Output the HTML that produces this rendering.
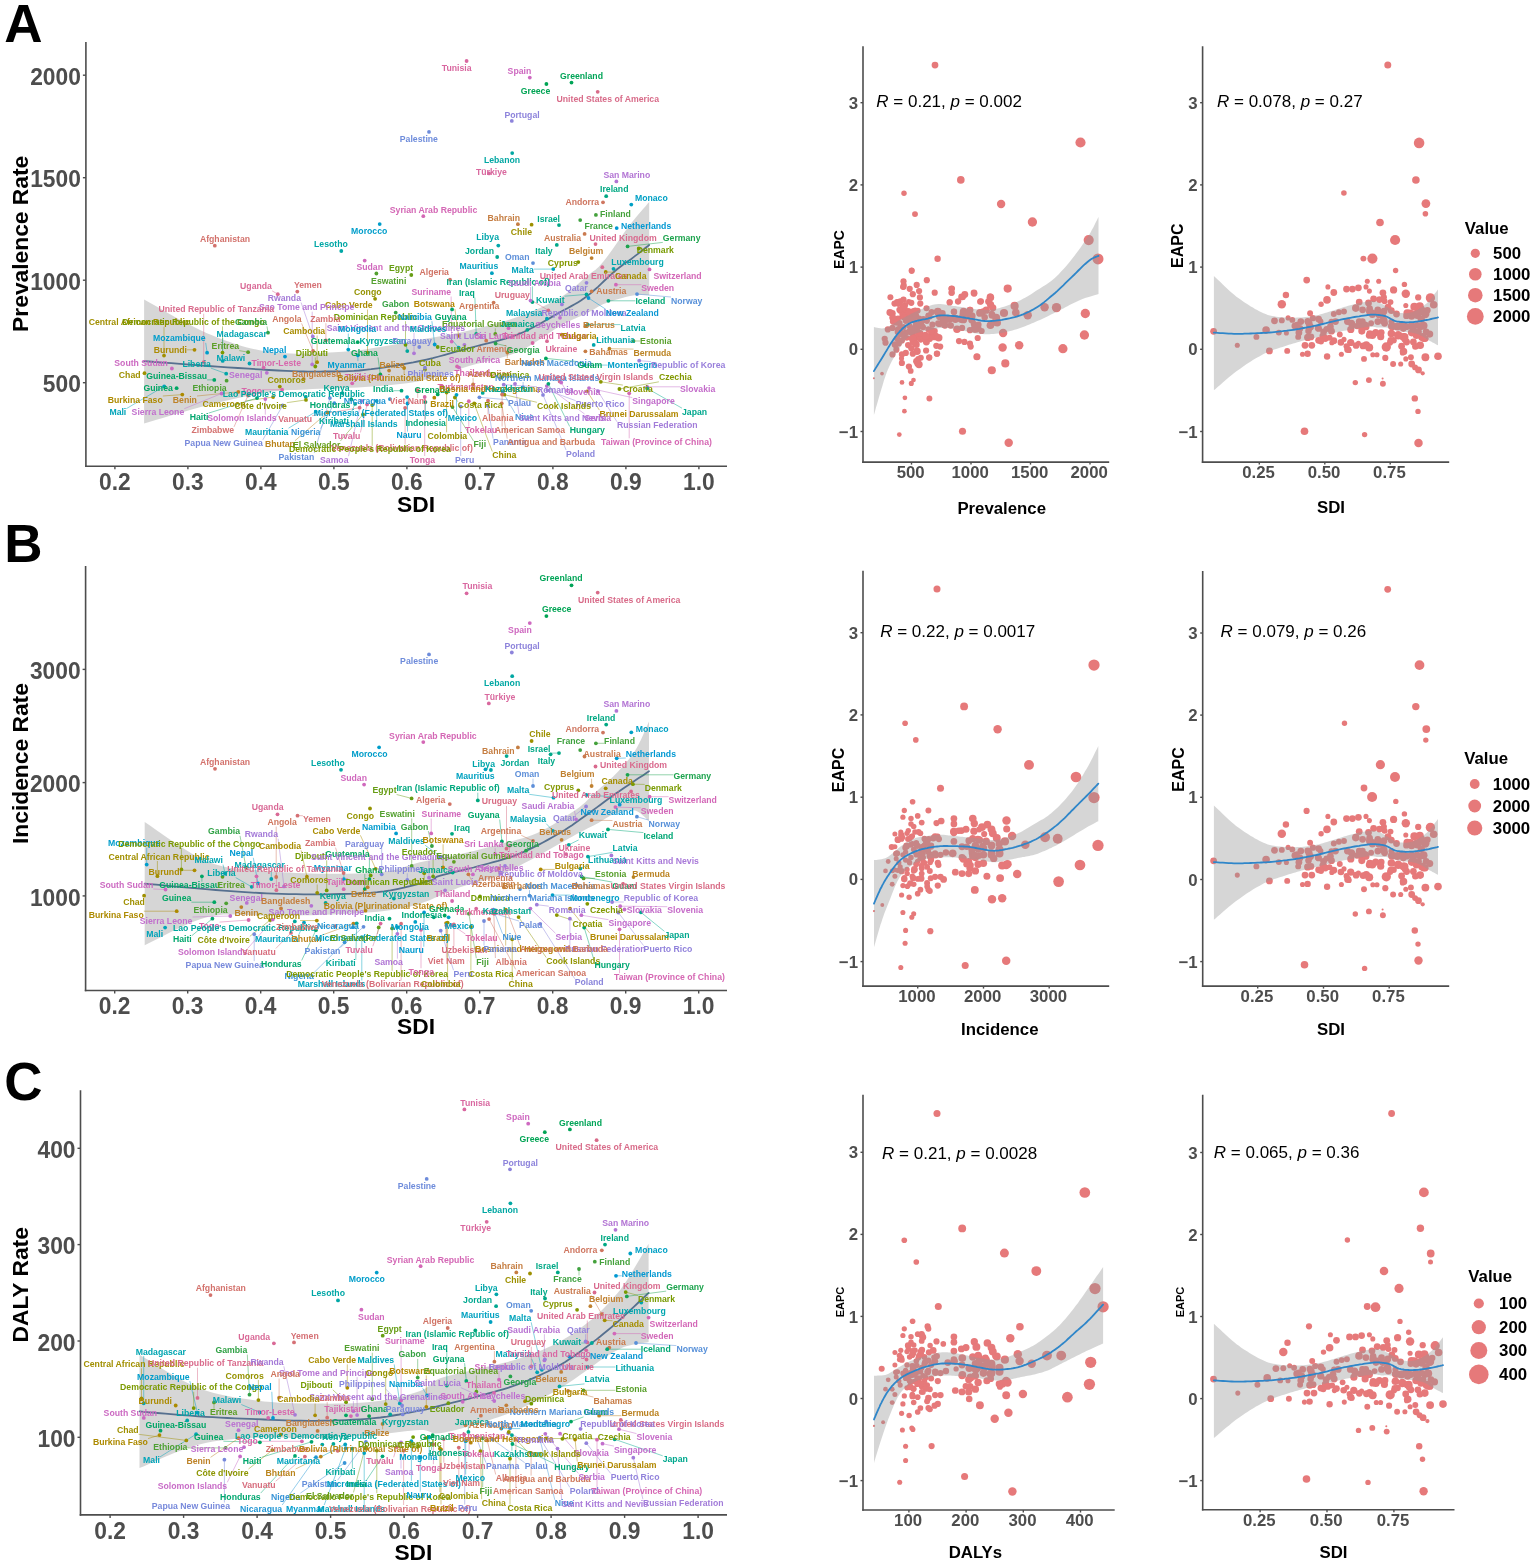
<!DOCTYPE html>
<html><head><meta charset="utf-8"><title>Figure</title>
<style>html,body{margin:0;padding:0;background:#fff;}svg{display:block;}
text{font-family:"Liberation Sans", Arial, sans-serif;font-weight:bold;}</style></head>
<body><svg width="1535" height="1566" viewBox="0 0 1535 1566">
<rect width="1535" height="1566" fill="#fff"/>
<text x="4.3" y="41.7" font-size="53" fill="#000">A</text>
<text x="4.3" y="562.4" font-size="53" fill="#000">B</text>
<text x="4.3" y="1099.8" font-size="53" fill="#000">C</text>
<circle cx="935.0" cy="65.1" r="3.39" fill="#e6797a"/>
<circle cx="1080.5" cy="142.5" r="5.08" fill="#e6797a"/>
<circle cx="960.8" cy="179.9" r="3.81" fill="#e6797a"/>
<circle cx="904.0" cy="193.3" r="2.71" fill="#e6797a"/>
<circle cx="1001.1" cy="204.0" r="4.23" fill="#e6797a"/>
<circle cx="915.0" cy="214.1" r="2.96" fill="#e6797a"/>
<circle cx="1032.4" cy="222.0" r="4.66" fill="#e6797a"/>
<circle cx="1088.7" cy="240.1" r="5.08" fill="#e6797a"/>
<circle cx="1098.0" cy="258.9" r="5.50" fill="#e6797a"/>
<circle cx="937.6" cy="258.8" r="3.22" fill="#e6797a"/>
<circle cx="911.7" cy="270.3" r="2.71" fill="#e6797a"/>
<circle cx="951.8" cy="288.6" r="3.22" fill="#e6797a"/>
<circle cx="951.8" cy="292.8" r="2.96" fill="#e6797a"/>
<circle cx="974.0" cy="293.0" r="3.39" fill="#e6797a"/>
<circle cx="1007.7" cy="288.6" r="4.07" fill="#e6797a"/>
<circle cx="961.6" cy="296.9" r="3.39" fill="#e6797a"/>
<circle cx="957.9" cy="301.6" r="2.96" fill="#e6797a"/>
<circle cx="949.8" cy="302.1" r="2.96" fill="#e6797a"/>
<circle cx="990.4" cy="297.4" r="3.81" fill="#e6797a"/>
<circle cx="980.3" cy="301.6" r="3.22" fill="#e6797a"/>
<circle cx="988.7" cy="301.6" r="3.56" fill="#e6797a"/>
<circle cx="990.4" cy="305.0" r="3.39" fill="#e6797a"/>
<circle cx="1014.6" cy="305.9" r="4.07" fill="#e6797a"/>
<circle cx="1044.6" cy="307.2" r="4.23" fill="#e6797a"/>
<circle cx="1056.5" cy="307.6" r="4.66" fill="#e6797a"/>
<circle cx="954.0" cy="311.8" r="3.22" fill="#e6797a"/>
<circle cx="970.1" cy="310.1" r="3.39" fill="#e6797a"/>
<circle cx="982.0" cy="312.6" r="3.39" fill="#e6797a"/>
<circle cx="992.1" cy="315.2" r="3.56" fill="#e6797a"/>
<circle cx="1004.0" cy="313.0" r="4.07" fill="#e6797a"/>
<circle cx="1015.8" cy="312.6" r="3.81" fill="#e6797a"/>
<circle cx="1027.7" cy="315.2" r="4.23" fill="#e6797a"/>
<circle cx="1085.3" cy="313.5" r="4.66" fill="#e6797a"/>
<circle cx="990.4" cy="325.3" r="3.81" fill="#e6797a"/>
<circle cx="997.2" cy="322.8" r="3.81" fill="#e6797a"/>
<circle cx="1003.1" cy="333.0" r="4.23" fill="#e6797a"/>
<circle cx="1084.4" cy="335.0" r="4.66" fill="#e6797a"/>
<circle cx="1002.6" cy="347.4" r="4.23" fill="#e6797a"/>
<circle cx="1019.2" cy="345.2" r="4.23" fill="#e6797a"/>
<circle cx="1062.9" cy="348.7" r="4.66" fill="#e6797a"/>
<circle cx="976.9" cy="356.7" r="3.56" fill="#e6797a"/>
<circle cx="1005.3" cy="363.4" r="4.07" fill="#e6797a"/>
<circle cx="991.8" cy="370.2" r="4.07" fill="#e6797a"/>
<circle cx="882.0" cy="373.6" r="1.86" fill="#e6797a"/>
<circle cx="873.9" cy="378.2" r="1.02" fill="#e6797a"/>
<circle cx="902.0" cy="382.4" r="2.37" fill="#e6797a"/>
<circle cx="911.3" cy="383.4" r="2.54" fill="#e6797a"/>
<circle cx="913.5" cy="380.0" r="2.37" fill="#e6797a"/>
<circle cx="904.9" cy="397.8" r="2.37" fill="#e6797a"/>
<circle cx="929.4" cy="398.5" r="2.96" fill="#e6797a"/>
<circle cx="904.4" cy="411.2" r="2.37" fill="#e6797a"/>
<circle cx="899.3" cy="434.6" r="2.37" fill="#e6797a"/>
<circle cx="962.5" cy="431.2" r="3.56" fill="#e6797a"/>
<circle cx="1008.7" cy="442.7" r="4.23" fill="#e6797a"/>
<circle cx="885.1" cy="339.2" r="1.69" fill="#e6797a"/>
<circle cx="885.4" cy="343.1" r="1.69" fill="#e6797a"/>
<circle cx="887.9" cy="329.2" r="2.12" fill="#e6797a"/>
<circle cx="892.2" cy="354.1" r="2.12" fill="#e6797a"/>
<circle cx="901.5" cy="358.4" r="2.54" fill="#e6797a"/>
<circle cx="901.5" cy="363.4" r="2.37" fill="#e6797a"/>
<circle cx="909.1" cy="366.8" r="2.54" fill="#e6797a"/>
<circle cx="917.6" cy="363.4" r="2.96" fill="#e6797a"/>
<circle cx="918.4" cy="359.2" r="2.54" fill="#e6797a"/>
<circle cx="929.1" cy="357.5" r="2.96" fill="#e6797a"/>
<circle cx="936.7" cy="353.8" r="2.96" fill="#e6797a"/>
<circle cx="911.7" cy="270.8" r="3.10" fill="#e6797a"/>
<circle cx="903.5" cy="281.3" r="3.10" fill="#e6797a"/>
<circle cx="926.8" cy="280.2" r="3.10" fill="#e6797a"/>
<circle cx="903.5" cy="286.8" r="3.10" fill="#e6797a"/>
<circle cx="916.7" cy="284.9" r="3.10" fill="#e6797a"/>
<circle cx="909.7" cy="288.8" r="3.10" fill="#e6797a"/>
<circle cx="919.1" cy="291.1" r="3.10" fill="#e6797a"/>
<circle cx="934.7" cy="292.7" r="3.10" fill="#e6797a"/>
<circle cx="912.8" cy="294.2" r="3.10" fill="#e6797a"/>
<circle cx="919.9" cy="297.4" r="3.10" fill="#e6797a"/>
<circle cx="951.5" cy="288.8" r="3.10" fill="#e6797a"/>
<circle cx="951.5" cy="292.7" r="3.10" fill="#e6797a"/>
<circle cx="962.9" cy="297.0" r="3.10" fill="#e6797a"/>
<circle cx="974.2" cy="293.5" r="3.10" fill="#e6797a"/>
<circle cx="990.2" cy="296.6" r="3.10" fill="#e6797a"/>
<circle cx="980.9" cy="301.3" r="3.10" fill="#e6797a"/>
<circle cx="949.6" cy="302.4" r="3.10" fill="#e6797a"/>
<circle cx="958.2" cy="301.3" r="3.10" fill="#e6797a"/>
<circle cx="991.0" cy="304.4" r="3.10" fill="#e6797a"/>
<circle cx="894.5" cy="303.6" r="3.10" fill="#e6797a"/>
<circle cx="900.3" cy="301.3" r="3.10" fill="#e6797a"/>
<circle cx="903.5" cy="299.7" r="3.10" fill="#e6797a"/>
<circle cx="905.0" cy="305.2" r="3.10" fill="#e6797a"/>
<circle cx="911.3" cy="302.8" r="3.10" fill="#e6797a"/>
<circle cx="920.3" cy="303.6" r="3.10" fill="#e6797a"/>
<circle cx="900.3" cy="310.7" r="3.10" fill="#e6797a"/>
<circle cx="915.2" cy="310.7" r="3.10" fill="#e6797a"/>
<circle cx="931.6" cy="312.2" r="3.10" fill="#e6797a"/>
<circle cx="953.9" cy="311.8" r="3.10" fill="#e6797a"/>
<circle cx="969.9" cy="309.9" r="3.10" fill="#e6797a"/>
<circle cx="983.2" cy="311.4" r="3.10" fill="#e6797a"/>
<circle cx="991.8" cy="313.8" r="3.10" fill="#e6797a"/>
<circle cx="905.8" cy="313.8" r="3.10" fill="#e6797a"/>
<circle cx="898.0" cy="318.5" r="3.10" fill="#e6797a"/>
<circle cx="903.5" cy="316.9" r="3.10" fill="#e6797a"/>
<circle cx="909.7" cy="316.9" r="3.10" fill="#e6797a"/>
<circle cx="916.0" cy="315.3" r="3.10" fill="#e6797a"/>
<circle cx="893.3" cy="321.6" r="3.10" fill="#e6797a"/>
<circle cx="899.5" cy="323.2" r="3.10" fill="#e6797a"/>
<circle cx="905.8" cy="320.8" r="3.10" fill="#e6797a"/>
<circle cx="912.8" cy="320.0" r="3.10" fill="#e6797a"/>
<circle cx="919.1" cy="318.5" r="3.10" fill="#e6797a"/>
<circle cx="926.9" cy="320.8" r="3.10" fill="#e6797a"/>
<circle cx="932.4" cy="324.7" r="3.10" fill="#e6797a"/>
<circle cx="939.4" cy="323.9" r="3.10" fill="#e6797a"/>
<circle cx="944.1" cy="321.6" r="3.10" fill="#e6797a"/>
<circle cx="887.8" cy="329.4" r="3.10" fill="#e6797a"/>
<circle cx="892.5" cy="327.9" r="3.10" fill="#e6797a"/>
<circle cx="898.0" cy="329.4" r="3.10" fill="#e6797a"/>
<circle cx="903.5" cy="327.1" r="3.10" fill="#e6797a"/>
<circle cx="909.7" cy="326.3" r="3.10" fill="#e6797a"/>
<circle cx="916.0" cy="324.7" r="3.10" fill="#e6797a"/>
<circle cx="922.2" cy="326.3" r="3.10" fill="#e6797a"/>
<circle cx="928.5" cy="329.4" r="3.10" fill="#e6797a"/>
<circle cx="934.7" cy="331.0" r="3.10" fill="#e6797a"/>
<circle cx="900.3" cy="334.1" r="3.10" fill="#e6797a"/>
<circle cx="905.8" cy="332.5" r="3.10" fill="#e6797a"/>
<circle cx="912.8" cy="332.5" r="3.10" fill="#e6797a"/>
<circle cx="919.1" cy="334.1" r="3.10" fill="#e6797a"/>
<circle cx="925.3" cy="334.9" r="3.10" fill="#e6797a"/>
<circle cx="931.6" cy="334.1" r="3.10" fill="#e6797a"/>
<circle cx="934.7" cy="337.2" r="3.10" fill="#e6797a"/>
<circle cx="962.1" cy="327.9" r="3.10" fill="#e6797a"/>
<circle cx="969.9" cy="330.2" r="3.10" fill="#e6797a"/>
<circle cx="973.8" cy="323.9" r="3.10" fill="#e6797a"/>
<circle cx="978.5" cy="324.7" r="3.10" fill="#e6797a"/>
<circle cx="981.6" cy="331.0" r="3.10" fill="#e6797a"/>
<circle cx="991.0" cy="324.7" r="3.10" fill="#e6797a"/>
<circle cx="995.7" cy="320.0" r="3.10" fill="#e6797a"/>
<circle cx="884.7" cy="338.8" r="3.10" fill="#e6797a"/>
<circle cx="885.5" cy="342.7" r="3.10" fill="#e6797a"/>
<circle cx="897.2" cy="338.8" r="3.10" fill="#e6797a"/>
<circle cx="901.9" cy="340.4" r="3.10" fill="#e6797a"/>
<circle cx="895.6" cy="345.1" r="3.10" fill="#e6797a"/>
<circle cx="898.8" cy="343.5" r="3.10" fill="#e6797a"/>
<circle cx="904.2" cy="336.5" r="3.10" fill="#e6797a"/>
<circle cx="916.0" cy="338.0" r="3.10" fill="#e6797a"/>
<circle cx="920.7" cy="339.6" r="3.10" fill="#e6797a"/>
<circle cx="926.1" cy="338.8" r="3.10" fill="#e6797a"/>
<circle cx="930.0" cy="338.8" r="3.10" fill="#e6797a"/>
<circle cx="916.0" cy="343.5" r="3.10" fill="#e6797a"/>
<circle cx="908.1" cy="345.1" r="3.10" fill="#e6797a"/>
<circle cx="911.3" cy="348.2" r="3.10" fill="#e6797a"/>
<circle cx="896.4" cy="349.7" r="3.10" fill="#e6797a"/>
<circle cx="892.5" cy="354.4" r="3.10" fill="#e6797a"/>
<circle cx="901.9" cy="354.4" r="3.10" fill="#e6797a"/>
<circle cx="905.8" cy="352.9" r="3.10" fill="#e6797a"/>
<circle cx="912.8" cy="353.7" r="3.10" fill="#e6797a"/>
<circle cx="936.3" cy="345.8" r="3.10" fill="#e6797a"/>
<circle cx="940.2" cy="346.6" r="3.10" fill="#e6797a"/>
<circle cx="926.1" cy="350.5" r="3.10" fill="#e6797a"/>
<circle cx="929.3" cy="357.6" r="3.10" fill="#e6797a"/>
<circle cx="937.1" cy="353.7" r="3.10" fill="#e6797a"/>
<circle cx="959.0" cy="341.1" r="3.10" fill="#e6797a"/>
<circle cx="964.4" cy="341.9" r="3.10" fill="#e6797a"/>
<circle cx="969.9" cy="343.5" r="3.10" fill="#e6797a"/>
<circle cx="970.7" cy="346.6" r="3.10" fill="#e6797a"/>
<circle cx="977.7" cy="338.0" r="3.10" fill="#e6797a"/>
<circle cx="977.0" cy="356.8" r="3.10" fill="#e6797a"/>
<circle cx="901.9" cy="363.0" r="3.10" fill="#e6797a"/>
<circle cx="908.9" cy="366.6" r="3.10" fill="#e6797a"/>
<circle cx="918.3" cy="359.1" r="3.10" fill="#e6797a"/>
<circle cx="917.5" cy="363.8" r="3.10" fill="#e6797a"/>
<circle cx="898.4" cy="331.7" r="3.72" fill="#e6797a"/>
<circle cx="899.0" cy="329.7" r="3.39" fill="#e6797a"/>
<circle cx="915.7" cy="343.9" r="3.43" fill="#e6797a"/>
<circle cx="912.0" cy="318.1" r="3.11" fill="#e6797a"/>
<circle cx="926.4" cy="342.0" r="3.49" fill="#e6797a"/>
<circle cx="938.7" cy="337.8" r="3.76" fill="#e6797a"/>
<circle cx="902.8" cy="306.1" r="2.96" fill="#e6797a"/>
<circle cx="923.2" cy="327.3" r="2.86" fill="#e6797a"/>
<circle cx="913.6" cy="337.1" r="2.83" fill="#e6797a"/>
<circle cx="900.1" cy="329.4" r="3.64" fill="#e6797a"/>
<circle cx="896.4" cy="322.4" r="3.30" fill="#e6797a"/>
<circle cx="904.9" cy="309.4" r="3.08" fill="#e6797a"/>
<circle cx="944.4" cy="324.5" r="3.64" fill="#e6797a"/>
<circle cx="908.5" cy="311.1" r="3.03" fill="#e6797a"/>
<circle cx="909.9" cy="331.6" r="3.56" fill="#e6797a"/>
<circle cx="894.9" cy="344.5" r="3.19" fill="#e6797a"/>
<circle cx="929.8" cy="316.8" r="2.81" fill="#e6797a"/>
<circle cx="916.4" cy="361.3" r="3.27" fill="#e6797a"/>
<circle cx="921.0" cy="323.2" r="2.88" fill="#e6797a"/>
<circle cx="898.7" cy="304.0" r="3.07" fill="#e6797a"/>
<circle cx="918.6" cy="333.3" r="3.76" fill="#e6797a"/>
<circle cx="911.1" cy="316.9" r="3.05" fill="#e6797a"/>
<circle cx="913.7" cy="328.9" r="3.59" fill="#e6797a"/>
<circle cx="916.5" cy="344.8" r="3.25" fill="#e6797a"/>
<circle cx="916.8" cy="350.9" r="2.93" fill="#e6797a"/>
<circle cx="907.7" cy="318.7" r="3.22" fill="#e6797a"/>
<circle cx="912.7" cy="338.4" r="3.77" fill="#e6797a"/>
<circle cx="913.7" cy="311.7" r="3.68" fill="#e6797a"/>
<circle cx="913.3" cy="341.8" r="3.65" fill="#e6797a"/>
<circle cx="907.9" cy="319.3" r="3.78" fill="#e6797a"/>
<circle cx="912.6" cy="338.1" r="3.57" fill="#e6797a"/>
<circle cx="906.8" cy="337.8" r="2.88" fill="#e6797a"/>
<circle cx="922.2" cy="337.4" r="3.05" fill="#e6797a"/>
<circle cx="902.9" cy="315.6" r="3.25" fill="#e6797a"/>
<circle cx="922.1" cy="320.4" r="3.37" fill="#e6797a"/>
<circle cx="915.1" cy="317.3" r="2.96" fill="#e6797a"/>
<circle cx="926.5" cy="308.3" r="3.05" fill="#e6797a"/>
<circle cx="917.0" cy="351.2" r="3.74" fill="#e6797a"/>
<circle cx="919.0" cy="364.5" r="3.68" fill="#e6797a"/>
<circle cx="902.4" cy="314.6" r="2.91" fill="#e6797a"/>
<circle cx="936.1" cy="335.8" r="3.04" fill="#e6797a"/>
<circle cx="908.6" cy="312.8" r="3.62" fill="#e6797a"/>
<circle cx="903.9" cy="317.3" r="2.98" fill="#e6797a"/>
<circle cx="910.1" cy="319.1" r="3.03" fill="#e6797a"/>
<circle cx="892.3" cy="313.3" r="3.41" fill="#e6797a"/>
<circle cx="920.8" cy="357.8" r="3.01" fill="#e6797a"/>
<circle cx="931.0" cy="336.3" r="3.25" fill="#e6797a"/>
<circle cx="929.3" cy="337.8" r="3.17" fill="#e6797a"/>
<circle cx="920.3" cy="333.1" r="3.16" fill="#e6797a"/>
<circle cx="942.8" cy="317.5" r="3.46" fill="#e6797a"/>
<circle cx="920.3" cy="322.9" r="2.94" fill="#e6797a"/>
<circle cx="925.9" cy="335.9" r="3.71" fill="#e6797a"/>
<circle cx="917.8" cy="310.7" r="2.83" fill="#e6797a"/>
<circle cx="918.0" cy="326.7" r="3.53" fill="#e6797a"/>
<circle cx="910.7" cy="370.9" r="2.88" fill="#e6797a"/>
<circle cx="911.1" cy="330.8" r="3.70" fill="#e6797a"/>
<circle cx="923.3" cy="319.7" r="3.59" fill="#e6797a"/>
<circle cx="931.2" cy="330.7" r="3.48" fill="#e6797a"/>
<circle cx="938.3" cy="323.5" r="3.22" fill="#e6797a"/>
<circle cx="928.6" cy="315.9" r="3.37" fill="#e6797a"/>
<circle cx="963.6" cy="311.5" r="3.79" fill="#e6797a"/>
<circle cx="968.0" cy="315.9" r="3.85" fill="#e6797a"/>
<circle cx="996.2" cy="317.7" r="3.95" fill="#e6797a"/>
<circle cx="957.0" cy="329.2" r="3.79" fill="#e6797a"/>
<circle cx="950.7" cy="325.6" r="3.24" fill="#e6797a"/>
<circle cx="971.8" cy="316.1" r="3.81" fill="#e6797a"/>
<circle cx="963.3" cy="319.4" r="3.92" fill="#e6797a"/>
<circle cx="955.4" cy="318.8" r="4.17" fill="#e6797a"/>
<circle cx="971.7" cy="320.1" r="3.48" fill="#e6797a"/>
<circle cx="968.3" cy="312.4" r="3.33" fill="#e6797a"/>
<circle cx="986.2" cy="310.2" r="3.64" fill="#e6797a"/>
<circle cx="980.0" cy="312.9" r="3.88" fill="#e6797a"/>
<circle cx="975.8" cy="328.8" r="4.04" fill="#e6797a"/>
<circle cx="992.8" cy="307.8" r="3.57" fill="#e6797a"/>
<circle cx="962.8" cy="314.1" r="3.30" fill="#e6797a"/>
<circle cx="949.2" cy="319.0" r="4.09" fill="#e6797a"/>
<circle cx="964.8" cy="294.4" r="3.45" fill="#e6797a"/>
<circle cx="978.1" cy="328.3" r="3.45" fill="#e6797a"/>
<circle cx="974.5" cy="328.8" r="3.84" fill="#e6797a"/>
<circle cx="961.5" cy="318.9" r="4.08" fill="#e6797a"/>
<circle cx="984.7" cy="317.3" r="3.23" fill="#e6797a"/>
<circle cx="995.4" cy="322.6" r="3.19" fill="#e6797a"/>
<circle cx="942.4" cy="313.4" r="3.30" fill="#e6797a"/>
<circle cx="945.0" cy="320.7" r="3.12" fill="#e6797a"/>
<circle cx="943.2" cy="322.4" r="3.85" fill="#e6797a"/>
<circle cx="945.0" cy="325.7" r="3.02" fill="#e6797a"/>
<circle cx="939.6" cy="316.6" r="3.64" fill="#e6797a"/>
<circle cx="937.8" cy="311.8" r="3.98" fill="#e6797a"/>
<circle cx="897.1" cy="302.2" r="3.08" fill="#e6797a"/>
<circle cx="899.4" cy="309.7" r="3.07" fill="#e6797a"/>
<circle cx="898.0" cy="302.2" r="2.89" fill="#e6797a"/>
<circle cx="893.0" cy="321.4" r="3.12" fill="#e6797a"/>
<circle cx="890.4" cy="297.2" r="3.00" fill="#e6797a"/>
<circle cx="902.8" cy="287.1" r="2.72" fill="#e6797a"/>
<circle cx="908.8" cy="301.7" r="2.76" fill="#e6797a"/>
<circle cx="889.9" cy="312.5" r="3.48" fill="#e6797a"/>
<circle cx="892.7" cy="317.6" r="3.45" fill="#e6797a"/>
<circle cx="903.7" cy="285.0" r="3.07" fill="#e6797a"/>
<polygon points="873.9,327.0 874.7,327.2 875.8,327.4 877.1,327.7 878.6,328.0 880.2,328.3 881.9,328.4 883.6,328.3 885.4,327.9 887.3,327.2 889.3,326.2 891.4,325.1 893.5,323.8 895.8,322.4 898.0,321.1 900.2,319.8 902.3,318.6 904.5,317.4 906.6,316.3 908.7,315.2 910.8,314.1 912.9,313.0 915.0,312.0 917.2,311.0 919.3,310.1 921.4,309.2 923.5,308.3 925.6,307.4 927.8,306.5 929.9,305.7 932.0,305.1 934.1,304.5 936.2,304.2 938.3,304.0 940.5,304.0 942.6,304.2 944.7,304.5 946.8,304.8 948.9,305.2 951.0,305.6 953.2,305.9 955.3,306.1 957.4,306.5 959.5,306.8 961.6,307.1 963.7,307.5 965.9,307.8 968.0,308.1 970.1,308.4 972.2,308.7 974.3,309.0 976.4,309.3 978.6,309.6 980.7,309.9 982.8,310.0 984.9,310.1 987.0,310.1 989.1,309.9 991.3,309.7 993.4,309.3 995.5,308.9 997.6,308.4 999.7,307.9 1001.9,307.3 1004.0,306.7 1006.1,306.0 1008.2,305.3 1010.3,304.6 1012.4,303.7 1014.6,302.9 1016.7,301.9 1018.8,301.0 1020.9,299.9 1023.0,298.8 1025.1,297.7 1027.3,296.4 1029.4,295.2 1031.5,293.9 1033.6,292.5 1035.7,291.1 1037.8,289.8 1040.0,288.4 1042.1,287.1 1044.2,285.7 1046.3,284.4 1048.4,282.9 1050.5,281.4 1052.7,279.7 1054.8,277.9 1056.9,275.9 1059.0,273.9 1061.1,271.6 1063.3,269.3 1065.4,266.9 1067.5,264.5 1069.6,261.9 1071.7,259.3 1073.9,256.5 1076.1,253.6 1078.4,250.5 1080.6,247.4 1082.8,244.3 1084.9,241.3 1086.9,238.3 1088.7,235.6 1090.3,232.9 1091.8,230.1 1093.3,227.4 1094.6,224.8 1095.8,222.3 1096.9,220.2 1097.8,218.3 1098.5,216.9 1098.5,294.0 1097.1,294.4 1095.2,295.0 1092.9,295.7 1090.4,296.4 1087.8,297.3 1085.1,298.1 1082.5,299.0 1080.2,299.9 1078.0,300.9 1075.9,301.9 1073.7,302.9 1071.6,304.0 1069.5,305.1 1067.5,306.2 1065.4,307.3 1063.3,308.4 1061.1,309.5 1059.0,310.5 1056.9,311.6 1054.8,312.7 1052.7,313.8 1050.5,314.8 1048.4,315.9 1046.3,316.9 1044.2,317.9 1042.1,318.9 1040.0,319.9 1037.8,320.8 1035.7,321.8 1033.6,322.7 1031.5,323.6 1029.4,324.5 1027.3,325.3 1025.1,326.2 1023.0,327.0 1020.9,327.7 1018.8,328.5 1016.7,329.2 1014.6,329.8 1012.4,330.4 1010.3,331.0 1008.2,331.5 1006.1,332.0 1004.0,332.5 1001.9,332.9 999.7,333.3 997.6,333.6 995.5,333.8 993.4,334.0 991.3,334.1 989.1,334.2 987.0,334.2 984.9,334.2 982.8,334.1 980.7,334.0 978.6,333.8 976.4,333.5 974.3,333.2 972.2,332.7 970.1,332.3 968.0,331.8 965.9,331.3 963.7,330.8 961.6,330.4 959.5,330.0 957.4,329.6 955.3,329.2 953.2,328.8 951.0,328.4 948.9,328.1 946.8,327.9 944.7,327.9 942.6,327.9 940.5,328.1 938.3,328.3 936.2,328.7 934.1,329.1 932.0,329.5 929.9,329.9 927.8,330.4 925.6,330.9 923.3,331.4 921.0,332.0 918.8,332.6 916.5,333.2 914.5,333.9 912.5,334.7 910.8,335.5 909.3,336.4 908.1,337.3 907.0,338.2 906.0,339.2 905.1,340.3 904.3,341.4 903.3,342.6 902.3,344.0 901.3,345.4 900.2,346.9 899.2,348.5 898.1,350.1 897.1,351.8 896.0,353.7 894.9,355.5 893.9,357.5 892.8,359.5 891.8,361.3 890.8,363.2 889.8,365.2 888.8,367.5 887.7,369.9 886.6,372.8 885.4,376.2 884.0,380.3 882.5,385.4 880.8,391.0 879.1,396.8 877.5,402.5 876.0,407.6 874.8,412.0 873.9,415.1" fill="#999999" fill-opacity="0.4"/>
<polyline points="873.9,371.1 874.8,369.6 876.0,367.6 877.5,365.2 879.1,362.6 880.8,359.9 882.5,357.2 884.0,354.7 885.4,352.4 886.6,350.5 887.7,348.6 888.8,346.8 889.8,345.1 890.8,343.5 891.8,341.9 892.8,340.4 893.9,338.9 894.9,337.4 896.0,336.0 897.1,334.6 898.1,333.3 899.2,332.1 900.2,330.9 901.3,329.8 902.3,328.7 903.4,327.8 904.5,326.9 905.5,326.0 906.6,325.3 907.6,324.6 908.7,323.9 909.8,323.3 910.8,322.8 911.9,322.3 912.9,321.9 914.0,321.6 915.0,321.3 916.1,321.0 917.2,320.8 918.2,320.5 919.3,320.3 920.3,320.0 921.3,319.8 922.3,319.6 923.3,319.4 924.3,319.3 925.4,319.1 926.5,318.8 927.8,318.6 929.1,318.2 930.4,317.8 931.9,317.4 933.4,316.9 934.9,316.5 936.4,316.1 938.0,315.7 939.6,315.5 941.2,315.4 942.8,315.3 944.4,315.4 946.1,315.4 947.8,315.5 949.5,315.7 951.3,315.8 953.2,316.0 955.1,316.2 957.2,316.5 959.3,316.8 961.4,317.2 963.6,317.5 965.8,317.9 968.0,318.2 970.1,318.6 972.2,318.9 974.3,319.3 976.4,319.7 978.6,320.1 980.7,320.5 982.8,320.8 984.9,321.0 987.0,321.1 989.1,321.1 991.3,321.0 993.4,320.9 995.5,320.7 997.6,320.4 999.7,320.1 1001.9,319.8 1004.0,319.4 1006.1,319.0 1008.2,318.6 1010.3,318.2 1012.4,317.7 1014.6,317.2 1016.7,316.6 1018.8,315.9 1020.9,315.2 1023.0,314.4 1025.1,313.5 1027.3,312.5 1029.4,311.5 1031.5,310.4 1033.6,309.3 1035.7,308.0 1037.8,306.7 1040.0,305.3 1042.1,303.7 1044.2,302.1 1046.3,300.4 1048.4,298.6 1050.5,296.8 1052.7,295.0 1054.8,293.2 1056.9,291.3 1059.0,289.3 1061.1,287.3 1063.3,285.3 1065.4,283.2 1067.5,281.1 1069.6,279.1 1071.7,277.1 1073.9,275.0 1076.1,272.8 1078.4,270.5 1080.6,268.3 1082.8,266.2 1084.9,264.2 1086.9,262.5 1088.7,261.0 1090.3,259.8 1091.8,258.8 1093.3,258.0 1094.6,257.4 1095.8,256.9 1096.9,256.5 1097.8,256.2 1098.5,255.9" fill="none" stroke="#2f86c9" stroke-width="1.8" stroke-linecap="round"/>
<circle cx="1387.8" cy="65.1" r="3.50" fill="#e6797a"/>
<circle cx="1419.1" cy="142.9" r="5.30" fill="#e6797a"/>
<circle cx="1415.9" cy="180.0" r="3.80" fill="#e6797a"/>
<circle cx="1343.9" cy="193.0" r="2.80" fill="#e6797a"/>
<circle cx="1425.9" cy="203.6" r="4.40" fill="#e6797a"/>
<circle cx="1425.4" cy="213.8" r="2.80" fill="#e6797a"/>
<circle cx="1380.0" cy="222.5" r="3.81" fill="#e6797a"/>
<circle cx="1395.1" cy="240.0" r="5.08" fill="#e6797a"/>
<circle cx="1363.4" cy="258.6" r="2.96" fill="#e6797a"/>
<circle cx="1372.4" cy="258.6" r="5.08" fill="#e6797a"/>
<circle cx="1395.6" cy="270.5" r="2.71" fill="#e6797a"/>
<circle cx="1306.7" cy="280.1" r="3.39" fill="#e6797a"/>
<circle cx="1367.3" cy="281.3" r="2.54" fill="#e6797a"/>
<circle cx="1378.7" cy="281.3" r="2.54" fill="#e6797a"/>
<circle cx="1327.9" cy="286.9" r="2.54" fill="#e6797a"/>
<circle cx="1404.4" cy="284.4" r="2.71" fill="#e6797a"/>
<circle cx="1333.8" cy="292.5" r="3.39" fill="#e6797a"/>
<circle cx="1346.5" cy="289.1" r="3.39" fill="#e6797a"/>
<circle cx="1352.4" cy="289.1" r="3.39" fill="#e6797a"/>
<circle cx="1358.4" cy="287.8" r="3.39" fill="#e6797a"/>
<circle cx="1366.0" cy="286.9" r="2.54" fill="#e6797a"/>
<circle cx="1369.4" cy="291.1" r="2.54" fill="#e6797a"/>
<circle cx="1382.9" cy="292.8" r="3.39" fill="#e6797a"/>
<circle cx="1405.8" cy="293.7" r="4.23" fill="#e6797a"/>
<circle cx="1285.9" cy="295.0" r="3.22" fill="#e6797a"/>
<circle cx="1327.0" cy="299.9" r="3.81" fill="#e6797a"/>
<circle cx="1321.1" cy="304.3" r="2.71" fill="#e6797a"/>
<circle cx="1281.8" cy="304.3" r="4.23" fill="#e6797a"/>
<circle cx="1359.2" cy="302.1" r="3.39" fill="#e6797a"/>
<circle cx="1368.5" cy="303.0" r="3.39" fill="#e6797a"/>
<circle cx="1373.6" cy="298.8" r="3.39" fill="#e6797a"/>
<circle cx="1379.5" cy="299.6" r="3.39" fill="#e6797a"/>
<circle cx="1384.6" cy="301.3" r="2.96" fill="#e6797a"/>
<circle cx="1390.5" cy="302.1" r="2.96" fill="#e6797a"/>
<circle cx="1388.0" cy="307.2" r="3.39" fill="#e6797a"/>
<circle cx="1405.8" cy="305.5" r="2.54" fill="#e6797a"/>
<circle cx="1430.4" cy="297.9" r="4.66" fill="#e6797a"/>
<circle cx="1433.7" cy="304.7" r="3.81" fill="#e6797a"/>
<circle cx="1310.1" cy="313.2" r="2.96" fill="#e6797a"/>
<circle cx="1274.5" cy="320.8" r="3.39" fill="#e6797a"/>
<circle cx="1281.8" cy="320.4" r="2.96" fill="#e6797a"/>
<circle cx="1288.1" cy="317.9" r="2.54" fill="#e6797a"/>
<circle cx="1292.3" cy="319.9" r="2.96" fill="#e6797a"/>
<circle cx="1300.8" cy="321.6" r="3.39" fill="#e6797a"/>
<circle cx="1294.9" cy="325.9" r="3.39" fill="#e6797a"/>
<circle cx="1299.9" cy="328.4" r="3.39" fill="#e6797a"/>
<circle cx="1318.6" cy="319.1" r="3.39" fill="#e6797a"/>
<circle cx="1333.8" cy="314.0" r="2.96" fill="#e6797a"/>
<circle cx="1338.9" cy="312.3" r="2.96" fill="#e6797a"/>
<circle cx="1344.0" cy="311.5" r="2.96" fill="#e6797a"/>
<circle cx="1355.8" cy="308.1" r="3.81" fill="#e6797a"/>
<circle cx="1362.6" cy="309.8" r="3.39" fill="#e6797a"/>
<circle cx="1369.4" cy="311.5" r="3.39" fill="#e6797a"/>
<circle cx="1377.8" cy="309.8" r="3.39" fill="#e6797a"/>
<circle cx="1382.9" cy="314.9" r="2.96" fill="#e6797a"/>
<circle cx="1396.5" cy="314.0" r="3.39" fill="#e6797a"/>
<circle cx="1410.0" cy="313.2" r="3.81" fill="#e6797a"/>
<circle cx="1416.8" cy="314.0" r="4.23" fill="#e6797a"/>
<circle cx="1425.3" cy="314.0" r="4.23" fill="#e6797a"/>
<circle cx="1213.6" cy="331.3" r="3.39" fill="#e6797a"/>
<circle cx="1266.1" cy="330.1" r="3.81" fill="#e6797a"/>
<circle cx="1278.8" cy="332.6" r="2.96" fill="#e6797a"/>
<circle cx="1286.4" cy="333.0" r="2.54" fill="#e6797a"/>
<circle cx="1298.2" cy="336.9" r="2.96" fill="#e6797a"/>
<circle cx="1310.9" cy="336.9" r="3.39" fill="#e6797a"/>
<circle cx="1318.6" cy="328.4" r="3.39" fill="#e6797a"/>
<circle cx="1323.6" cy="331.8" r="3.39" fill="#e6797a"/>
<circle cx="1330.4" cy="326.7" r="3.39" fill="#e6797a"/>
<circle cx="1335.5" cy="321.6" r="3.39" fill="#e6797a"/>
<circle cx="1347.4" cy="321.6" r="3.39" fill="#e6797a"/>
<circle cx="1352.4" cy="325.0" r="3.39" fill="#e6797a"/>
<circle cx="1359.2" cy="321.6" r="3.39" fill="#e6797a"/>
<circle cx="1365.1" cy="325.0" r="3.39" fill="#e6797a"/>
<circle cx="1371.1" cy="323.3" r="2.96" fill="#e6797a"/>
<circle cx="1377.8" cy="321.6" r="3.39" fill="#e6797a"/>
<circle cx="1384.6" cy="323.3" r="3.39" fill="#e6797a"/>
<circle cx="1391.4" cy="321.6" r="2.96" fill="#e6797a"/>
<circle cx="1401.6" cy="325.0" r="3.39" fill="#e6797a"/>
<circle cx="1406.6" cy="326.7" r="3.39" fill="#e6797a"/>
<circle cx="1413.4" cy="328.4" r="3.39" fill="#e6797a"/>
<circle cx="1420.2" cy="326.7" r="3.39" fill="#e6797a"/>
<circle cx="1381.2" cy="332.6" r="3.39" fill="#e6797a"/>
<circle cx="1391.4" cy="333.5" r="3.81" fill="#e6797a"/>
<circle cx="1398.2" cy="335.2" r="4.23" fill="#e6797a"/>
<circle cx="1403.3" cy="336.9" r="3.81" fill="#e6797a"/>
<circle cx="1411.7" cy="332.6" r="3.81" fill="#e6797a"/>
<circle cx="1418.5" cy="331.8" r="3.39" fill="#e6797a"/>
<circle cx="1426.1" cy="331.8" r="3.39" fill="#e6797a"/>
<circle cx="1425.3" cy="338.6" r="3.39" fill="#e6797a"/>
<circle cx="1237.3" cy="345.3" r="2.54" fill="#e6797a"/>
<circle cx="1256.4" cy="336.9" r="2.96" fill="#e6797a"/>
<circle cx="1269.4" cy="350.9" r="3.39" fill="#e6797a"/>
<circle cx="1287.2" cy="350.9" r="2.96" fill="#e6797a"/>
<circle cx="1305.0" cy="345.3" r="3.39" fill="#e6797a"/>
<circle cx="1311.8" cy="345.3" r="3.39" fill="#e6797a"/>
<circle cx="1318.6" cy="340.3" r="3.39" fill="#e6797a"/>
<circle cx="1325.3" cy="338.6" r="3.39" fill="#e6797a"/>
<circle cx="1331.8" cy="342.8" r="2.54" fill="#e6797a"/>
<circle cx="1344.0" cy="339.4" r="2.54" fill="#e6797a"/>
<circle cx="1346.5" cy="346.2" r="2.96" fill="#e6797a"/>
<circle cx="1349.1" cy="350.4" r="2.54" fill="#e6797a"/>
<circle cx="1358.4" cy="343.3" r="2.54" fill="#e6797a"/>
<circle cx="1366.3" cy="345.0" r="3.81" fill="#e6797a"/>
<circle cx="1370.2" cy="334.8" r="2.54" fill="#e6797a"/>
<circle cx="1386.3" cy="347.0" r="4.66" fill="#e6797a"/>
<circle cx="1401.6" cy="346.2" r="3.39" fill="#e6797a"/>
<circle cx="1406.6" cy="342.0" r="3.39" fill="#e6797a"/>
<circle cx="1413.4" cy="342.0" r="3.39" fill="#e6797a"/>
<circle cx="1420.2" cy="345.3" r="3.81" fill="#e6797a"/>
<circle cx="1423.6" cy="338.6" r="3.39" fill="#e6797a"/>
<circle cx="1302.5" cy="354.3" r="2.54" fill="#e6797a"/>
<circle cx="1307.6" cy="353.8" r="3.22" fill="#e6797a"/>
<circle cx="1341.4" cy="354.3" r="2.54" fill="#e6797a"/>
<circle cx="1364.0" cy="358.9" r="2.96" fill="#e6797a"/>
<circle cx="1372.8" cy="354.7" r="2.54" fill="#e6797a"/>
<circle cx="1377.0" cy="354.7" r="2.54" fill="#e6797a"/>
<circle cx="1393.1" cy="364.0" r="2.96" fill="#e6797a"/>
<circle cx="1400.7" cy="364.0" r="2.54" fill="#e6797a"/>
<circle cx="1402.4" cy="353.0" r="2.54" fill="#e6797a"/>
<circle cx="1405.8" cy="358.9" r="2.54" fill="#e6797a"/>
<circle cx="1410.9" cy="357.2" r="2.96" fill="#e6797a"/>
<circle cx="1411.7" cy="364.0" r="3.39" fill="#e6797a"/>
<circle cx="1415.1" cy="367.4" r="2.96" fill="#e6797a"/>
<circle cx="1418.5" cy="369.9" r="3.39" fill="#e6797a"/>
<circle cx="1422.7" cy="373.3" r="2.12" fill="#e6797a"/>
<circle cx="1438.0" cy="356.3" r="3.81" fill="#e6797a"/>
<circle cx="1355.3" cy="382.6" r="2.71" fill="#e6797a"/>
<circle cx="1368.9" cy="380.1" r="2.96" fill="#e6797a"/>
<circle cx="1382.6" cy="378.4" r="1.02" fill="#e6797a"/>
<circle cx="1382.9" cy="383.8" r="2.96" fill="#e6797a"/>
<circle cx="1414.8" cy="398.4" r="3.22" fill="#e6797a"/>
<circle cx="1418.0" cy="411.4" r="2.71" fill="#e6797a"/>
<circle cx="1304.5" cy="431.2" r="3.81" fill="#e6797a"/>
<circle cx="1364.6" cy="434.6" r="2.71" fill="#e6797a"/>
<circle cx="1418.5" cy="443.1" r="4.23" fill="#e6797a"/>
<circle cx="1333.8" cy="340.8" r="3.45" fill="#e6797a"/>
<circle cx="1326.5" cy="329.1" r="3.06" fill="#e6797a"/>
<circle cx="1312.9" cy="318.2" r="3.10" fill="#e6797a"/>
<circle cx="1309.0" cy="323.2" r="3.57" fill="#e6797a"/>
<circle cx="1323.1" cy="336.3" r="3.70" fill="#e6797a"/>
<circle cx="1307.7" cy="337.4" r="3.60" fill="#e6797a"/>
<circle cx="1309.3" cy="327.9" r="3.35" fill="#e6797a"/>
<circle cx="1310.5" cy="327.0" r="3.45" fill="#e6797a"/>
<circle cx="1325.1" cy="337.7" r="2.89" fill="#e6797a"/>
<circle cx="1327.1" cy="356.5" r="3.20" fill="#e6797a"/>
<circle cx="1331.5" cy="331.2" r="3.41" fill="#e6797a"/>
<circle cx="1331.4" cy="321.6" r="2.92" fill="#e6797a"/>
<circle cx="1296.9" cy="324.8" r="2.98" fill="#e6797a"/>
<circle cx="1340.9" cy="342.4" r="3.31" fill="#e6797a"/>
<circle cx="1321.0" cy="341.4" r="3.02" fill="#e6797a"/>
<circle cx="1320.5" cy="321.3" r="2.91" fill="#e6797a"/>
<circle cx="1317.9" cy="328.1" r="3.08" fill="#e6797a"/>
<circle cx="1339.8" cy="334.5" r="2.92" fill="#e6797a"/>
<circle cx="1308.5" cy="331.1" r="3.28" fill="#e6797a"/>
<circle cx="1307.7" cy="321.2" r="3.26" fill="#e6797a"/>
<circle cx="1298.9" cy="332.7" r="3.39" fill="#e6797a"/>
<circle cx="1329.5" cy="337.7" r="3.04" fill="#e6797a"/>
<circle cx="1383.9" cy="297.3" r="3.04" fill="#e6797a"/>
<circle cx="1375.7" cy="332.7" r="3.58" fill="#e6797a"/>
<circle cx="1383.6" cy="320.5" r="3.97" fill="#e6797a"/>
<circle cx="1351.5" cy="323.3" r="3.57" fill="#e6797a"/>
<circle cx="1372.4" cy="314.8" r="3.29" fill="#e6797a"/>
<circle cx="1369.8" cy="333.7" r="3.47" fill="#e6797a"/>
<circle cx="1362.1" cy="330.0" r="3.01" fill="#e6797a"/>
<circle cx="1347.8" cy="349.5" r="3.59" fill="#e6797a"/>
<circle cx="1356.1" cy="345.5" r="3.35" fill="#e6797a"/>
<circle cx="1362.6" cy="321.4" r="3.13" fill="#e6797a"/>
<circle cx="1365.7" cy="326.4" r="3.89" fill="#e6797a"/>
<circle cx="1361.7" cy="327.2" r="3.61" fill="#e6797a"/>
<circle cx="1372.4" cy="313.3" r="3.77" fill="#e6797a"/>
<circle cx="1350.8" cy="329.4" r="3.60" fill="#e6797a"/>
<circle cx="1383.9" cy="311.2" r="3.51" fill="#e6797a"/>
<circle cx="1369.6" cy="308.7" r="3.38" fill="#e6797a"/>
<circle cx="1379.1" cy="314.5" r="3.79" fill="#e6797a"/>
<circle cx="1350.7" cy="342.5" r="3.62" fill="#e6797a"/>
<circle cx="1363.1" cy="345.9" r="3.47" fill="#e6797a"/>
<circle cx="1357.0" cy="326.1" r="3.08" fill="#e6797a"/>
<circle cx="1368.9" cy="335.6" r="3.12" fill="#e6797a"/>
<circle cx="1361.8" cy="331.1" r="3.55" fill="#e6797a"/>
<circle cx="1385.9" cy="346.6" r="3.34" fill="#e6797a"/>
<circle cx="1393.6" cy="340.2" r="3.20" fill="#e6797a"/>
<circle cx="1404.6" cy="336.9" r="3.84" fill="#e6797a"/>
<circle cx="1415.4" cy="346.4" r="3.30" fill="#e6797a"/>
<circle cx="1391.3" cy="310.6" r="3.44" fill="#e6797a"/>
<circle cx="1421.3" cy="319.3" r="3.66" fill="#e6797a"/>
<circle cx="1416.5" cy="332.9" r="3.35" fill="#e6797a"/>
<circle cx="1372.3" cy="335.1" r="3.99" fill="#e6797a"/>
<circle cx="1422.2" cy="337.1" r="4.07" fill="#e6797a"/>
<circle cx="1397.4" cy="326.6" r="4.00" fill="#e6797a"/>
<circle cx="1369.2" cy="347.5" r="4.00" fill="#e6797a"/>
<circle cx="1418.2" cy="297.4" r="3.13" fill="#e6797a"/>
<circle cx="1406.4" cy="315.9" r="3.21" fill="#e6797a"/>
<circle cx="1390.1" cy="342.4" r="3.07" fill="#e6797a"/>
<circle cx="1380.7" cy="336.7" r="3.59" fill="#e6797a"/>
<circle cx="1392.1" cy="326.2" r="4.11" fill="#e6797a"/>
<circle cx="1403.5" cy="351.4" r="3.76" fill="#e6797a"/>
<circle cx="1403.3" cy="328.6" r="3.31" fill="#e6797a"/>
<circle cx="1403.3" cy="325.9" r="4.03" fill="#e6797a"/>
<circle cx="1411.6" cy="316.3" r="3.54" fill="#e6797a"/>
<circle cx="1385.3" cy="357.9" r="3.09" fill="#e6797a"/>
<circle cx="1425.4" cy="357.3" r="3.93" fill="#e6797a"/>
<circle cx="1393.6" cy="289.9" r="3.63" fill="#e6797a"/>
<circle cx="1410.7" cy="314.2" r="4.03" fill="#e6797a"/>
<circle cx="1416.4" cy="335.3" r="3.68" fill="#e6797a"/>
<circle cx="1407.2" cy="313.0" r="3.80" fill="#e6797a"/>
<circle cx="1417.1" cy="325.2" r="3.28" fill="#e6797a"/>
<circle cx="1429.7" cy="334.1" r="3.57" fill="#e6797a"/>
<circle cx="1390.7" cy="340.3" r="3.19" fill="#e6797a"/>
<circle cx="1405.0" cy="339.4" r="3.34" fill="#e6797a"/>
<circle cx="1424.2" cy="313.3" r="3.33" fill="#e6797a"/>
<circle cx="1427.4" cy="310.2" r="3.26" fill="#e6797a"/>
<circle cx="1414.3" cy="306.7" r="3.97" fill="#e6797a"/>
<circle cx="1421.6" cy="309.4" r="3.49" fill="#e6797a"/>
<circle cx="1419.8" cy="306.4" r="4.03" fill="#e6797a"/>
<circle cx="1423.5" cy="325.7" r="4.02" fill="#e6797a"/>
<circle cx="1411.6" cy="325.9" r="3.77" fill="#e6797a"/>
<circle cx="1420.4" cy="310.4" r="3.80" fill="#e6797a"/>
<circle cx="1423.6" cy="311.8" r="3.43" fill="#e6797a"/>
<circle cx="1417.2" cy="314.8" r="4.21" fill="#e6797a"/>
<polygon points="1213.9,275.9 1215.5,277.4 1217.6,279.4 1220.1,281.8 1222.8,284.5 1225.7,287.2 1228.6,289.9 1231.4,292.4 1233.9,294.5 1236.1,296.4 1238.3,298.0 1240.5,299.6 1242.5,301.1 1244.6,302.5 1246.7,303.8 1248.7,305.1 1250.8,306.4 1252.9,307.6 1255.0,308.9 1257.2,310.1 1259.3,311.2 1261.4,312.3 1263.5,313.2 1265.6,314.1 1267.8,314.9 1269.9,315.5 1272.0,316.0 1274.1,316.3 1276.2,316.7 1278.3,316.9 1280.5,317.1 1282.6,317.2 1284.7,317.4 1286.8,317.5 1288.9,317.6 1291.0,317.7 1293.2,317.7 1295.3,317.7 1297.4,317.6 1299.5,317.5 1301.6,317.4 1303.7,317.2 1305.9,317.0 1308.0,316.7 1310.1,316.4 1312.2,316.1 1314.3,315.7 1316.4,315.3 1318.6,314.9 1320.7,314.3 1322.8,313.8 1324.9,313.1 1327.0,312.5 1329.1,311.8 1331.3,311.1 1333.4,310.4 1335.5,309.8 1337.6,309.1 1339.7,308.5 1341.9,307.8 1344.0,307.1 1346.1,306.5 1348.2,305.8 1350.3,305.2 1352.4,304.7 1354.6,304.2 1356.9,303.6 1359.2,303.1 1361.4,302.6 1363.6,302.2 1365.7,301.8 1367.7,301.5 1369.4,301.3 1370.8,301.2 1372.1,301.1 1373.2,301.2 1374.1,301.2 1375.0,301.4 1375.9,301.6 1376.8,301.9 1377.8,302.1 1378.9,302.5 1380.0,302.9 1381.0,303.5 1382.1,304.0 1383.1,304.6 1384.2,305.2 1385.3,305.8 1386.3,306.4 1387.4,307.0 1388.4,307.7 1389.5,308.4 1390.5,309.1 1391.6,309.8 1392.7,310.4 1393.7,311.0 1394.8,311.5 1395.8,311.9 1396.9,312.2 1398.0,312.5 1399.0,312.7 1400.1,312.9 1401.1,313.0 1402.2,313.1 1403.3,313.2 1404.3,313.2 1405.4,313.2 1406.4,313.2 1407.5,313.1 1408.5,313.0 1409.6,312.8 1410.7,312.6 1411.7,312.3 1412.8,312.0 1413.8,311.5 1414.9,311.1 1416.0,310.6 1417.0,310.0 1418.1,309.4 1419.1,308.7 1420.2,308.1 1421.2,307.4 1422.3,306.7 1423.3,305.9 1424.4,305.2 1425.4,304.3 1426.5,303.4 1427.6,302.4 1428.7,301.3 1429.8,300.0 1431.1,298.4 1432.5,296.7 1433.8,294.9 1435.1,293.2 1436.3,291.7 1437.2,290.4 1438.0,289.4 1438.0,345.3 1437.2,344.9 1436.3,344.4 1435.1,343.8 1433.8,343.1 1432.5,342.4 1431.1,341.6 1429.8,340.9 1428.7,340.3 1427.6,339.6 1426.5,338.9 1425.4,338.2 1424.4,337.6 1423.3,336.9 1422.3,336.3 1421.2,335.7 1420.2,335.2 1419.1,334.7 1418.1,334.3 1417.0,334.0 1416.0,333.6 1414.9,333.4 1413.8,333.1 1412.8,332.9 1411.7,332.6 1410.7,332.5 1409.6,332.3 1408.5,332.2 1407.5,332.2 1406.4,332.1 1405.4,332.0 1404.3,331.9 1403.3,331.8 1402.2,331.6 1401.1,331.4 1400.1,331.3 1399.0,331.0 1398.0,330.8 1396.9,330.6 1395.8,330.4 1394.8,330.1 1393.7,329.8 1392.7,329.5 1391.6,329.1 1390.5,328.7 1389.5,328.4 1388.4,328.0 1387.4,327.8 1386.3,327.6 1385.3,327.4 1384.2,327.4 1383.1,327.4 1382.1,327.4 1381.0,327.5 1380.0,327.6 1378.9,327.6 1377.8,327.6 1376.8,327.5 1375.9,327.3 1375.0,327.1 1374.1,327.0 1373.2,326.8 1372.1,326.7 1370.8,326.7 1369.4,326.7 1367.7,326.9 1365.7,327.1 1363.6,327.4 1361.4,327.7 1359.2,328.1 1356.9,328.5 1354.6,328.9 1352.4,329.2 1350.3,329.6 1348.2,330.0 1346.1,330.4 1344.0,330.8 1341.9,331.3 1339.7,331.7 1337.6,332.2 1335.5,332.6 1333.4,333.1 1331.3,333.6 1329.1,334.2 1327.0,334.7 1324.9,335.2 1322.8,335.8 1320.7,336.3 1318.6,336.9 1316.4,337.4 1314.3,337.9 1312.2,338.4 1310.1,338.9 1308.0,339.5 1305.9,340.0 1303.7,340.5 1301.6,341.1 1299.5,341.7 1297.4,342.3 1295.3,342.9 1293.2,343.5 1291.0,344.2 1288.9,344.8 1286.8,345.5 1284.7,346.2 1282.6,346.9 1280.5,347.5 1278.3,348.2 1276.2,348.9 1274.1,349.6 1272.0,350.4 1269.9,351.2 1267.8,352.1 1265.6,353.1 1263.5,354.1 1261.4,355.2 1259.3,356.4 1257.2,357.6 1255.0,358.8 1252.9,360.1 1250.8,361.4 1248.7,362.8 1246.7,364.1 1244.6,365.5 1242.5,366.9 1240.5,368.4 1238.3,369.9 1236.1,371.5 1233.9,373.3 1231.4,375.3 1228.6,377.6 1225.7,380.0 1222.8,382.5 1220.1,384.9 1217.6,387.1 1215.5,388.9 1213.9,390.2" fill="#999999" fill-opacity="0.4"/>
<polyline points="1213.9,332.6 1215.5,332.7 1217.6,332.9 1220.1,333.1 1222.8,333.2 1225.7,333.4 1228.6,333.6 1231.4,333.7 1233.9,333.8 1236.1,333.9 1238.3,333.9 1240.5,333.8 1242.5,333.8 1244.6,333.7 1246.7,333.6 1248.7,333.6 1250.8,333.5 1252.9,333.4 1255.0,333.3 1257.2,333.2 1259.3,333.1 1261.4,333.0 1263.5,332.9 1265.6,332.8 1267.8,332.6 1269.9,332.5 1272.0,332.3 1274.1,332.1 1276.2,331.9 1278.3,331.7 1280.5,331.4 1282.6,331.2 1284.7,330.9 1286.8,330.7 1288.9,330.4 1291.0,330.1 1293.2,329.8 1295.3,329.5 1297.4,329.1 1299.5,328.8 1301.6,328.4 1303.7,328.0 1305.9,327.6 1308.0,327.2 1310.1,326.8 1312.2,326.4 1314.3,325.9 1316.4,325.5 1318.6,325.0 1320.7,324.5 1322.8,324.0 1324.9,323.5 1327.0,322.9 1329.1,322.3 1331.3,321.8 1333.4,321.3 1335.5,320.8 1337.6,320.3 1339.7,319.9 1341.9,319.4 1344.0,319.0 1346.1,318.6 1348.2,318.2 1350.3,317.8 1352.4,317.4 1354.6,317.0 1356.9,316.6 1359.2,316.3 1361.4,315.9 1363.6,315.6 1365.7,315.3 1367.7,315.0 1369.4,314.9 1370.8,314.7 1372.1,314.6 1373.2,314.6 1374.1,314.6 1375.0,314.6 1375.9,314.7 1376.8,314.8 1377.8,314.9 1378.9,315.0 1380.0,315.1 1381.0,315.3 1382.1,315.4 1383.1,315.6 1384.2,315.9 1385.3,316.2 1386.3,316.5 1387.4,317.0 1388.4,317.5 1389.5,318.1 1390.5,318.7 1391.6,319.3 1392.7,319.9 1393.7,320.4 1394.8,320.8 1395.8,321.1 1396.9,321.4 1398.0,321.6 1399.0,321.7 1400.1,321.9 1401.1,322.0 1402.2,322.0 1403.3,322.1 1404.3,322.2 1405.4,322.3 1406.4,322.3 1407.5,322.3 1408.5,322.3 1409.6,322.2 1410.7,322.2 1411.7,322.1 1412.8,322.1 1413.8,322.0 1414.9,321.8 1416.0,321.7 1417.0,321.6 1418.1,321.4 1419.1,321.3 1420.2,321.1 1421.2,321.0 1422.3,320.8 1423.3,320.6 1424.4,320.4 1425.4,320.2 1426.5,320.0 1427.6,319.8 1428.7,319.6 1429.8,319.3 1431.1,319.0 1432.5,318.7 1433.8,318.4 1435.1,318.1 1436.3,317.8 1437.2,317.6 1438.0,317.4" fill="none" stroke="#2f86c9" stroke-width="1.8" stroke-linecap="round"/>
<circle cx="937.0" cy="589.1" r="3.52" fill="#e6797a"/>
<circle cx="1094.0" cy="665.1" r="5.63" fill="#e6797a"/>
<circle cx="964.1" cy="706.4" r="3.94" fill="#e6797a"/>
<circle cx="905.1" cy="723.3" r="2.82" fill="#e6797a"/>
<circle cx="997.6" cy="729.2" r="4.23" fill="#e6797a"/>
<circle cx="915.8" cy="739.9" r="2.82" fill="#e6797a"/>
<circle cx="1029.0" cy="764.9" r="4.93" fill="#e6797a"/>
<circle cx="1076.0" cy="777.0" r="5.35" fill="#e6797a"/>
<circle cx="940.5" cy="788.2" r="3.52" fill="#e6797a"/>
<circle cx="1094.0" cy="797.6" r="5.63" fill="#e6797a"/>
<circle cx="912.6" cy="801.7" r="2.82" fill="#e6797a"/>
<circle cx="1098.0" cy="845.4" r="5.63" fill="#e6797a"/>
<circle cx="1080.0" cy="865.0" r="5.35" fill="#e6797a"/>
<circle cx="1058.6" cy="881.6" r="5.35" fill="#e6797a"/>
<circle cx="1017.2" cy="874.1" r="4.23" fill="#e6797a"/>
<circle cx="1000.1" cy="878.1" r="3.94" fill="#e6797a"/>
<circle cx="974.8" cy="889.9" r="3.94" fill="#e6797a"/>
<circle cx="992.0" cy="899.3" r="4.23" fill="#e6797a"/>
<circle cx="1002.2" cy="898.2" r="4.23" fill="#e6797a"/>
<circle cx="1006.5" cy="820.4" r="4.23" fill="#e6797a"/>
<circle cx="1012.1" cy="836.0" r="4.23" fill="#e6797a"/>
<circle cx="1045.1" cy="837.3" r="4.93" fill="#e6797a"/>
<circle cx="1057.7" cy="838.7" r="4.93" fill="#e6797a"/>
<circle cx="1025.3" cy="844.8" r="4.23" fill="#e6797a"/>
<circle cx="1006.2" cy="865.0" r="4.23" fill="#e6797a"/>
<circle cx="902.9" cy="912.5" r="2.54" fill="#e6797a"/>
<circle cx="913.7" cy="913.8" r="2.54" fill="#e6797a"/>
<circle cx="911.8" cy="917.3" r="2.54" fill="#e6797a"/>
<circle cx="905.6" cy="930.4" r="2.54" fill="#e6797a"/>
<circle cx="930.3" cy="931.2" r="3.10" fill="#e6797a"/>
<circle cx="905.1" cy="943.3" r="2.54" fill="#e6797a"/>
<circle cx="900.8" cy="967.5" r="2.54" fill="#e6797a"/>
<circle cx="965.2" cy="965.6" r="3.52" fill="#e6797a"/>
<circle cx="1006.2" cy="960.8" r="4.23" fill="#e6797a"/>
<circle cx="874.0" cy="911.1" r="1.13" fill="#e6797a"/>
<circle cx="882.3" cy="905.0" r="1.97" fill="#e6797a"/>
<circle cx="904.3" cy="810.5" r="2.63" fill="#e6797a"/>
<circle cx="902.9" cy="817.2" r="2.61" fill="#e6797a"/>
<circle cx="911.0" cy="818.6" r="2.73" fill="#e6797a"/>
<circle cx="917.7" cy="815.9" r="2.83" fill="#e6797a"/>
<circle cx="921.7" cy="822.6" r="2.89" fill="#e6797a"/>
<circle cx="928.4" cy="810.5" r="2.98" fill="#e6797a"/>
<circle cx="936.5" cy="823.1" r="3.10" fill="#e6797a"/>
<circle cx="894.9" cy="834.1" r="2.50" fill="#e6797a"/>
<circle cx="900.8" cy="832.0" r="2.58" fill="#e6797a"/>
<circle cx="908.3" cy="830.6" r="2.69" fill="#e6797a"/>
<circle cx="913.7" cy="826.6" r="2.77" fill="#e6797a"/>
<circle cx="920.4" cy="833.3" r="2.87" fill="#e6797a"/>
<circle cx="901.6" cy="839.2" r="2.59" fill="#e6797a"/>
<circle cx="909.6" cy="838.7" r="2.71" fill="#e6797a"/>
<circle cx="916.3" cy="842.7" r="2.81" fill="#e6797a"/>
<circle cx="924.4" cy="845.4" r="2.92" fill="#e6797a"/>
<circle cx="894.9" cy="846.7" r="2.50" fill="#e6797a"/>
<circle cx="907.0" cy="846.7" r="2.67" fill="#e6797a"/>
<circle cx="913.7" cy="849.4" r="2.77" fill="#e6797a"/>
<circle cx="920.4" cy="853.4" r="2.87" fill="#e6797a"/>
<circle cx="928.4" cy="852.1" r="2.98" fill="#e6797a"/>
<circle cx="935.1" cy="853.4" r="3.08" fill="#e6797a"/>
<circle cx="940.5" cy="854.8" r="3.16" fill="#e6797a"/>
<circle cx="945.9" cy="852.6" r="3.24" fill="#e6797a"/>
<circle cx="888.2" cy="861.5" r="2.40" fill="#e6797a"/>
<circle cx="896.2" cy="858.8" r="2.51" fill="#e6797a"/>
<circle cx="902.9" cy="854.8" r="2.61" fill="#e6797a"/>
<circle cx="911.0" cy="857.5" r="2.73" fill="#e6797a"/>
<circle cx="917.7" cy="861.5" r="2.83" fill="#e6797a"/>
<circle cx="924.4" cy="862.8" r="2.92" fill="#e6797a"/>
<circle cx="931.1" cy="860.1" r="3.02" fill="#e6797a"/>
<circle cx="937.8" cy="862.8" r="3.12" fill="#e6797a"/>
<circle cx="885.5" cy="870.9" r="2.36" fill="#e6797a"/>
<circle cx="892.2" cy="870.9" r="2.46" fill="#e6797a"/>
<circle cx="900.2" cy="866.9" r="2.57" fill="#e6797a"/>
<circle cx="907.0" cy="869.5" r="2.67" fill="#e6797a"/>
<circle cx="913.7" cy="870.9" r="2.77" fill="#e6797a"/>
<circle cx="921.7" cy="868.2" r="2.89" fill="#e6797a"/>
<circle cx="929.8" cy="870.9" r="3.00" fill="#e6797a"/>
<circle cx="894.9" cy="876.2" r="2.50" fill="#e6797a"/>
<circle cx="904.3" cy="877.6" r="2.63" fill="#e6797a"/>
<circle cx="912.3" cy="876.2" r="2.75" fill="#e6797a"/>
<circle cx="921.7" cy="873.6" r="2.89" fill="#e6797a"/>
<circle cx="935.1" cy="876.8" r="3.08" fill="#e6797a"/>
<circle cx="940.5" cy="876.8" r="3.16" fill="#e6797a"/>
<circle cx="892.2" cy="884.3" r="2.46" fill="#e6797a"/>
<circle cx="902.9" cy="885.6" r="2.61" fill="#e6797a"/>
<circle cx="913.7" cy="884.3" r="2.77" fill="#e6797a"/>
<circle cx="927.1" cy="883.0" r="2.96" fill="#e6797a"/>
<circle cx="928.4" cy="889.7" r="2.98" fill="#e6797a"/>
<circle cx="937.8" cy="885.6" r="3.12" fill="#e6797a"/>
<circle cx="901.6" cy="895.0" r="2.59" fill="#e6797a"/>
<circle cx="909.1" cy="897.2" r="2.70" fill="#e6797a"/>
<circle cx="917.7" cy="893.7" r="2.83" fill="#e6797a"/>
<circle cx="920.4" cy="889.7" r="2.87" fill="#e6797a"/>
<circle cx="929.8" cy="891.0" r="3.00" fill="#e6797a"/>
<circle cx="907.0" cy="833.3" r="2.67" fill="#e6797a"/>
<circle cx="912.3" cy="836.0" r="2.75" fill="#e6797a"/>
<circle cx="905.6" cy="852.1" r="2.65" fill="#e6797a"/>
<circle cx="909.6" cy="862.8" r="2.71" fill="#e6797a"/>
<circle cx="916.3" cy="854.8" r="2.81" fill="#e6797a"/>
<circle cx="923.1" cy="857.5" r="2.90" fill="#e6797a"/>
<circle cx="898.9" cy="862.8" r="2.55" fill="#e6797a"/>
<circle cx="905.6" cy="860.1" r="2.65" fill="#e6797a"/>
<circle cx="927.1" cy="866.9" r="2.96" fill="#e6797a"/>
<circle cx="917.7" cy="878.9" r="2.83" fill="#e6797a"/>
<circle cx="897.6" cy="853.4" r="2.53" fill="#e6797a"/>
<circle cx="931.1" cy="846.7" r="3.02" fill="#e6797a"/>
<circle cx="911.0" cy="823.9" r="2.73" fill="#e6797a"/>
<circle cx="915.0" cy="832.0" r="2.79" fill="#e6797a"/>
<circle cx="924.4" cy="838.7" r="2.92" fill="#e6797a"/>
<circle cx="921.7" cy="849.4" r="2.89" fill="#e6797a"/>
<circle cx="953.9" cy="818.6" r="3.35" fill="#e6797a"/>
<circle cx="953.9" cy="823.9" r="3.35" fill="#e6797a"/>
<circle cx="961.4" cy="830.6" r="3.46" fill="#e6797a"/>
<circle cx="966.0" cy="829.3" r="3.53" fill="#e6797a"/>
<circle cx="953.9" cy="832.8" r="3.35" fill="#e6797a"/>
<circle cx="974.3" cy="823.4" r="3.65" fill="#e6797a"/>
<circle cx="987.4" cy="824.7" r="3.84" fill="#e6797a"/>
<circle cx="991.5" cy="829.3" r="3.90" fill="#e6797a"/>
<circle cx="992.8" cy="833.3" r="3.92" fill="#e6797a"/>
<circle cx="972.7" cy="838.7" r="3.63" fill="#e6797a"/>
<circle cx="979.4" cy="840.0" r="3.72" fill="#e6797a"/>
<circle cx="986.1" cy="841.4" r="3.82" fill="#e6797a"/>
<circle cx="996.8" cy="838.1" r="3.98" fill="#e6797a"/>
<circle cx="1004.9" cy="841.4" r="4.10" fill="#e6797a"/>
<circle cx="953.9" cy="841.4" r="3.35" fill="#e6797a"/>
<circle cx="962.0" cy="846.7" r="3.47" fill="#e6797a"/>
<circle cx="975.4" cy="845.4" r="3.67" fill="#e6797a"/>
<circle cx="983.4" cy="848.1" r="3.78" fill="#e6797a"/>
<circle cx="991.5" cy="845.4" r="3.90" fill="#e6797a"/>
<circle cx="999.5" cy="849.4" r="4.02" fill="#e6797a"/>
<circle cx="962.0" cy="857.5" r="3.47" fill="#e6797a"/>
<circle cx="968.7" cy="861.5" r="3.57" fill="#e6797a"/>
<circle cx="975.4" cy="857.5" r="3.67" fill="#e6797a"/>
<circle cx="983.4" cy="854.8" r="3.78" fill="#e6797a"/>
<circle cx="991.5" cy="854.8" r="3.90" fill="#e6797a"/>
<circle cx="999.5" cy="853.4" r="4.02" fill="#e6797a"/>
<circle cx="978.1" cy="864.2" r="3.70" fill="#e6797a"/>
<circle cx="970.0" cy="868.2" r="3.59" fill="#e6797a"/>
<circle cx="962.0" cy="873.6" r="3.47" fill="#e6797a"/>
<circle cx="955.3" cy="872.2" r="3.37" fill="#e6797a"/>
<circle cx="968.7" cy="873.6" r="3.57" fill="#e6797a"/>
<circle cx="975.4" cy="870.9" r="3.67" fill="#e6797a"/>
<circle cx="1002.2" cy="865.5" r="4.06" fill="#e6797a"/>
<circle cx="1007.6" cy="864.2" r="4.13" fill="#e6797a"/>
<circle cx="896.2" cy="853.8" r="3.15" fill="#e6797a"/>
<circle cx="914.8" cy="851.6" r="2.89" fill="#e6797a"/>
<circle cx="910.3" cy="883.3" r="3.17" fill="#e6797a"/>
<circle cx="901.3" cy="835.1" r="3.15" fill="#e6797a"/>
<circle cx="921.6" cy="865.4" r="2.70" fill="#e6797a"/>
<circle cx="917.2" cy="845.8" r="3.29" fill="#e6797a"/>
<circle cx="930.1" cy="862.3" r="2.85" fill="#e6797a"/>
<circle cx="894.5" cy="869.8" r="2.57" fill="#e6797a"/>
<circle cx="938.5" cy="865.0" r="3.01" fill="#e6797a"/>
<circle cx="943.6" cy="879.4" r="3.40" fill="#e6797a"/>
<circle cx="923.3" cy="862.2" r="2.67" fill="#e6797a"/>
<circle cx="907.2" cy="873.6" r="2.70" fill="#e6797a"/>
<circle cx="912.4" cy="843.6" r="2.70" fill="#e6797a"/>
<circle cx="918.6" cy="832.0" r="2.93" fill="#e6797a"/>
<circle cx="902.3" cy="837.3" r="2.90" fill="#e6797a"/>
<circle cx="932.7" cy="855.2" r="3.42" fill="#e6797a"/>
<circle cx="931.3" cy="845.3" r="2.87" fill="#e6797a"/>
<circle cx="901.6" cy="871.2" r="3.16" fill="#e6797a"/>
<circle cx="920.3" cy="858.4" r="2.88" fill="#e6797a"/>
<circle cx="891.7" cy="847.0" r="3.00" fill="#e6797a"/>
<circle cx="935.8" cy="855.6" r="2.94" fill="#e6797a"/>
<circle cx="905.2" cy="847.8" r="2.93" fill="#e6797a"/>
<circle cx="897.8" cy="870.3" r="2.64" fill="#e6797a"/>
<circle cx="906.5" cy="845.8" r="3.18" fill="#e6797a"/>
<circle cx="923.1" cy="852.9" r="2.86" fill="#e6797a"/>
<circle cx="911.1" cy="844.8" r="2.96" fill="#e6797a"/>
<circle cx="916.2" cy="864.2" r="2.98" fill="#e6797a"/>
<circle cx="927.0" cy="843.9" r="3.41" fill="#e6797a"/>
<circle cx="927.2" cy="886.5" r="2.88" fill="#e6797a"/>
<circle cx="921.1" cy="878.4" r="3.37" fill="#e6797a"/>
<circle cx="923.2" cy="850.0" r="3.24" fill="#e6797a"/>
<circle cx="908.8" cy="861.1" r="2.56" fill="#e6797a"/>
<circle cx="929.9" cy="855.9" r="3.44" fill="#e6797a"/>
<circle cx="928.0" cy="849.2" r="2.57" fill="#e6797a"/>
<circle cx="904.3" cy="879.1" r="3.30" fill="#e6797a"/>
<circle cx="908.1" cy="839.0" r="3.02" fill="#e6797a"/>
<circle cx="896.9" cy="853.1" r="2.79" fill="#e6797a"/>
<circle cx="937.8" cy="836.3" r="2.70" fill="#e6797a"/>
<circle cx="907.4" cy="886.3" r="2.80" fill="#e6797a"/>
<circle cx="927.3" cy="841.6" r="3.18" fill="#e6797a"/>
<circle cx="911.3" cy="836.9" r="2.81" fill="#e6797a"/>
<circle cx="913.1" cy="877.9" r="3.17" fill="#e6797a"/>
<circle cx="930.7" cy="878.3" r="2.93" fill="#e6797a"/>
<circle cx="914.4" cy="869.5" r="3.43" fill="#e6797a"/>
<circle cx="897.9" cy="839.7" r="3.38" fill="#e6797a"/>
<circle cx="1005.0" cy="841.4" r="3.41" fill="#e6797a"/>
<circle cx="953.8" cy="831.5" r="3.80" fill="#e6797a"/>
<circle cx="968.8" cy="840.7" r="3.36" fill="#e6797a"/>
<circle cx="979.1" cy="829.5" r="2.99" fill="#e6797a"/>
<circle cx="972.8" cy="818.6" r="3.81" fill="#e6797a"/>
<circle cx="1006.7" cy="829.0" r="3.54" fill="#e6797a"/>
<circle cx="984.2" cy="834.0" r="3.08" fill="#e6797a"/>
<circle cx="973.0" cy="856.0" r="3.96" fill="#e6797a"/>
<circle cx="973.9" cy="831.2" r="3.63" fill="#e6797a"/>
<circle cx="993.7" cy="858.4" r="3.71" fill="#e6797a"/>
<circle cx="972.0" cy="852.9" r="3.40" fill="#e6797a"/>
<circle cx="970.7" cy="865.0" r="3.12" fill="#e6797a"/>
<circle cx="991.5" cy="853.0" r="3.71" fill="#e6797a"/>
<circle cx="982.0" cy="827.1" r="3.96" fill="#e6797a"/>
<circle cx="978.3" cy="849.2" r="3.49" fill="#e6797a"/>
<circle cx="972.0" cy="849.7" r="3.68" fill="#e6797a"/>
<circle cx="974.8" cy="855.0" r="3.32" fill="#e6797a"/>
<circle cx="982.5" cy="846.2" r="3.35" fill="#e6797a"/>
<circle cx="978.9" cy="855.6" r="3.43" fill="#e6797a"/>
<circle cx="986.9" cy="876.3" r="3.50" fill="#e6797a"/>
<circle cx="977.9" cy="839.2" r="3.46" fill="#e6797a"/>
<circle cx="958.5" cy="830.7" r="3.24" fill="#e6797a"/>
<circle cx="952.7" cy="853.3" r="3.85" fill="#e6797a"/>
<circle cx="983.3" cy="863.2" r="3.77" fill="#e6797a"/>
<circle cx="963.3" cy="859.0" r="3.67" fill="#e6797a"/>
<circle cx="999.2" cy="843.8" r="3.69" fill="#e6797a"/>
<circle cx="966.6" cy="864.3" r="3.31" fill="#e6797a"/>
<circle cx="966.8" cy="846.7" r="3.30" fill="#e6797a"/>
<circle cx="938.9" cy="839.1" r="3.14" fill="#e6797a"/>
<circle cx="935.1" cy="836.6" r="3.38" fill="#e6797a"/>
<circle cx="930.9" cy="857.9" r="3.19" fill="#e6797a"/>
<circle cx="922.6" cy="847.3" r="3.47" fill="#e6797a"/>
<circle cx="933.3" cy="838.3" r="3.23" fill="#e6797a"/>
<circle cx="941.2" cy="821.0" r="3.36" fill="#e6797a"/>
<circle cx="925.6" cy="841.1" r="2.88" fill="#e6797a"/>
<circle cx="928.6" cy="839.1" r="2.99" fill="#e6797a"/>
<polygon points="874.0,860.1 874.9,860.0 876.3,859.9 877.8,859.7 879.6,859.5 881.4,859.2 883.3,858.8 885.1,858.2 886.8,857.5 888.5,856.5 890.1,855.3 891.8,853.9 893.5,852.4 895.2,850.9 896.9,849.4 898.6,848.0 900.2,846.7 901.9,845.6 903.6,844.4 905.3,843.3 907.0,842.2 908.6,841.2 910.3,840.3 912.0,839.4 913.7,838.7 915.3,838.1 917.0,837.6 918.7,837.2 920.4,836.9 922.0,836.7 923.7,836.4 925.4,836.2 927.1,836.0 928.8,835.7 930.4,835.5 932.1,835.3 933.8,835.1 935.5,834.9 937.1,834.8 938.8,834.7 940.5,834.7 942.2,834.7 943.8,834.8 945.5,835.0 947.2,835.2 948.9,835.4 950.6,835.6 952.2,835.8 953.9,836.0 955.6,836.2 957.3,836.3 958.9,836.5 960.6,836.7 962.3,836.8 964.0,837.0 965.6,837.2 967.3,837.3 969.0,837.5 970.7,837.7 972.4,837.8 974.0,838.0 975.7,838.2 977.4,838.3 979.1,838.5 980.7,838.7 982.4,838.9 984.1,839.1 985.8,839.4 987.4,839.6 989.1,839.8 990.8,840.0 992.5,840.0 994.2,840.0 995.8,839.9 997.5,839.7 999.2,839.4 1000.9,839.1 1002.5,838.7 1004.2,838.3 1005.9,837.8 1007.6,837.3 1009.2,836.8 1010.9,836.2 1012.6,835.6 1014.3,835.0 1016.0,834.3 1017.6,833.6 1019.3,832.8 1021.0,832.0 1022.7,831.1 1024.3,830.1 1026.0,829.1 1027.7,828.1 1029.4,827.1 1031.0,826.0 1032.7,824.9 1034.4,823.9 1036.1,822.9 1037.8,822.0 1039.4,821.1 1041.1,820.1 1042.8,819.2 1044.5,818.2 1046.1,817.1 1047.8,815.9 1049.5,814.6 1051.2,813.2 1052.8,811.8 1054.5,810.3 1056.2,808.8 1057.9,807.2 1059.6,805.5 1061.2,803.8 1062.9,802.0 1064.6,800.2 1066.3,798.3 1067.9,796.3 1069.6,794.3 1071.3,792.2 1073.0,790.0 1074.6,787.7 1076.3,785.3 1078.1,782.7 1079.8,780.0 1081.6,777.2 1083.3,774.4 1084.9,771.6 1086.5,768.9 1088.1,766.2 1089.6,763.5 1091.1,760.6 1092.6,757.7 1094.0,754.8 1095.3,752.1 1096.5,749.7 1097.5,747.7 1098.3,746.1 1098.3,821.2 1097.5,821.6 1096.5,822.1 1095.3,822.7 1094.0,823.4 1092.6,824.2 1091.1,824.9 1089.6,825.8 1088.1,826.6 1086.5,827.5 1084.9,828.4 1083.3,829.4 1081.6,830.5 1079.8,831.5 1078.1,832.6 1076.3,833.6 1074.6,834.7 1073.0,835.7 1071.3,836.7 1069.6,837.7 1067.9,838.8 1066.3,839.8 1064.6,840.8 1062.9,841.8 1061.2,842.7 1059.6,843.6 1057.9,844.5 1056.2,845.4 1054.5,846.2 1052.8,847.1 1051.2,847.9 1049.5,848.6 1047.8,849.4 1046.1,850.2 1044.5,850.9 1042.8,851.6 1041.1,852.3 1039.4,853.0 1037.8,853.7 1036.1,854.2 1034.4,854.8 1032.7,855.2 1031.0,855.6 1029.4,856.0 1027.7,856.3 1026.0,856.6 1024.3,856.9 1022.7,857.1 1021.0,857.5 1019.3,857.8 1017.6,858.1 1016.0,858.5 1014.3,858.8 1012.6,859.2 1010.9,859.5 1009.2,859.8 1007.6,860.1 1005.9,860.5 1004.2,860.8 1002.5,861.2 1000.9,861.5 999.2,861.8 997.5,862.1 995.8,862.2 994.2,862.3 992.5,862.2 990.8,862.0 989.1,861.8 987.4,861.4 985.8,861.1 984.1,860.7 982.4,860.4 980.7,860.1 979.1,859.9 977.4,859.8 975.7,859.6 974.0,859.4 972.4,859.3 970.7,859.1 969.0,859.0 967.3,858.8 965.6,858.6 964.0,858.4 962.3,858.2 960.6,858.0 958.9,857.9 957.3,857.7 955.6,857.6 953.9,857.5 952.2,857.4 950.6,857.3 948.9,857.3 947.2,857.3 945.5,857.3 943.8,857.3 942.2,857.4 940.5,857.5 938.8,857.5 937.1,857.6 935.5,857.7 933.8,857.8 932.1,857.9 930.4,858.2 928.8,858.4 927.1,858.8 925.4,859.2 923.7,859.7 922.0,860.2 920.4,860.8 918.7,861.5 917.0,862.3 915.3,863.1 913.7,864.2 912.0,865.3 910.2,866.4 908.5,867.7 906.8,869.0 905.1,870.5 903.4,872.2 901.8,874.1 900.2,876.2 898.8,878.7 897.3,881.5 895.9,884.5 894.5,887.7 893.2,891.0 891.9,894.3 890.7,897.4 889.5,900.4 888.4,903.2 887.3,905.9 886.3,908.5 885.3,911.0 884.3,913.6 883.4,916.3 882.4,919.0 881.5,921.9 880.4,925.0 879.4,928.5 878.3,932.2 877.2,935.9 876.2,939.5 875.3,942.7 874.5,945.4 874.0,947.3" fill="#999999" fill-opacity="0.4"/>
<polyline points="874.0,903.6 874.5,902.3 875.3,900.5 876.2,898.4 877.2,896.1 878.3,893.7 879.4,891.3 880.4,889.0 881.5,887.0 882.4,885.1 883.4,883.4 884.3,881.7 885.3,880.1 886.3,878.4 887.3,876.8 888.4,875.2 889.5,873.6 890.7,871.8 891.9,870.1 893.2,868.3 894.5,866.5 895.9,864.8 897.3,863.1 898.8,861.6 900.2,860.1 901.8,858.9 903.4,857.7 905.1,856.6 906.8,855.5 908.5,854.6 910.2,853.7 912.0,852.9 913.7,852.1 915.3,851.4 917.0,850.8 918.7,850.2 920.4,849.7 922.0,849.2 923.7,848.8 925.4,848.4 927.1,848.1 928.8,847.7 930.4,847.4 932.1,847.1 933.8,846.9 935.5,846.7 937.1,846.5 938.8,846.3 940.5,846.2 942.2,846.1 943.8,846.0 945.5,846.0 947.2,846.0 948.9,846.1 950.6,846.1 952.2,846.2 953.9,846.2 955.6,846.2 957.3,846.2 958.9,846.3 960.6,846.3 962.3,846.4 964.0,846.5 965.6,846.6 967.3,846.7 969.0,846.9 970.7,847.2 972.4,847.4 974.0,847.7 975.7,848.0 977.4,848.3 979.1,848.6 980.7,848.9 982.4,849.1 984.1,849.5 985.8,849.8 987.4,850.1 989.1,850.3 990.8,850.6 992.5,850.7 994.2,850.8 995.8,850.7 997.5,850.6 999.2,850.4 1000.9,850.1 1002.5,849.9 1004.2,849.5 1005.9,849.2 1007.6,848.9 1009.2,848.5 1010.9,848.2 1012.6,847.8 1014.3,847.3 1016.0,846.9 1017.6,846.4 1019.3,845.9 1021.0,845.4 1022.7,844.8 1024.3,844.2 1026.0,843.6 1027.7,843.0 1029.4,842.3 1031.0,841.6 1032.7,840.8 1034.4,840.0 1036.1,839.2 1037.8,838.3 1039.4,837.3 1041.1,836.3 1042.8,835.3 1044.5,834.2 1046.1,833.1 1047.8,832.0 1049.5,830.8 1051.2,829.5 1052.8,828.3 1054.5,826.9 1056.2,825.6 1057.9,824.2 1059.6,822.7 1061.2,821.2 1062.9,819.7 1064.6,818.1 1066.3,816.4 1067.9,814.7 1069.6,813.0 1071.3,811.2 1073.0,809.5 1074.6,807.8 1076.3,806.1 1078.1,804.4 1079.8,802.7 1081.6,800.9 1083.3,799.2 1084.9,797.6 1086.5,796.0 1088.1,794.4 1089.6,792.9 1091.1,791.3 1092.6,789.7 1094.0,788.2 1095.3,786.8 1096.5,785.5 1097.5,784.5 1098.3,783.7" fill="none" stroke="#2f86c9" stroke-width="1.8" stroke-linecap="round"/>
<circle cx="937.0" cy="1113.6" r="3.52" fill="#e6797a"/>
<circle cx="1084.8" cy="1192.5" r="5.35" fill="#e6797a"/>
<circle cx="962.2" cy="1228.4" r="3.94" fill="#e6797a"/>
<circle cx="904.3" cy="1240.3" r="2.82" fill="#e6797a"/>
<circle cx="1004.4" cy="1253.1" r="4.51" fill="#e6797a"/>
<circle cx="916.3" cy="1262.0" r="2.82" fill="#e6797a"/>
<circle cx="1036.3" cy="1271.1" r="4.93" fill="#e6797a"/>
<circle cx="1095.0" cy="1288.6" r="5.63" fill="#e6797a"/>
<circle cx="1103.1" cy="1306.8" r="5.63" fill="#e6797a"/>
<circle cx="938.3" cy="1306.5" r="3.52" fill="#e6797a"/>
<circle cx="912.6" cy="1321.3" r="2.82" fill="#e6797a"/>
<circle cx="927.6" cy="1326.4" r="3.10" fill="#e6797a"/>
<circle cx="1090.7" cy="1362.3" r="5.63" fill="#e6797a"/>
<circle cx="1089.4" cy="1384.3" r="5.63" fill="#e6797a"/>
<circle cx="1067.4" cy="1397.2" r="5.35" fill="#e6797a"/>
<circle cx="1022.9" cy="1394.0" r="4.23" fill="#e6797a"/>
<circle cx="1006.2" cy="1395.3" r="3.94" fill="#e6797a"/>
<circle cx="1006.2" cy="1381.1" r="4.23" fill="#e6797a"/>
<circle cx="979.9" cy="1405.3" r="3.94" fill="#e6797a"/>
<circle cx="994.7" cy="1418.7" r="4.23" fill="#e6797a"/>
<circle cx="1008.4" cy="1412.8" r="4.23" fill="#e6797a"/>
<circle cx="1010.3" cy="1338.2" r="4.23" fill="#e6797a"/>
<circle cx="1017.8" cy="1354.3" r="4.23" fill="#e6797a"/>
<circle cx="1047.0" cy="1355.6" r="4.93" fill="#e6797a"/>
<circle cx="1061.2" cy="1355.6" r="4.93" fill="#e6797a"/>
<circle cx="1031.7" cy="1363.7" r="4.23" fill="#e6797a"/>
<circle cx="1019.6" cy="1361.0" r="4.23" fill="#e6797a"/>
<circle cx="902.4" cy="1430.0" r="2.54" fill="#e6797a"/>
<circle cx="912.9" cy="1429.4" r="2.54" fill="#e6797a"/>
<circle cx="911.8" cy="1428.1" r="2.54" fill="#e6797a"/>
<circle cx="905.6" cy="1446.3" r="2.54" fill="#e6797a"/>
<circle cx="931.6" cy="1446.1" r="3.10" fill="#e6797a"/>
<circle cx="905.6" cy="1460.5" r="2.54" fill="#e6797a"/>
<circle cx="899.7" cy="1482.3" r="2.54" fill="#e6797a"/>
<circle cx="964.6" cy="1476.4" r="3.52" fill="#e6797a"/>
<circle cx="1012.4" cy="1491.4" r="4.23" fill="#e6797a"/>
<circle cx="874.0" cy="1425.9" r="1.13" fill="#e6797a"/>
<circle cx="883.1" cy="1422.2" r="1.97" fill="#e6797a"/>
<circle cx="904.3" cy="1328.8" r="2.63" fill="#e6797a"/>
<circle cx="902.9" cy="1335.5" r="2.61" fill="#e6797a"/>
<circle cx="911.0" cy="1336.8" r="2.73" fill="#e6797a"/>
<circle cx="917.7" cy="1334.2" r="2.83" fill="#e6797a"/>
<circle cx="921.7" cy="1340.9" r="2.89" fill="#e6797a"/>
<circle cx="928.4" cy="1328.8" r="2.98" fill="#e6797a"/>
<circle cx="936.5" cy="1341.4" r="3.10" fill="#e6797a"/>
<circle cx="894.9" cy="1352.4" r="2.50" fill="#e6797a"/>
<circle cx="900.8" cy="1350.3" r="2.58" fill="#e6797a"/>
<circle cx="908.3" cy="1348.9" r="2.69" fill="#e6797a"/>
<circle cx="913.7" cy="1344.9" r="2.77" fill="#e6797a"/>
<circle cx="920.4" cy="1351.6" r="2.87" fill="#e6797a"/>
<circle cx="901.6" cy="1357.5" r="2.59" fill="#e6797a"/>
<circle cx="909.6" cy="1357.0" r="2.71" fill="#e6797a"/>
<circle cx="916.3" cy="1361.0" r="2.81" fill="#e6797a"/>
<circle cx="924.4" cy="1363.7" r="2.92" fill="#e6797a"/>
<circle cx="894.9" cy="1365.0" r="2.50" fill="#e6797a"/>
<circle cx="907.0" cy="1365.0" r="2.67" fill="#e6797a"/>
<circle cx="913.7" cy="1367.7" r="2.77" fill="#e6797a"/>
<circle cx="920.4" cy="1371.7" r="2.87" fill="#e6797a"/>
<circle cx="928.4" cy="1370.4" r="2.98" fill="#e6797a"/>
<circle cx="935.1" cy="1371.7" r="3.08" fill="#e6797a"/>
<circle cx="940.5" cy="1373.1" r="3.16" fill="#e6797a"/>
<circle cx="945.9" cy="1370.9" r="3.24" fill="#e6797a"/>
<circle cx="888.2" cy="1379.8" r="2.40" fill="#e6797a"/>
<circle cx="896.2" cy="1377.1" r="2.51" fill="#e6797a"/>
<circle cx="902.9" cy="1373.1" r="2.61" fill="#e6797a"/>
<circle cx="911.0" cy="1375.8" r="2.73" fill="#e6797a"/>
<circle cx="917.7" cy="1379.8" r="2.83" fill="#e6797a"/>
<circle cx="924.4" cy="1381.1" r="2.92" fill="#e6797a"/>
<circle cx="931.1" cy="1378.4" r="3.02" fill="#e6797a"/>
<circle cx="937.8" cy="1381.1" r="3.12" fill="#e6797a"/>
<circle cx="885.5" cy="1389.2" r="2.36" fill="#e6797a"/>
<circle cx="892.2" cy="1389.2" r="2.46" fill="#e6797a"/>
<circle cx="900.2" cy="1385.1" r="2.57" fill="#e6797a"/>
<circle cx="907.0" cy="1387.8" r="2.67" fill="#e6797a"/>
<circle cx="913.7" cy="1389.2" r="2.77" fill="#e6797a"/>
<circle cx="921.7" cy="1386.5" r="2.89" fill="#e6797a"/>
<circle cx="929.8" cy="1389.2" r="3.00" fill="#e6797a"/>
<circle cx="894.9" cy="1394.5" r="2.50" fill="#e6797a"/>
<circle cx="904.3" cy="1395.9" r="2.63" fill="#e6797a"/>
<circle cx="912.3" cy="1394.5" r="2.75" fill="#e6797a"/>
<circle cx="921.7" cy="1391.9" r="2.89" fill="#e6797a"/>
<circle cx="935.1" cy="1395.1" r="3.08" fill="#e6797a"/>
<circle cx="940.5" cy="1395.1" r="3.16" fill="#e6797a"/>
<circle cx="892.2" cy="1402.6" r="2.46" fill="#e6797a"/>
<circle cx="902.9" cy="1403.9" r="2.61" fill="#e6797a"/>
<circle cx="913.7" cy="1402.6" r="2.77" fill="#e6797a"/>
<circle cx="927.1" cy="1401.2" r="2.96" fill="#e6797a"/>
<circle cx="928.4" cy="1408.0" r="2.98" fill="#e6797a"/>
<circle cx="937.8" cy="1403.9" r="3.12" fill="#e6797a"/>
<circle cx="901.6" cy="1413.3" r="2.59" fill="#e6797a"/>
<circle cx="909.1" cy="1415.5" r="2.70" fill="#e6797a"/>
<circle cx="917.7" cy="1412.0" r="2.83" fill="#e6797a"/>
<circle cx="920.4" cy="1408.0" r="2.87" fill="#e6797a"/>
<circle cx="929.8" cy="1409.3" r="3.00" fill="#e6797a"/>
<circle cx="907.0" cy="1351.6" r="2.67" fill="#e6797a"/>
<circle cx="912.3" cy="1354.3" r="2.75" fill="#e6797a"/>
<circle cx="905.6" cy="1370.4" r="2.65" fill="#e6797a"/>
<circle cx="909.6" cy="1381.1" r="2.71" fill="#e6797a"/>
<circle cx="916.3" cy="1373.1" r="2.81" fill="#e6797a"/>
<circle cx="923.1" cy="1375.8" r="2.90" fill="#e6797a"/>
<circle cx="898.9" cy="1381.1" r="2.55" fill="#e6797a"/>
<circle cx="905.6" cy="1378.4" r="2.65" fill="#e6797a"/>
<circle cx="927.1" cy="1385.1" r="2.96" fill="#e6797a"/>
<circle cx="917.7" cy="1397.2" r="2.83" fill="#e6797a"/>
<circle cx="897.6" cy="1371.7" r="2.53" fill="#e6797a"/>
<circle cx="931.1" cy="1365.0" r="3.02" fill="#e6797a"/>
<circle cx="911.0" cy="1342.2" r="2.73" fill="#e6797a"/>
<circle cx="915.0" cy="1350.3" r="2.79" fill="#e6797a"/>
<circle cx="924.4" cy="1357.0" r="2.92" fill="#e6797a"/>
<circle cx="921.7" cy="1367.7" r="2.89" fill="#e6797a"/>
<circle cx="953.9" cy="1336.8" r="3.35" fill="#e6797a"/>
<circle cx="953.9" cy="1342.2" r="3.35" fill="#e6797a"/>
<circle cx="961.4" cy="1348.9" r="3.46" fill="#e6797a"/>
<circle cx="966.0" cy="1347.6" r="3.53" fill="#e6797a"/>
<circle cx="953.9" cy="1351.1" r="3.35" fill="#e6797a"/>
<circle cx="974.3" cy="1341.7" r="3.65" fill="#e6797a"/>
<circle cx="987.4" cy="1343.0" r="3.84" fill="#e6797a"/>
<circle cx="991.5" cy="1347.6" r="3.90" fill="#e6797a"/>
<circle cx="992.8" cy="1351.6" r="3.92" fill="#e6797a"/>
<circle cx="972.7" cy="1357.0" r="3.63" fill="#e6797a"/>
<circle cx="979.4" cy="1358.3" r="3.72" fill="#e6797a"/>
<circle cx="986.1" cy="1359.7" r="3.82" fill="#e6797a"/>
<circle cx="996.8" cy="1356.4" r="3.98" fill="#e6797a"/>
<circle cx="1004.9" cy="1359.7" r="4.10" fill="#e6797a"/>
<circle cx="953.9" cy="1359.7" r="3.35" fill="#e6797a"/>
<circle cx="962.0" cy="1365.0" r="3.47" fill="#e6797a"/>
<circle cx="975.4" cy="1363.7" r="3.67" fill="#e6797a"/>
<circle cx="983.4" cy="1366.4" r="3.78" fill="#e6797a"/>
<circle cx="991.5" cy="1363.7" r="3.90" fill="#e6797a"/>
<circle cx="999.5" cy="1367.7" r="4.02" fill="#e6797a"/>
<circle cx="962.0" cy="1375.8" r="3.47" fill="#e6797a"/>
<circle cx="968.7" cy="1379.8" r="3.57" fill="#e6797a"/>
<circle cx="975.4" cy="1375.8" r="3.67" fill="#e6797a"/>
<circle cx="983.4" cy="1373.1" r="3.78" fill="#e6797a"/>
<circle cx="991.5" cy="1373.1" r="3.90" fill="#e6797a"/>
<circle cx="999.5" cy="1371.7" r="4.02" fill="#e6797a"/>
<circle cx="978.1" cy="1382.5" r="3.70" fill="#e6797a"/>
<circle cx="970.0" cy="1386.5" r="3.59" fill="#e6797a"/>
<circle cx="962.0" cy="1391.9" r="3.47" fill="#e6797a"/>
<circle cx="955.3" cy="1390.5" r="3.37" fill="#e6797a"/>
<circle cx="968.7" cy="1391.9" r="3.57" fill="#e6797a"/>
<circle cx="975.4" cy="1389.2" r="3.67" fill="#e6797a"/>
<circle cx="1002.2" cy="1383.8" r="4.06" fill="#e6797a"/>
<circle cx="1007.6" cy="1382.5" r="4.13" fill="#e6797a"/>
<circle cx="912.6" cy="1396.2" r="3.17" fill="#e6797a"/>
<circle cx="918.2" cy="1357.9" r="2.76" fill="#e6797a"/>
<circle cx="918.9" cy="1378.4" r="3.21" fill="#e6797a"/>
<circle cx="923.8" cy="1384.6" r="2.74" fill="#e6797a"/>
<circle cx="910.1" cy="1386.9" r="3.30" fill="#e6797a"/>
<circle cx="912.1" cy="1365.7" r="2.80" fill="#e6797a"/>
<circle cx="928.4" cy="1398.0" r="3.28" fill="#e6797a"/>
<circle cx="921.5" cy="1334.7" r="3.22" fill="#e6797a"/>
<circle cx="934.0" cy="1357.3" r="2.78" fill="#e6797a"/>
<circle cx="921.9" cy="1350.1" r="3.23" fill="#e6797a"/>
<circle cx="901.9" cy="1359.9" r="2.88" fill="#e6797a"/>
<circle cx="904.2" cy="1374.7" r="2.66" fill="#e6797a"/>
<circle cx="922.8" cy="1337.3" r="3.44" fill="#e6797a"/>
<circle cx="908.1" cy="1345.5" r="3.22" fill="#e6797a"/>
<circle cx="925.7" cy="1388.9" r="2.95" fill="#e6797a"/>
<circle cx="917.3" cy="1379.0" r="3.02" fill="#e6797a"/>
<circle cx="913.4" cy="1388.5" r="3.09" fill="#e6797a"/>
<circle cx="908.6" cy="1373.8" r="2.99" fill="#e6797a"/>
<circle cx="914.5" cy="1381.4" r="2.73" fill="#e6797a"/>
<circle cx="910.5" cy="1373.2" r="3.14" fill="#e6797a"/>
<circle cx="925.2" cy="1362.3" r="3.20" fill="#e6797a"/>
<circle cx="916.9" cy="1365.4" r="2.68" fill="#e6797a"/>
<circle cx="921.6" cy="1334.1" r="3.13" fill="#e6797a"/>
<circle cx="920.4" cy="1384.1" r="3.33" fill="#e6797a"/>
<circle cx="930.1" cy="1345.5" r="2.73" fill="#e6797a"/>
<circle cx="920.8" cy="1353.2" r="3.19" fill="#e6797a"/>
<circle cx="934.6" cy="1405.7" r="3.09" fill="#e6797a"/>
<circle cx="912.2" cy="1354.9" r="3.11" fill="#e6797a"/>
<circle cx="899.6" cy="1355.5" r="2.87" fill="#e6797a"/>
<circle cx="912.1" cy="1350.7" r="2.82" fill="#e6797a"/>
<circle cx="923.0" cy="1392.2" r="2.65" fill="#e6797a"/>
<circle cx="914.4" cy="1374.7" r="3.13" fill="#e6797a"/>
<circle cx="899.5" cy="1359.6" r="2.58" fill="#e6797a"/>
<circle cx="903.4" cy="1374.1" r="2.63" fill="#e6797a"/>
<circle cx="956.1" cy="1368.9" r="2.66" fill="#e6797a"/>
<circle cx="910.6" cy="1381.8" r="3.09" fill="#e6797a"/>
<circle cx="925.7" cy="1377.6" r="2.88" fill="#e6797a"/>
<circle cx="914.3" cy="1366.0" r="2.85" fill="#e6797a"/>
<circle cx="881.7" cy="1368.8" r="3.02" fill="#e6797a"/>
<circle cx="895.9" cy="1372.2" r="2.82" fill="#e6797a"/>
<circle cx="927.6" cy="1372.1" r="3.37" fill="#e6797a"/>
<circle cx="913.0" cy="1353.2" r="3.17" fill="#e6797a"/>
<circle cx="919.1" cy="1355.9" r="3.08" fill="#e6797a"/>
<circle cx="908.1" cy="1378.8" r="2.81" fill="#e6797a"/>
<circle cx="916.9" cy="1384.4" r="2.58" fill="#e6797a"/>
<circle cx="975.7" cy="1369.8" r="3.77" fill="#e6797a"/>
<circle cx="979.7" cy="1365.6" r="3.79" fill="#e6797a"/>
<circle cx="986.9" cy="1380.7" r="3.56" fill="#e6797a"/>
<circle cx="974.7" cy="1376.0" r="3.43" fill="#e6797a"/>
<circle cx="999.9" cy="1386.7" r="3.09" fill="#e6797a"/>
<circle cx="985.4" cy="1357.9" r="3.29" fill="#e6797a"/>
<circle cx="977.8" cy="1368.6" r="3.11" fill="#e6797a"/>
<circle cx="970.5" cy="1377.5" r="3.90" fill="#e6797a"/>
<circle cx="985.1" cy="1366.1" r="3.54" fill="#e6797a"/>
<circle cx="999.0" cy="1383.9" r="3.31" fill="#e6797a"/>
<circle cx="995.2" cy="1355.9" r="3.11" fill="#e6797a"/>
<circle cx="991.9" cy="1366.7" r="3.89" fill="#e6797a"/>
<circle cx="990.7" cy="1378.7" r="3.37" fill="#e6797a"/>
<circle cx="965.8" cy="1386.3" r="3.20" fill="#e6797a"/>
<circle cx="976.4" cy="1346.9" r="3.96" fill="#e6797a"/>
<circle cx="947.8" cy="1362.6" r="3.44" fill="#e6797a"/>
<circle cx="962.3" cy="1358.1" r="3.86" fill="#e6797a"/>
<circle cx="986.6" cy="1362.4" r="3.12" fill="#e6797a"/>
<circle cx="954.4" cy="1361.2" r="3.54" fill="#e6797a"/>
<circle cx="969.2" cy="1399.0" r="3.29" fill="#e6797a"/>
<circle cx="984.9" cy="1368.6" r="3.01" fill="#e6797a"/>
<circle cx="979.7" cy="1360.0" r="3.73" fill="#e6797a"/>
<circle cx="1019.9" cy="1326.7" r="3.82" fill="#e6797a"/>
<circle cx="962.4" cy="1374.9" r="3.85" fill="#e6797a"/>
<circle cx="978.2" cy="1355.5" r="3.78" fill="#e6797a"/>
<circle cx="990.5" cy="1373.7" r="4.02" fill="#e6797a"/>
<circle cx="969.3" cy="1368.3" r="3.80" fill="#e6797a"/>
<circle cx="979.5" cy="1366.7" r="3.01" fill="#e6797a"/>
<circle cx="934.7" cy="1361.2" r="3.51" fill="#e6797a"/>
<circle cx="935.4" cy="1372.5" r="3.43" fill="#e6797a"/>
<circle cx="913.1" cy="1368.7" r="3.34" fill="#e6797a"/>
<circle cx="928.9" cy="1352.4" r="3.06" fill="#e6797a"/>
<circle cx="943.3" cy="1343.9" r="2.82" fill="#e6797a"/>
<circle cx="928.6" cy="1360.2" r="2.81" fill="#e6797a"/>
<circle cx="933.2" cy="1350.4" r="3.40" fill="#e6797a"/>
<circle cx="936.8" cy="1356.1" r="3.18" fill="#e6797a"/>
<polygon points="874.0,1375.8 874.9,1375.7 876.3,1375.7 877.8,1375.6 879.6,1375.6 881.4,1375.5 883.3,1375.2 885.1,1374.9 886.8,1374.4 888.5,1373.7 890.1,1372.8 891.8,1371.8 893.5,1370.7 895.2,1369.6 896.9,1368.4 898.6,1367.3 900.2,1366.4 901.9,1365.4 903.6,1364.5 905.3,1363.6 907.0,1362.8 908.6,1361.9 910.3,1361.1 912.0,1360.4 913.7,1359.7 915.3,1359.0 917.0,1358.4 918.7,1357.9 920.4,1357.4 922.0,1357.0 923.7,1356.5 925.4,1356.1 927.1,1355.6 928.8,1355.2 930.4,1354.7 932.1,1354.2 933.8,1353.7 935.5,1353.3 937.1,1352.9 938.8,1352.6 940.5,1352.4 942.2,1352.3 943.8,1352.2 945.5,1352.2 947.2,1352.3 948.9,1352.4 950.6,1352.6 952.2,1352.8 953.9,1352.9 955.6,1353.2 957.3,1353.5 958.9,1353.8 960.6,1354.2 962.3,1354.5 964.0,1354.9 965.6,1355.3 967.3,1355.6 969.0,1356.0 970.7,1356.3 972.4,1356.7 974.0,1357.1 975.7,1357.4 977.4,1357.7 979.1,1358.0 980.7,1358.3 982.4,1358.6 984.1,1358.8 985.8,1359.1 987.4,1359.3 989.1,1359.5 990.8,1359.6 992.5,1359.7 994.2,1359.7 995.8,1359.5 997.5,1359.3 999.2,1359.1 1000.9,1358.7 1002.5,1358.4 1004.2,1357.9 1005.9,1357.5 1007.6,1357.0 1009.2,1356.4 1010.9,1355.8 1012.6,1355.2 1014.3,1354.5 1016.0,1353.8 1017.6,1353.1 1019.3,1352.4 1021.0,1351.6 1022.7,1350.8 1024.3,1350.1 1026.0,1349.3 1027.7,1348.5 1029.4,1347.7 1031.0,1346.8 1032.7,1345.9 1034.4,1344.9 1036.1,1343.9 1037.8,1342.8 1039.4,1341.7 1041.1,1340.5 1042.8,1339.3 1044.5,1338.1 1046.1,1336.8 1047.8,1335.5 1049.5,1334.2 1051.2,1332.8 1052.8,1331.4 1054.5,1329.9 1056.2,1328.4 1057.9,1326.8 1059.6,1325.2 1061.2,1323.4 1062.9,1321.6 1064.6,1319.8 1066.3,1317.8 1067.9,1315.8 1069.6,1313.7 1071.3,1311.6 1073.0,1309.5 1074.6,1307.3 1076.3,1305.1 1078.0,1302.9 1079.6,1300.6 1081.3,1298.3 1082.9,1295.9 1084.6,1293.5 1086.3,1291.0 1088.1,1288.6 1090.0,1285.8 1092.1,1282.9 1094.2,1279.8 1096.4,1276.6 1098.5,1273.7 1100.4,1271.0 1101.9,1268.8 1103.1,1267.1 1103.1,1343.6 1101.9,1344.1 1100.4,1344.8 1098.5,1345.6 1096.4,1346.5 1094.2,1347.5 1092.1,1348.4 1090.0,1349.4 1088.1,1350.3 1086.3,1351.1 1084.6,1351.9 1082.9,1352.8 1081.3,1353.6 1079.6,1354.5 1078.0,1355.3 1076.3,1356.1 1074.6,1357.0 1073.0,1357.8 1071.3,1358.6 1069.6,1359.5 1067.9,1360.3 1066.3,1361.2 1064.6,1362.0 1062.9,1362.8 1061.2,1363.7 1059.6,1364.5 1057.9,1365.4 1056.2,1366.3 1054.5,1367.2 1052.8,1368.1 1051.2,1368.9 1049.5,1369.7 1047.8,1370.4 1046.1,1371.0 1044.5,1371.6 1042.8,1372.2 1041.1,1372.7 1039.4,1373.1 1037.8,1373.6 1036.1,1374.0 1034.4,1374.4 1032.7,1374.8 1031.0,1375.2 1029.4,1375.5 1027.7,1375.8 1026.0,1376.1 1024.3,1376.5 1022.7,1376.8 1021.0,1377.1 1019.3,1377.4 1017.6,1377.8 1016.0,1378.2 1014.3,1378.6 1012.6,1378.9 1010.9,1379.3 1009.2,1379.5 1007.6,1379.8 1005.9,1380.0 1004.2,1380.1 1002.5,1380.2 1000.9,1380.3 999.2,1380.4 997.5,1380.4 995.8,1380.4 994.2,1380.3 992.5,1380.2 990.8,1380.0 989.1,1379.8 987.4,1379.5 985.8,1379.2 984.1,1378.9 982.4,1378.7 980.7,1378.4 979.1,1378.2 977.4,1378.1 975.7,1377.9 974.0,1377.7 972.4,1377.6 970.7,1377.4 969.0,1377.3 967.3,1377.1 965.6,1376.9 964.0,1376.7 962.3,1376.5 960.6,1376.3 958.9,1376.2 957.3,1376.0 955.6,1375.9 953.9,1375.8 952.2,1375.7 950.6,1375.6 948.9,1375.6 947.2,1375.6 945.5,1375.6 943.8,1375.6 942.2,1375.7 940.5,1375.8 938.8,1375.9 937.1,1376.0 935.5,1376.2 933.8,1376.4 932.1,1376.6 930.4,1376.9 928.8,1377.2 927.1,1377.6 925.4,1378.1 923.7,1378.5 922.0,1379.0 920.4,1379.5 918.7,1380.1 917.0,1380.8 915.3,1381.6 913.7,1382.5 912.0,1383.4 910.2,1384.4 908.5,1385.5 906.8,1386.7 905.1,1388.0 903.4,1389.5 901.8,1391.2 900.2,1393.2 898.8,1395.5 897.3,1398.0 895.9,1400.9 894.5,1403.8 893.2,1406.9 891.9,1410.0 890.7,1413.1 889.5,1416.0 888.4,1418.8 887.3,1421.7 886.3,1424.5 885.3,1427.3 884.3,1430.2 883.4,1433.0 882.4,1435.9 881.5,1438.8 880.4,1441.9 879.4,1445.3 878.3,1448.8 877.2,1452.3 876.2,1455.6 875.3,1458.6 874.5,1461.1 874.0,1463.0" fill="#999999" fill-opacity="0.4"/>
<polyline points="874.0,1419.5 874.5,1418.2 875.3,1416.4 876.2,1414.2 877.2,1411.9 878.3,1409.4 879.4,1407.0 880.4,1404.6 881.5,1402.6 882.4,1400.7 883.4,1398.9 884.3,1397.2 885.3,1395.5 886.3,1393.8 887.3,1392.3 888.4,1390.7 889.5,1389.2 890.7,1387.7 891.9,1386.2 893.2,1384.8 894.5,1383.4 895.9,1382.1 897.3,1380.8 898.8,1379.6 900.2,1378.4 901.8,1377.3 903.4,1376.3 905.1,1375.4 906.8,1374.4 908.5,1373.6 910.2,1372.8 912.0,1372.0 913.7,1371.2 915.3,1370.5 917.0,1369.8 918.7,1369.1 920.4,1368.5 922.0,1367.9 923.7,1367.4 925.4,1366.8 927.1,1366.4 928.8,1365.9 930.4,1365.5 932.1,1365.1 933.8,1364.7 935.5,1364.4 937.1,1364.1 938.8,1363.9 940.5,1363.7 942.2,1363.5 943.8,1363.5 945.5,1363.4 947.2,1363.4 948.9,1363.5 950.6,1363.5 952.2,1363.6 953.9,1363.7 955.6,1363.8 957.3,1363.9 958.9,1364.0 960.6,1364.2 962.3,1364.4 964.0,1364.6 965.6,1364.8 967.3,1365.0 969.0,1365.3 970.7,1365.6 972.4,1366.0 974.0,1366.3 975.7,1366.7 977.4,1367.1 979.1,1367.4 980.7,1367.7 982.4,1368.0 984.1,1368.3 985.8,1368.6 987.4,1368.8 989.1,1369.1 990.8,1369.3 992.5,1369.5 994.2,1369.6 995.8,1369.6 997.5,1369.7 999.2,1369.7 1000.9,1369.6 1002.5,1369.5 1004.2,1369.4 1005.9,1369.2 1007.6,1369.0 1009.2,1368.8 1010.9,1368.6 1012.6,1368.3 1014.3,1368.0 1016.0,1367.7 1017.6,1367.3 1019.3,1366.8 1021.0,1366.4 1022.7,1365.8 1024.3,1365.2 1026.0,1364.6 1027.7,1363.9 1029.4,1363.2 1031.0,1362.5 1032.7,1361.7 1034.4,1361.0 1036.1,1360.2 1037.8,1359.5 1039.4,1358.7 1041.1,1357.9 1042.8,1357.1 1044.5,1356.2 1046.1,1355.3 1047.8,1354.3 1049.5,1353.3 1051.2,1352.2 1052.8,1351.1 1054.5,1349.9 1056.2,1348.7 1057.9,1347.5 1059.6,1346.2 1061.2,1344.9 1062.9,1343.5 1064.6,1342.1 1066.3,1340.6 1067.9,1339.0 1069.6,1337.5 1071.3,1335.9 1073.0,1334.4 1074.6,1332.8 1076.3,1331.3 1078.0,1329.9 1079.6,1328.5 1081.3,1327.0 1082.9,1325.6 1084.6,1324.1 1086.3,1322.5 1088.1,1320.7 1090.0,1318.8 1092.1,1316.6 1094.2,1314.3 1096.4,1311.9 1098.5,1309.7 1100.4,1307.6 1101.9,1305.9 1103.1,1304.6" fill="none" stroke="#2f86c9" stroke-width="1.8" stroke-linecap="round"/>
<circle cx="1387.7" cy="589.3" r="3.40" fill="#e6797a"/>
<circle cx="1419.5" cy="665.1" r="4.90" fill="#e6797a"/>
<circle cx="1415.8" cy="706.6" r="3.70" fill="#e6797a"/>
<circle cx="1344.5" cy="723.2" r="2.70" fill="#e6797a"/>
<circle cx="1426.3" cy="729.1" r="3.90" fill="#e6797a"/>
<circle cx="1425.8" cy="740.1" r="2.70" fill="#e6797a"/>
<circle cx="1380.4" cy="764.7" r="4.60" fill="#e6797a"/>
<circle cx="1395.0" cy="777.0" r="5.00" fill="#e6797a"/>
<circle cx="1364.0" cy="788.0" r="3.40" fill="#e6797a"/>
<circle cx="1372.1" cy="797.0" r="5.00" fill="#e6797a"/>
<circle cx="1395.8" cy="801.4" r="2.70" fill="#e6797a"/>
<circle cx="1306.6" cy="810.9" r="3.10" fill="#e6797a"/>
<circle cx="1327.9" cy="816.4" r="2.54" fill="#e6797a"/>
<circle cx="1404.4" cy="813.9" r="2.71" fill="#e6797a"/>
<circle cx="1333.8" cy="822.0" r="3.39" fill="#e6797a"/>
<circle cx="1346.5" cy="818.6" r="3.39" fill="#e6797a"/>
<circle cx="1352.4" cy="818.6" r="3.39" fill="#e6797a"/>
<circle cx="1358.4" cy="817.3" r="3.39" fill="#e6797a"/>
<circle cx="1366.0" cy="816.4" r="2.54" fill="#e6797a"/>
<circle cx="1369.4" cy="820.6" r="2.54" fill="#e6797a"/>
<circle cx="1382.9" cy="822.3" r="3.39" fill="#e6797a"/>
<circle cx="1405.8" cy="823.2" r="4.23" fill="#e6797a"/>
<circle cx="1285.9" cy="824.5" r="3.22" fill="#e6797a"/>
<circle cx="1327.0" cy="829.4" r="3.81" fill="#e6797a"/>
<circle cx="1321.1" cy="833.8" r="2.71" fill="#e6797a"/>
<circle cx="1281.8" cy="833.8" r="4.23" fill="#e6797a"/>
<circle cx="1359.2" cy="831.6" r="3.39" fill="#e6797a"/>
<circle cx="1368.5" cy="832.5" r="3.39" fill="#e6797a"/>
<circle cx="1373.6" cy="828.3" r="3.39" fill="#e6797a"/>
<circle cx="1379.5" cy="829.1" r="3.39" fill="#e6797a"/>
<circle cx="1384.6" cy="830.8" r="2.96" fill="#e6797a"/>
<circle cx="1390.5" cy="831.6" r="2.96" fill="#e6797a"/>
<circle cx="1388.0" cy="836.7" r="3.39" fill="#e6797a"/>
<circle cx="1405.8" cy="835.0" r="2.54" fill="#e6797a"/>
<circle cx="1430.4" cy="827.4" r="4.66" fill="#e6797a"/>
<circle cx="1433.7" cy="834.2" r="3.81" fill="#e6797a"/>
<circle cx="1310.1" cy="842.7" r="2.96" fill="#e6797a"/>
<circle cx="1274.5" cy="850.3" r="3.39" fill="#e6797a"/>
<circle cx="1281.8" cy="849.9" r="2.96" fill="#e6797a"/>
<circle cx="1288.1" cy="847.4" r="2.54" fill="#e6797a"/>
<circle cx="1292.3" cy="849.4" r="2.96" fill="#e6797a"/>
<circle cx="1300.8" cy="851.1" r="3.39" fill="#e6797a"/>
<circle cx="1294.9" cy="855.4" r="3.39" fill="#e6797a"/>
<circle cx="1299.9" cy="857.9" r="3.39" fill="#e6797a"/>
<circle cx="1318.6" cy="848.6" r="3.39" fill="#e6797a"/>
<circle cx="1333.8" cy="843.5" r="2.96" fill="#e6797a"/>
<circle cx="1338.9" cy="841.8" r="2.96" fill="#e6797a"/>
<circle cx="1344.0" cy="841.0" r="2.96" fill="#e6797a"/>
<circle cx="1355.8" cy="837.6" r="3.81" fill="#e6797a"/>
<circle cx="1362.6" cy="839.3" r="3.39" fill="#e6797a"/>
<circle cx="1369.4" cy="841.0" r="3.39" fill="#e6797a"/>
<circle cx="1377.8" cy="839.3" r="3.39" fill="#e6797a"/>
<circle cx="1382.9" cy="844.4" r="2.96" fill="#e6797a"/>
<circle cx="1396.5" cy="843.5" r="3.39" fill="#e6797a"/>
<circle cx="1410.0" cy="842.7" r="3.81" fill="#e6797a"/>
<circle cx="1416.8" cy="843.5" r="4.23" fill="#e6797a"/>
<circle cx="1425.3" cy="843.5" r="4.23" fill="#e6797a"/>
<circle cx="1213.6" cy="860.8" r="3.39" fill="#e6797a"/>
<circle cx="1266.1" cy="859.6" r="3.81" fill="#e6797a"/>
<circle cx="1278.8" cy="862.1" r="2.96" fill="#e6797a"/>
<circle cx="1286.4" cy="862.5" r="2.54" fill="#e6797a"/>
<circle cx="1298.2" cy="866.4" r="2.96" fill="#e6797a"/>
<circle cx="1310.9" cy="866.4" r="3.39" fill="#e6797a"/>
<circle cx="1318.6" cy="857.9" r="3.39" fill="#e6797a"/>
<circle cx="1323.6" cy="861.3" r="3.39" fill="#e6797a"/>
<circle cx="1330.4" cy="856.2" r="3.39" fill="#e6797a"/>
<circle cx="1335.5" cy="851.1" r="3.39" fill="#e6797a"/>
<circle cx="1347.4" cy="851.1" r="3.39" fill="#e6797a"/>
<circle cx="1352.4" cy="854.5" r="3.39" fill="#e6797a"/>
<circle cx="1359.2" cy="851.1" r="3.39" fill="#e6797a"/>
<circle cx="1365.1" cy="854.5" r="3.39" fill="#e6797a"/>
<circle cx="1371.1" cy="852.8" r="2.96" fill="#e6797a"/>
<circle cx="1377.8" cy="851.1" r="3.39" fill="#e6797a"/>
<circle cx="1384.6" cy="852.8" r="3.39" fill="#e6797a"/>
<circle cx="1391.4" cy="851.1" r="2.96" fill="#e6797a"/>
<circle cx="1401.6" cy="854.5" r="3.39" fill="#e6797a"/>
<circle cx="1406.6" cy="856.2" r="3.39" fill="#e6797a"/>
<circle cx="1413.4" cy="857.9" r="3.39" fill="#e6797a"/>
<circle cx="1420.2" cy="856.2" r="3.39" fill="#e6797a"/>
<circle cx="1381.2" cy="862.1" r="3.39" fill="#e6797a"/>
<circle cx="1391.4" cy="863.0" r="3.81" fill="#e6797a"/>
<circle cx="1398.2" cy="864.7" r="4.23" fill="#e6797a"/>
<circle cx="1403.3" cy="866.4" r="3.81" fill="#e6797a"/>
<circle cx="1411.7" cy="862.1" r="3.81" fill="#e6797a"/>
<circle cx="1418.5" cy="861.3" r="3.39" fill="#e6797a"/>
<circle cx="1426.1" cy="861.3" r="3.39" fill="#e6797a"/>
<circle cx="1425.3" cy="868.1" r="3.39" fill="#e6797a"/>
<circle cx="1237.3" cy="875.1" r="2.54" fill="#e6797a"/>
<circle cx="1256.4" cy="866.4" r="2.96" fill="#e6797a"/>
<circle cx="1269.4" cy="880.9" r="3.39" fill="#e6797a"/>
<circle cx="1287.2" cy="880.9" r="2.96" fill="#e6797a"/>
<circle cx="1305.0" cy="875.1" r="3.39" fill="#e6797a"/>
<circle cx="1311.8" cy="875.1" r="3.39" fill="#e6797a"/>
<circle cx="1318.6" cy="869.8" r="3.39" fill="#e6797a"/>
<circle cx="1325.3" cy="868.1" r="3.39" fill="#e6797a"/>
<circle cx="1331.8" cy="872.4" r="2.54" fill="#e6797a"/>
<circle cx="1344.0" cy="868.9" r="2.54" fill="#e6797a"/>
<circle cx="1346.5" cy="876.0" r="2.96" fill="#e6797a"/>
<circle cx="1349.1" cy="880.4" r="2.54" fill="#e6797a"/>
<circle cx="1358.4" cy="873.0" r="2.54" fill="#e6797a"/>
<circle cx="1366.3" cy="874.7" r="3.81" fill="#e6797a"/>
<circle cx="1370.2" cy="864.3" r="2.54" fill="#e6797a"/>
<circle cx="1386.3" cy="876.8" r="4.66" fill="#e6797a"/>
<circle cx="1401.6" cy="876.0" r="3.39" fill="#e6797a"/>
<circle cx="1406.6" cy="871.5" r="3.39" fill="#e6797a"/>
<circle cx="1413.4" cy="871.5" r="3.39" fill="#e6797a"/>
<circle cx="1420.2" cy="875.1" r="3.81" fill="#e6797a"/>
<circle cx="1423.6" cy="868.1" r="3.39" fill="#e6797a"/>
<circle cx="1302.5" cy="884.5" r="2.54" fill="#e6797a"/>
<circle cx="1307.6" cy="883.9" r="3.22" fill="#e6797a"/>
<circle cx="1341.4" cy="884.5" r="2.54" fill="#e6797a"/>
<circle cx="1364.0" cy="889.2" r="2.96" fill="#e6797a"/>
<circle cx="1372.8" cy="884.8" r="2.54" fill="#e6797a"/>
<circle cx="1377.0" cy="884.8" r="2.54" fill="#e6797a"/>
<circle cx="1393.1" cy="894.5" r="2.96" fill="#e6797a"/>
<circle cx="1400.7" cy="894.5" r="2.54" fill="#e6797a"/>
<circle cx="1402.4" cy="883.0" r="2.54" fill="#e6797a"/>
<circle cx="1405.8" cy="889.2" r="2.54" fill="#e6797a"/>
<circle cx="1410.9" cy="887.5" r="2.96" fill="#e6797a"/>
<circle cx="1411.7" cy="894.5" r="3.39" fill="#e6797a"/>
<circle cx="1415.1" cy="898.1" r="2.96" fill="#e6797a"/>
<circle cx="1418.5" cy="900.7" r="3.39" fill="#e6797a"/>
<circle cx="1422.7" cy="904.3" r="2.12" fill="#e6797a"/>
<circle cx="1438.0" cy="886.6" r="3.81" fill="#e6797a"/>
<circle cx="1355.3" cy="914.0" r="2.71" fill="#e6797a"/>
<circle cx="1368.9" cy="911.4" r="2.96" fill="#e6797a"/>
<circle cx="1382.6" cy="909.6" r="1.02" fill="#e6797a"/>
<circle cx="1382.9" cy="915.3" r="2.96" fill="#e6797a"/>
<circle cx="1414.8" cy="930.5" r="3.22" fill="#e6797a"/>
<circle cx="1418.0" cy="944.1" r="2.71" fill="#e6797a"/>
<circle cx="1304.5" cy="964.8" r="3.81" fill="#e6797a"/>
<circle cx="1364.6" cy="968.4" r="2.71" fill="#e6797a"/>
<circle cx="1333.8" cy="870.3" r="3.45" fill="#e6797a"/>
<circle cx="1326.5" cy="858.6" r="3.06" fill="#e6797a"/>
<circle cx="1312.9" cy="847.7" r="3.10" fill="#e6797a"/>
<circle cx="1309.0" cy="852.7" r="3.57" fill="#e6797a"/>
<circle cx="1323.1" cy="865.8" r="3.70" fill="#e6797a"/>
<circle cx="1307.7" cy="866.9" r="3.60" fill="#e6797a"/>
<circle cx="1309.3" cy="857.4" r="3.35" fill="#e6797a"/>
<circle cx="1310.5" cy="856.5" r="3.45" fill="#e6797a"/>
<circle cx="1325.1" cy="867.2" r="2.89" fill="#e6797a"/>
<circle cx="1327.1" cy="886.7" r="3.20" fill="#e6797a"/>
<circle cx="1331.5" cy="860.7" r="3.41" fill="#e6797a"/>
<circle cx="1331.4" cy="851.1" r="2.92" fill="#e6797a"/>
<circle cx="1296.9" cy="854.3" r="2.98" fill="#e6797a"/>
<circle cx="1340.9" cy="872.0" r="3.31" fill="#e6797a"/>
<circle cx="1321.0" cy="870.9" r="3.02" fill="#e6797a"/>
<circle cx="1320.5" cy="850.8" r="2.91" fill="#e6797a"/>
<circle cx="1317.9" cy="857.6" r="3.08" fill="#e6797a"/>
<circle cx="1339.8" cy="864.0" r="2.92" fill="#e6797a"/>
<circle cx="1308.5" cy="860.6" r="3.28" fill="#e6797a"/>
<circle cx="1307.7" cy="850.7" r="3.26" fill="#e6797a"/>
<circle cx="1298.9" cy="862.2" r="3.39" fill="#e6797a"/>
<circle cx="1329.5" cy="867.2" r="3.04" fill="#e6797a"/>
<circle cx="1383.9" cy="826.8" r="3.04" fill="#e6797a"/>
<circle cx="1375.7" cy="862.2" r="3.58" fill="#e6797a"/>
<circle cx="1383.6" cy="850.0" r="3.97" fill="#e6797a"/>
<circle cx="1351.5" cy="852.8" r="3.57" fill="#e6797a"/>
<circle cx="1372.4" cy="844.3" r="3.29" fill="#e6797a"/>
<circle cx="1369.8" cy="863.2" r="3.47" fill="#e6797a"/>
<circle cx="1362.1" cy="859.5" r="3.01" fill="#e6797a"/>
<circle cx="1347.8" cy="879.4" r="3.59" fill="#e6797a"/>
<circle cx="1356.1" cy="875.2" r="3.35" fill="#e6797a"/>
<circle cx="1362.6" cy="850.9" r="3.13" fill="#e6797a"/>
<circle cx="1365.7" cy="855.9" r="3.89" fill="#e6797a"/>
<circle cx="1361.7" cy="856.7" r="3.61" fill="#e6797a"/>
<circle cx="1372.4" cy="842.8" r="3.77" fill="#e6797a"/>
<circle cx="1350.8" cy="858.9" r="3.60" fill="#e6797a"/>
<circle cx="1383.9" cy="840.7" r="3.51" fill="#e6797a"/>
<circle cx="1369.6" cy="838.2" r="3.38" fill="#e6797a"/>
<circle cx="1379.1" cy="844.0" r="3.79" fill="#e6797a"/>
<circle cx="1350.7" cy="872.1" r="3.62" fill="#e6797a"/>
<circle cx="1363.1" cy="875.6" r="3.47" fill="#e6797a"/>
<circle cx="1357.0" cy="855.6" r="3.08" fill="#e6797a"/>
<circle cx="1368.9" cy="865.1" r="3.12" fill="#e6797a"/>
<circle cx="1361.8" cy="860.6" r="3.55" fill="#e6797a"/>
<circle cx="1385.9" cy="876.4" r="3.34" fill="#e6797a"/>
<circle cx="1393.6" cy="869.7" r="3.20" fill="#e6797a"/>
<circle cx="1404.6" cy="866.4" r="3.84" fill="#e6797a"/>
<circle cx="1415.4" cy="876.2" r="3.30" fill="#e6797a"/>
<circle cx="1391.3" cy="840.1" r="3.44" fill="#e6797a"/>
<circle cx="1421.3" cy="848.8" r="3.66" fill="#e6797a"/>
<circle cx="1416.5" cy="862.4" r="3.35" fill="#e6797a"/>
<circle cx="1372.3" cy="864.6" r="3.99" fill="#e6797a"/>
<circle cx="1422.2" cy="866.6" r="4.07" fill="#e6797a"/>
<circle cx="1397.4" cy="856.1" r="4.00" fill="#e6797a"/>
<circle cx="1369.2" cy="877.3" r="4.00" fill="#e6797a"/>
<circle cx="1418.2" cy="826.9" r="3.13" fill="#e6797a"/>
<circle cx="1406.4" cy="845.4" r="3.21" fill="#e6797a"/>
<circle cx="1390.1" cy="872.0" r="3.07" fill="#e6797a"/>
<circle cx="1380.7" cy="866.2" r="3.59" fill="#e6797a"/>
<circle cx="1392.1" cy="855.7" r="4.11" fill="#e6797a"/>
<circle cx="1403.5" cy="881.5" r="3.76" fill="#e6797a"/>
<circle cx="1403.3" cy="858.1" r="3.31" fill="#e6797a"/>
<circle cx="1403.3" cy="855.4" r="4.03" fill="#e6797a"/>
<circle cx="1411.6" cy="845.8" r="3.54" fill="#e6797a"/>
<circle cx="1385.3" cy="888.2" r="3.09" fill="#e6797a"/>
<circle cx="1425.4" cy="887.6" r="3.93" fill="#e6797a"/>
<circle cx="1393.6" cy="819.4" r="3.63" fill="#e6797a"/>
<circle cx="1410.7" cy="843.7" r="4.03" fill="#e6797a"/>
<circle cx="1416.4" cy="864.8" r="3.68" fill="#e6797a"/>
<circle cx="1407.2" cy="842.5" r="3.80" fill="#e6797a"/>
<circle cx="1417.1" cy="854.7" r="3.28" fill="#e6797a"/>
<circle cx="1429.7" cy="863.6" r="3.57" fill="#e6797a"/>
<circle cx="1390.7" cy="869.9" r="3.19" fill="#e6797a"/>
<circle cx="1405.0" cy="868.9" r="3.34" fill="#e6797a"/>
<circle cx="1424.2" cy="842.8" r="3.33" fill="#e6797a"/>
<circle cx="1427.4" cy="839.7" r="3.26" fill="#e6797a"/>
<circle cx="1414.3" cy="836.2" r="3.97" fill="#e6797a"/>
<circle cx="1421.6" cy="838.9" r="3.49" fill="#e6797a"/>
<circle cx="1419.8" cy="835.9" r="4.03" fill="#e6797a"/>
<circle cx="1423.5" cy="855.2" r="4.02" fill="#e6797a"/>
<circle cx="1411.6" cy="855.4" r="3.77" fill="#e6797a"/>
<circle cx="1420.4" cy="839.9" r="3.80" fill="#e6797a"/>
<circle cx="1423.6" cy="841.3" r="3.43" fill="#e6797a"/>
<circle cx="1417.2" cy="844.3" r="4.21" fill="#e6797a"/>
<circle cx="1418.5" cy="960.5" r="4.20" fill="#e6797a"/>
<polygon points="1213.9,805.4 1215.5,806.9 1217.6,808.9 1220.1,811.3 1222.8,814.0 1225.7,816.7 1228.6,819.4 1231.4,821.9 1233.9,824.0 1236.1,825.9 1238.3,827.5 1240.5,829.1 1242.5,830.6 1244.6,832.0 1246.7,833.3 1248.7,834.6 1250.8,835.9 1252.9,837.1 1255.0,838.4 1257.2,839.6 1259.3,840.7 1261.4,841.8 1263.5,842.7 1265.6,843.6 1267.8,844.4 1269.9,845.0 1272.0,845.5 1274.1,845.8 1276.2,846.2 1278.3,846.4 1280.5,846.6 1282.6,846.7 1284.7,846.9 1286.8,847.0 1288.9,847.1 1291.0,847.2 1293.2,847.2 1295.3,847.2 1297.4,847.1 1299.5,847.0 1301.6,846.9 1303.7,846.7 1305.9,846.5 1308.0,846.2 1310.1,845.9 1312.2,845.6 1314.3,845.2 1316.4,844.8 1318.6,844.4 1320.7,843.8 1322.8,843.3 1324.9,842.6 1327.0,842.0 1329.1,841.3 1331.3,840.6 1333.4,839.9 1335.5,839.3 1337.6,838.6 1339.7,838.0 1341.9,837.3 1344.0,836.6 1346.1,836.0 1348.2,835.3 1350.3,834.7 1352.4,834.2 1354.6,833.7 1356.9,833.1 1359.2,832.6 1361.4,832.1 1363.6,831.7 1365.7,831.3 1367.7,831.0 1369.4,830.8 1370.8,830.7 1372.1,830.6 1373.2,830.7 1374.1,830.7 1375.0,830.9 1375.9,831.1 1376.8,831.4 1377.8,831.6 1378.9,832.0 1380.0,832.4 1381.0,833.0 1382.1,833.5 1383.1,834.1 1384.2,834.7 1385.3,835.3 1386.3,835.9 1387.4,836.5 1388.4,837.2 1389.5,837.9 1390.5,838.6 1391.6,839.3 1392.7,839.9 1393.7,840.5 1394.8,841.0 1395.8,841.4 1396.9,841.7 1398.0,842.0 1399.0,842.2 1400.1,842.4 1401.1,842.5 1402.2,842.6 1403.3,842.7 1404.3,842.7 1405.4,842.7 1406.4,842.7 1407.5,842.6 1408.5,842.5 1409.6,842.3 1410.7,842.1 1411.7,841.8 1412.8,841.5 1413.8,841.0 1414.9,840.6 1416.0,840.1 1417.0,839.5 1418.1,838.9 1419.1,838.2 1420.2,837.6 1421.2,836.9 1422.3,836.2 1423.3,835.4 1424.4,834.7 1425.4,833.8 1426.5,832.9 1427.6,831.9 1428.7,830.8 1429.8,829.5 1431.1,827.9 1432.5,826.2 1433.8,824.4 1435.1,822.7 1436.3,821.2 1437.2,819.9 1438.0,818.9 1438.0,874.8 1437.2,874.4 1436.3,873.9 1435.1,873.3 1433.8,872.6 1432.5,871.9 1431.1,871.1 1429.8,870.4 1428.7,869.8 1427.6,869.1 1426.5,868.4 1425.4,867.7 1424.4,867.1 1423.3,866.4 1422.3,865.8 1421.2,865.2 1420.2,864.7 1419.1,864.2 1418.1,863.8 1417.0,863.5 1416.0,863.1 1414.9,862.9 1413.8,862.6 1412.8,862.4 1411.7,862.1 1410.7,862.0 1409.6,861.8 1408.5,861.7 1407.5,861.7 1406.4,861.6 1405.4,861.5 1404.3,861.4 1403.3,861.3 1402.2,861.1 1401.1,860.9 1400.1,860.8 1399.0,860.5 1398.0,860.3 1396.9,860.1 1395.8,859.9 1394.8,859.6 1393.7,859.3 1392.7,859.0 1391.6,858.6 1390.5,858.2 1389.5,857.9 1388.4,857.5 1387.4,857.3 1386.3,857.1 1385.3,856.9 1384.2,856.9 1383.1,856.9 1382.1,856.9 1381.0,857.0 1380.0,857.1 1378.9,857.1 1377.8,857.1 1376.8,857.0 1375.9,856.8 1375.0,856.6 1374.1,856.5 1373.2,856.3 1372.1,856.2 1370.8,856.2 1369.4,856.2 1367.7,856.4 1365.7,856.6 1363.6,856.9 1361.4,857.2 1359.2,857.6 1356.9,858.0 1354.6,858.4 1352.4,858.7 1350.3,859.1 1348.2,859.5 1346.1,859.9 1344.0,860.3 1341.9,860.8 1339.7,861.2 1337.6,861.7 1335.5,862.1 1333.4,862.6 1331.3,863.1 1329.1,863.7 1327.0,864.2 1324.9,864.7 1322.8,865.3 1320.7,865.8 1318.6,866.4 1316.4,866.9 1314.3,867.4 1312.2,867.9 1310.1,868.4 1308.0,869.0 1305.9,869.5 1303.7,870.0 1301.6,870.6 1299.5,871.2 1297.4,871.8 1295.3,872.4 1293.2,873.0 1291.0,873.7 1288.9,874.3 1286.8,875.0 1284.7,875.7 1282.6,876.4 1280.5,877.0 1278.3,877.7 1276.2,878.4 1274.1,879.1 1272.0,879.9 1269.9,880.7 1267.8,881.6 1265.6,882.6 1263.5,883.6 1261.4,884.7 1259.3,885.9 1257.2,887.1 1255.0,888.3 1252.9,889.6 1250.8,890.9 1248.7,892.3 1246.7,893.6 1244.6,895.0 1242.5,896.4 1240.5,897.9 1238.3,899.4 1236.1,901.0 1233.9,902.8 1231.4,904.8 1228.6,907.1 1225.7,909.5 1222.8,912.0 1220.1,914.4 1217.6,916.6 1215.5,918.4 1213.9,919.7" fill="#999999" fill-opacity="0.4"/>
<polyline points="1213.9,862.1 1215.5,862.2 1217.6,862.4 1220.1,862.6 1222.8,862.7 1225.7,862.9 1228.6,863.1 1231.4,863.2 1233.9,863.3 1236.1,863.4 1238.3,863.4 1240.5,863.3 1242.5,863.3 1244.6,863.2 1246.7,863.1 1248.7,863.1 1250.8,863.0 1252.9,862.9 1255.0,862.8 1257.2,862.7 1259.3,862.6 1261.4,862.5 1263.5,862.4 1265.6,862.3 1267.8,862.1 1269.9,862.0 1272.0,861.8 1274.1,861.6 1276.2,861.4 1278.3,861.2 1280.5,860.9 1282.6,860.7 1284.7,860.4 1286.8,860.2 1288.9,859.9 1291.0,859.6 1293.2,859.3 1295.3,859.0 1297.4,858.6 1299.5,858.3 1301.6,857.9 1303.7,857.5 1305.9,857.1 1308.0,856.7 1310.1,856.3 1312.2,855.9 1314.3,855.4 1316.4,855.0 1318.6,854.5 1320.7,854.0 1322.8,853.5 1324.9,853.0 1327.0,852.4 1329.1,851.8 1331.3,851.3 1333.4,850.8 1335.5,850.3 1337.6,849.8 1339.7,849.4 1341.9,848.9 1344.0,848.5 1346.1,848.1 1348.2,847.7 1350.3,847.3 1352.4,846.9 1354.6,846.5 1356.9,846.1 1359.2,845.8 1361.4,845.4 1363.6,845.1 1365.7,844.8 1367.7,844.5 1369.4,844.4 1370.8,844.2 1372.1,844.1 1373.2,844.1 1374.1,844.1 1375.0,844.1 1375.9,844.2 1376.8,844.3 1377.8,844.4 1378.9,844.5 1380.0,844.6 1381.0,844.8 1382.1,844.9 1383.1,845.1 1384.2,845.4 1385.3,845.7 1386.3,846.0 1387.4,846.5 1388.4,847.0 1389.5,847.6 1390.5,848.2 1391.6,848.8 1392.7,849.4 1393.7,849.9 1394.8,850.3 1395.8,850.6 1396.9,850.9 1398.0,851.1 1399.0,851.2 1400.1,851.4 1401.1,851.5 1402.2,851.5 1403.3,851.6 1404.3,851.7 1405.4,851.8 1406.4,851.8 1407.5,851.8 1408.5,851.8 1409.6,851.7 1410.7,851.7 1411.7,851.6 1412.8,851.6 1413.8,851.5 1414.9,851.3 1416.0,851.2 1417.0,851.1 1418.1,850.9 1419.1,850.8 1420.2,850.6 1421.2,850.5 1422.3,850.3 1423.3,850.1 1424.4,849.9 1425.4,849.7 1426.5,849.5 1427.6,849.3 1428.7,849.1 1429.8,848.8 1431.1,848.5 1432.5,848.2 1433.8,847.9 1435.1,847.6 1436.3,847.3 1437.2,847.1 1438.0,846.9" fill="none" stroke="#2f86c9" stroke-width="1.8" stroke-linecap="round"/>
<circle cx="1391.6" cy="1113.5" r="3.40" fill="#e6797a"/>
<circle cx="1423.9" cy="1192.4" r="4.90" fill="#e6797a"/>
<circle cx="1420.4" cy="1228.3" r="3.70" fill="#e6797a"/>
<circle cx="1347.4" cy="1240.0" r="2.70" fill="#e6797a"/>
<circle cx="1430.7" cy="1253.5" r="3.90" fill="#e6797a"/>
<circle cx="1430.5" cy="1262.0" r="2.50" fill="#e6797a"/>
<circle cx="1384.0" cy="1271.0" r="4.30" fill="#e6797a"/>
<circle cx="1399.0" cy="1288.4" r="4.60" fill="#e6797a"/>
<circle cx="1367.2" cy="1306.5" r="3.40" fill="#e6797a"/>
<circle cx="1375.5" cy="1307.2" r="4.90" fill="#e6797a"/>
<circle cx="1400.0" cy="1321.4" r="2.70" fill="#e6797a"/>
<circle cx="1309.0" cy="1326.3" r="3.10" fill="#e6797a"/>
<circle cx="1330.4" cy="1334.7" r="2.54" fill="#e6797a"/>
<circle cx="1408.7" cy="1332.2" r="2.71" fill="#e6797a"/>
<circle cx="1336.5" cy="1340.3" r="3.39" fill="#e6797a"/>
<circle cx="1349.5" cy="1336.9" r="3.39" fill="#e6797a"/>
<circle cx="1355.5" cy="1336.9" r="3.39" fill="#e6797a"/>
<circle cx="1361.6" cy="1335.6" r="3.39" fill="#e6797a"/>
<circle cx="1369.4" cy="1334.7" r="2.54" fill="#e6797a"/>
<circle cx="1372.8" cy="1338.9" r="2.54" fill="#e6797a"/>
<circle cx="1386.7" cy="1340.6" r="3.39" fill="#e6797a"/>
<circle cx="1410.1" cy="1341.5" r="4.23" fill="#e6797a"/>
<circle cx="1287.5" cy="1342.8" r="3.22" fill="#e6797a"/>
<circle cx="1329.6" cy="1347.7" r="3.81" fill="#e6797a"/>
<circle cx="1323.5" cy="1352.1" r="2.71" fill="#e6797a"/>
<circle cx="1283.3" cy="1352.1" r="4.23" fill="#e6797a"/>
<circle cx="1362.5" cy="1349.9" r="3.39" fill="#e6797a"/>
<circle cx="1372.0" cy="1350.8" r="3.39" fill="#e6797a"/>
<circle cx="1377.2" cy="1346.6" r="3.39" fill="#e6797a"/>
<circle cx="1383.2" cy="1347.4" r="3.39" fill="#e6797a"/>
<circle cx="1388.4" cy="1349.1" r="2.96" fill="#e6797a"/>
<circle cx="1394.5" cy="1349.9" r="2.96" fill="#e6797a"/>
<circle cx="1391.9" cy="1355.0" r="3.39" fill="#e6797a"/>
<circle cx="1410.1" cy="1353.3" r="2.54" fill="#e6797a"/>
<circle cx="1435.2" cy="1345.7" r="4.66" fill="#e6797a"/>
<circle cx="1438.6" cy="1352.5" r="3.81" fill="#e6797a"/>
<circle cx="1312.2" cy="1361.0" r="2.96" fill="#e6797a"/>
<circle cx="1275.9" cy="1368.6" r="3.39" fill="#e6797a"/>
<circle cx="1283.3" cy="1368.2" r="2.96" fill="#e6797a"/>
<circle cx="1289.7" cy="1365.7" r="2.54" fill="#e6797a"/>
<circle cx="1294.1" cy="1367.7" r="2.96" fill="#e6797a"/>
<circle cx="1302.7" cy="1369.4" r="3.39" fill="#e6797a"/>
<circle cx="1296.7" cy="1373.7" r="3.39" fill="#e6797a"/>
<circle cx="1301.9" cy="1376.2" r="3.39" fill="#e6797a"/>
<circle cx="1320.9" cy="1366.9" r="3.39" fill="#e6797a"/>
<circle cx="1336.5" cy="1361.8" r="2.96" fill="#e6797a"/>
<circle cx="1341.7" cy="1360.1" r="2.96" fill="#e6797a"/>
<circle cx="1346.9" cy="1359.3" r="2.96" fill="#e6797a"/>
<circle cx="1359.0" cy="1355.9" r="3.81" fill="#e6797a"/>
<circle cx="1365.9" cy="1357.6" r="3.39" fill="#e6797a"/>
<circle cx="1372.8" cy="1359.3" r="3.39" fill="#e6797a"/>
<circle cx="1381.5" cy="1357.6" r="3.39" fill="#e6797a"/>
<circle cx="1386.7" cy="1362.7" r="2.96" fill="#e6797a"/>
<circle cx="1400.5" cy="1361.8" r="3.39" fill="#e6797a"/>
<circle cx="1414.4" cy="1361.0" r="3.81" fill="#e6797a"/>
<circle cx="1421.3" cy="1361.8" r="4.23" fill="#e6797a"/>
<circle cx="1430.0" cy="1361.8" r="4.23" fill="#e6797a"/>
<circle cx="1213.5" cy="1379.1" r="3.39" fill="#e6797a"/>
<circle cx="1267.2" cy="1377.9" r="3.81" fill="#e6797a"/>
<circle cx="1280.2" cy="1380.4" r="2.96" fill="#e6797a"/>
<circle cx="1288.0" cy="1380.8" r="2.54" fill="#e6797a"/>
<circle cx="1300.1" cy="1384.7" r="2.96" fill="#e6797a"/>
<circle cx="1313.1" cy="1384.7" r="3.39" fill="#e6797a"/>
<circle cx="1320.9" cy="1376.2" r="3.39" fill="#e6797a"/>
<circle cx="1326.1" cy="1379.6" r="3.39" fill="#e6797a"/>
<circle cx="1333.0" cy="1374.5" r="3.39" fill="#e6797a"/>
<circle cx="1338.2" cy="1369.4" r="3.39" fill="#e6797a"/>
<circle cx="1350.3" cy="1369.4" r="3.39" fill="#e6797a"/>
<circle cx="1355.5" cy="1372.8" r="3.39" fill="#e6797a"/>
<circle cx="1362.5" cy="1369.4" r="3.39" fill="#e6797a"/>
<circle cx="1368.5" cy="1372.8" r="3.39" fill="#e6797a"/>
<circle cx="1374.6" cy="1371.1" r="2.96" fill="#e6797a"/>
<circle cx="1381.5" cy="1369.4" r="3.39" fill="#e6797a"/>
<circle cx="1388.4" cy="1371.1" r="3.39" fill="#e6797a"/>
<circle cx="1395.4" cy="1369.4" r="2.96" fill="#e6797a"/>
<circle cx="1405.7" cy="1372.8" r="3.39" fill="#e6797a"/>
<circle cx="1410.9" cy="1374.5" r="3.39" fill="#e6797a"/>
<circle cx="1417.9" cy="1376.2" r="3.39" fill="#e6797a"/>
<circle cx="1424.8" cy="1374.5" r="3.39" fill="#e6797a"/>
<circle cx="1385.0" cy="1380.4" r="3.39" fill="#e6797a"/>
<circle cx="1395.4" cy="1381.3" r="3.81" fill="#e6797a"/>
<circle cx="1402.3" cy="1383.0" r="4.23" fill="#e6797a"/>
<circle cx="1407.5" cy="1384.7" r="3.81" fill="#e6797a"/>
<circle cx="1416.1" cy="1380.4" r="3.81" fill="#e6797a"/>
<circle cx="1423.1" cy="1379.6" r="3.39" fill="#e6797a"/>
<circle cx="1430.9" cy="1379.6" r="3.39" fill="#e6797a"/>
<circle cx="1430.0" cy="1386.4" r="3.39" fill="#e6797a"/>
<circle cx="1237.8" cy="1393.1" r="2.54" fill="#e6797a"/>
<circle cx="1257.4" cy="1384.7" r="2.96" fill="#e6797a"/>
<circle cx="1270.7" cy="1398.7" r="3.39" fill="#e6797a"/>
<circle cx="1288.9" cy="1398.7" r="2.96" fill="#e6797a"/>
<circle cx="1307.0" cy="1393.1" r="3.39" fill="#e6797a"/>
<circle cx="1314.0" cy="1393.1" r="3.39" fill="#e6797a"/>
<circle cx="1320.9" cy="1388.1" r="3.39" fill="#e6797a"/>
<circle cx="1327.8" cy="1386.4" r="3.39" fill="#e6797a"/>
<circle cx="1334.4" cy="1390.6" r="2.54" fill="#e6797a"/>
<circle cx="1346.9" cy="1387.2" r="2.54" fill="#e6797a"/>
<circle cx="1349.5" cy="1394.0" r="2.96" fill="#e6797a"/>
<circle cx="1352.1" cy="1398.2" r="2.54" fill="#e6797a"/>
<circle cx="1361.6" cy="1391.1" r="2.54" fill="#e6797a"/>
<circle cx="1369.7" cy="1392.8" r="3.81" fill="#e6797a"/>
<circle cx="1373.7" cy="1382.6" r="2.54" fill="#e6797a"/>
<circle cx="1390.2" cy="1394.8" r="4.66" fill="#e6797a"/>
<circle cx="1405.7" cy="1394.0" r="3.39" fill="#e6797a"/>
<circle cx="1410.9" cy="1389.8" r="3.39" fill="#e6797a"/>
<circle cx="1417.9" cy="1389.8" r="3.39" fill="#e6797a"/>
<circle cx="1424.8" cy="1393.1" r="3.81" fill="#e6797a"/>
<circle cx="1428.3" cy="1386.4" r="3.39" fill="#e6797a"/>
<circle cx="1304.4" cy="1402.1" r="2.54" fill="#e6797a"/>
<circle cx="1309.6" cy="1401.6" r="3.22" fill="#e6797a"/>
<circle cx="1344.3" cy="1402.1" r="2.54" fill="#e6797a"/>
<circle cx="1367.3" cy="1406.7" r="2.96" fill="#e6797a"/>
<circle cx="1376.3" cy="1402.5" r="2.54" fill="#e6797a"/>
<circle cx="1380.6" cy="1402.5" r="2.54" fill="#e6797a"/>
<circle cx="1397.1" cy="1411.8" r="2.96" fill="#e6797a"/>
<circle cx="1404.9" cy="1411.8" r="2.54" fill="#e6797a"/>
<circle cx="1406.6" cy="1400.8" r="2.54" fill="#e6797a"/>
<circle cx="1410.1" cy="1406.7" r="2.54" fill="#e6797a"/>
<circle cx="1415.3" cy="1405.0" r="2.96" fill="#e6797a"/>
<circle cx="1416.1" cy="1411.8" r="3.39" fill="#e6797a"/>
<circle cx="1419.6" cy="1415.2" r="2.96" fill="#e6797a"/>
<circle cx="1423.1" cy="1417.7" r="3.39" fill="#e6797a"/>
<circle cx="1427.4" cy="1421.1" r="2.12" fill="#e6797a"/>
<circle cx="1443.0" cy="1404.1" r="3.81" fill="#e6797a"/>
<circle cx="1358.5" cy="1430.4" r="2.71" fill="#e6797a"/>
<circle cx="1372.3" cy="1427.9" r="2.96" fill="#e6797a"/>
<circle cx="1386.3" cy="1426.2" r="1.02" fill="#e6797a"/>
<circle cx="1386.7" cy="1431.6" r="2.96" fill="#e6797a"/>
<circle cx="1419.2" cy="1446.2" r="3.22" fill="#e6797a"/>
<circle cx="1422.5" cy="1459.2" r="2.71" fill="#e6797a"/>
<circle cx="1306.5" cy="1479.0" r="3.81" fill="#e6797a"/>
<circle cx="1368.0" cy="1482.4" r="2.71" fill="#e6797a"/>
<circle cx="1336.4" cy="1388.6" r="3.45" fill="#e6797a"/>
<circle cx="1329.0" cy="1376.9" r="3.06" fill="#e6797a"/>
<circle cx="1315.2" cy="1366.0" r="3.10" fill="#e6797a"/>
<circle cx="1311.1" cy="1371.0" r="3.57" fill="#e6797a"/>
<circle cx="1325.6" cy="1384.1" r="3.70" fill="#e6797a"/>
<circle cx="1309.8" cy="1385.2" r="3.60" fill="#e6797a"/>
<circle cx="1311.4" cy="1375.7" r="3.35" fill="#e6797a"/>
<circle cx="1312.6" cy="1374.8" r="3.45" fill="#e6797a"/>
<circle cx="1327.5" cy="1385.5" r="2.89" fill="#e6797a"/>
<circle cx="1329.6" cy="1404.3" r="3.20" fill="#e6797a"/>
<circle cx="1334.2" cy="1379.0" r="3.41" fill="#e6797a"/>
<circle cx="1334.0" cy="1369.4" r="2.92" fill="#e6797a"/>
<circle cx="1298.7" cy="1372.6" r="2.98" fill="#e6797a"/>
<circle cx="1343.7" cy="1390.2" r="3.31" fill="#e6797a"/>
<circle cx="1323.3" cy="1389.2" r="3.02" fill="#e6797a"/>
<circle cx="1322.9" cy="1369.1" r="2.91" fill="#e6797a"/>
<circle cx="1320.2" cy="1375.9" r="3.08" fill="#e6797a"/>
<circle cx="1342.6" cy="1382.3" r="2.92" fill="#e6797a"/>
<circle cx="1310.6" cy="1378.9" r="3.28" fill="#e6797a"/>
<circle cx="1309.8" cy="1369.0" r="3.26" fill="#e6797a"/>
<circle cx="1300.8" cy="1380.5" r="3.39" fill="#e6797a"/>
<circle cx="1332.1" cy="1385.5" r="3.04" fill="#e6797a"/>
<circle cx="1387.7" cy="1345.1" r="3.04" fill="#e6797a"/>
<circle cx="1379.3" cy="1380.5" r="3.58" fill="#e6797a"/>
<circle cx="1387.4" cy="1368.3" r="3.97" fill="#e6797a"/>
<circle cx="1354.6" cy="1371.1" r="3.57" fill="#e6797a"/>
<circle cx="1376.0" cy="1362.6" r="3.29" fill="#e6797a"/>
<circle cx="1373.2" cy="1381.5" r="3.47" fill="#e6797a"/>
<circle cx="1365.4" cy="1377.8" r="3.01" fill="#e6797a"/>
<circle cx="1350.8" cy="1397.3" r="3.59" fill="#e6797a"/>
<circle cx="1359.3" cy="1393.3" r="3.35" fill="#e6797a"/>
<circle cx="1365.9" cy="1369.2" r="3.13" fill="#e6797a"/>
<circle cx="1369.1" cy="1374.2" r="3.89" fill="#e6797a"/>
<circle cx="1365.0" cy="1375.0" r="3.61" fill="#e6797a"/>
<circle cx="1375.9" cy="1361.1" r="3.77" fill="#e6797a"/>
<circle cx="1353.9" cy="1377.2" r="3.60" fill="#e6797a"/>
<circle cx="1387.7" cy="1359.0" r="3.51" fill="#e6797a"/>
<circle cx="1373.1" cy="1356.5" r="3.38" fill="#e6797a"/>
<circle cx="1382.8" cy="1362.3" r="3.79" fill="#e6797a"/>
<circle cx="1353.8" cy="1390.3" r="3.62" fill="#e6797a"/>
<circle cx="1366.5" cy="1393.7" r="3.47" fill="#e6797a"/>
<circle cx="1360.2" cy="1373.9" r="3.08" fill="#e6797a"/>
<circle cx="1372.4" cy="1383.4" r="3.12" fill="#e6797a"/>
<circle cx="1365.1" cy="1378.9" r="3.55" fill="#e6797a"/>
<circle cx="1389.7" cy="1394.4" r="3.34" fill="#e6797a"/>
<circle cx="1397.6" cy="1388.0" r="3.20" fill="#e6797a"/>
<circle cx="1408.8" cy="1384.7" r="3.84" fill="#e6797a"/>
<circle cx="1419.9" cy="1394.2" r="3.30" fill="#e6797a"/>
<circle cx="1395.3" cy="1358.4" r="3.44" fill="#e6797a"/>
<circle cx="1426.0" cy="1367.1" r="3.66" fill="#e6797a"/>
<circle cx="1421.0" cy="1380.7" r="3.35" fill="#e6797a"/>
<circle cx="1375.8" cy="1382.9" r="3.99" fill="#e6797a"/>
<circle cx="1426.8" cy="1384.9" r="4.07" fill="#e6797a"/>
<circle cx="1401.4" cy="1374.4" r="4.00" fill="#e6797a"/>
<circle cx="1372.7" cy="1395.3" r="4.00" fill="#e6797a"/>
<circle cx="1422.7" cy="1345.2" r="3.13" fill="#e6797a"/>
<circle cx="1410.7" cy="1363.7" r="3.21" fill="#e6797a"/>
<circle cx="1394.1" cy="1390.2" r="3.07" fill="#e6797a"/>
<circle cx="1384.4" cy="1384.5" r="3.59" fill="#e6797a"/>
<circle cx="1396.0" cy="1374.0" r="4.11" fill="#e6797a"/>
<circle cx="1407.7" cy="1399.2" r="3.76" fill="#e6797a"/>
<circle cx="1407.5" cy="1376.4" r="3.31" fill="#e6797a"/>
<circle cx="1407.5" cy="1373.7" r="4.03" fill="#e6797a"/>
<circle cx="1416.0" cy="1364.1" r="3.54" fill="#e6797a"/>
<circle cx="1389.1" cy="1405.7" r="3.09" fill="#e6797a"/>
<circle cx="1430.1" cy="1405.1" r="3.93" fill="#e6797a"/>
<circle cx="1397.6" cy="1337.7" r="3.63" fill="#e6797a"/>
<circle cx="1415.1" cy="1362.0" r="4.03" fill="#e6797a"/>
<circle cx="1421.0" cy="1383.1" r="3.68" fill="#e6797a"/>
<circle cx="1411.5" cy="1360.8" r="3.80" fill="#e6797a"/>
<circle cx="1421.6" cy="1373.0" r="3.28" fill="#e6797a"/>
<circle cx="1434.5" cy="1381.9" r="3.57" fill="#e6797a"/>
<circle cx="1394.7" cy="1388.1" r="3.19" fill="#e6797a"/>
<circle cx="1409.2" cy="1387.2" r="3.34" fill="#e6797a"/>
<circle cx="1428.9" cy="1361.1" r="3.33" fill="#e6797a"/>
<circle cx="1432.2" cy="1358.0" r="3.26" fill="#e6797a"/>
<circle cx="1418.8" cy="1354.5" r="3.97" fill="#e6797a"/>
<circle cx="1426.2" cy="1357.2" r="3.49" fill="#e6797a"/>
<circle cx="1424.4" cy="1354.2" r="4.03" fill="#e6797a"/>
<circle cx="1428.2" cy="1373.5" r="4.02" fill="#e6797a"/>
<circle cx="1416.0" cy="1373.7" r="3.77" fill="#e6797a"/>
<circle cx="1425.0" cy="1358.2" r="3.80" fill="#e6797a"/>
<circle cx="1428.3" cy="1359.6" r="3.43" fill="#e6797a"/>
<circle cx="1421.8" cy="1362.6" r="4.21" fill="#e6797a"/>
<circle cx="1423.6" cy="1491.2" r="4.20" fill="#e6797a"/>
<polygon points="1213.9,1323.7 1215.5,1325.2 1217.6,1327.2 1220.2,1329.6 1223.0,1332.3 1226.0,1335.0 1229.0,1337.7 1231.8,1340.2 1234.3,1342.3 1236.6,1344.2 1238.9,1345.8 1241.0,1347.4 1243.2,1348.9 1245.3,1350.3 1247.4,1351.6 1249.5,1352.9 1251.6,1354.2 1253.8,1355.4 1256.0,1356.7 1258.1,1357.9 1260.3,1359.0 1262.5,1360.1 1264.6,1361.0 1266.8,1361.9 1269.0,1362.7 1271.1,1363.3 1273.3,1363.8 1275.4,1364.1 1277.6,1364.5 1279.8,1364.7 1281.9,1364.9 1284.1,1365.0 1286.3,1365.2 1288.4,1365.3 1290.6,1365.4 1292.8,1365.5 1294.9,1365.5 1297.1,1365.5 1299.3,1365.4 1301.4,1365.3 1303.6,1365.2 1305.7,1365.0 1307.9,1364.8 1310.1,1364.5 1312.2,1364.2 1314.4,1363.9 1316.6,1363.5 1318.7,1363.1 1320.9,1362.7 1323.1,1362.1 1325.2,1361.6 1327.4,1360.9 1329.6,1360.3 1331.7,1359.6 1333.9,1358.9 1336.0,1358.2 1338.2,1357.6 1340.4,1356.9 1342.5,1356.3 1344.7,1355.6 1346.9,1354.9 1349.0,1354.3 1351.2,1353.6 1353.4,1353.0 1355.5,1352.5 1357.8,1352.0 1360.1,1351.4 1362.4,1350.9 1364.7,1350.4 1367.0,1350.0 1369.1,1349.6 1371.1,1349.3 1372.8,1349.1 1374.3,1349.0 1375.6,1348.9 1376.7,1349.0 1377.7,1349.0 1378.6,1349.2 1379.5,1349.4 1380.5,1349.7 1381.5,1349.9 1382.6,1350.3 1383.7,1350.7 1384.7,1351.3 1385.8,1351.8 1386.9,1352.4 1388.0,1353.0 1389.1,1353.6 1390.2,1354.2 1391.2,1354.8 1392.3,1355.5 1393.4,1356.2 1394.5,1356.9 1395.6,1357.6 1396.7,1358.2 1397.7,1358.8 1398.8,1359.3 1399.9,1359.7 1401.0,1360.0 1402.1,1360.3 1403.1,1360.5 1404.2,1360.7 1405.3,1360.8 1406.4,1360.9 1407.5,1361.0 1408.6,1361.0 1409.6,1361.0 1410.7,1361.0 1411.8,1360.9 1412.9,1360.8 1414.0,1360.6 1415.1,1360.4 1416.1,1360.1 1417.2,1359.8 1418.3,1359.3 1419.4,1358.9 1420.5,1358.4 1421.5,1357.8 1422.6,1357.2 1423.7,1356.5 1424.8,1355.9 1425.9,1355.2 1426.9,1354.5 1428.0,1353.7 1429.1,1353.0 1430.1,1352.1 1431.2,1351.2 1432.3,1350.2 1433.4,1349.1 1434.7,1347.8 1436.0,1346.2 1437.4,1344.5 1438.8,1342.7 1440.1,1341.0 1441.2,1339.5 1442.2,1338.2 1443.0,1337.2 1443.0,1393.1 1442.2,1392.7 1441.2,1392.2 1440.1,1391.6 1438.8,1390.9 1437.4,1390.2 1436.0,1389.4 1434.7,1388.7 1433.4,1388.1 1432.3,1387.4 1431.2,1386.7 1430.1,1386.0 1429.1,1385.4 1428.0,1384.7 1426.9,1384.1 1425.9,1383.5 1424.8,1383.0 1423.7,1382.5 1422.6,1382.1 1421.5,1381.8 1420.5,1381.4 1419.4,1381.2 1418.3,1380.9 1417.2,1380.7 1416.1,1380.4 1415.1,1380.3 1414.0,1380.1 1412.9,1380.0 1411.8,1380.0 1410.7,1379.9 1409.6,1379.8 1408.6,1379.7 1407.5,1379.6 1406.4,1379.4 1405.3,1379.2 1404.2,1379.1 1403.1,1378.8 1402.1,1378.6 1401.0,1378.4 1399.9,1378.2 1398.8,1377.9 1397.7,1377.6 1396.7,1377.3 1395.6,1376.9 1394.5,1376.5 1393.4,1376.2 1392.3,1375.8 1391.2,1375.6 1390.2,1375.4 1389.1,1375.2 1388.0,1375.2 1386.9,1375.2 1385.8,1375.2 1384.7,1375.3 1383.7,1375.4 1382.6,1375.4 1381.5,1375.4 1380.5,1375.3 1379.5,1375.1 1378.6,1374.9 1377.7,1374.8 1376.7,1374.6 1375.6,1374.5 1374.3,1374.5 1372.8,1374.5 1371.1,1374.7 1369.1,1374.9 1367.0,1375.2 1364.7,1375.5 1362.4,1375.9 1360.1,1376.3 1357.8,1376.7 1355.5,1377.0 1353.4,1377.4 1351.2,1377.8 1349.0,1378.2 1346.9,1378.6 1344.7,1379.1 1342.5,1379.5 1340.4,1380.0 1338.2,1380.4 1336.0,1380.9 1333.9,1381.4 1331.7,1382.0 1329.6,1382.5 1327.4,1383.0 1325.2,1383.6 1323.1,1384.1 1320.9,1384.7 1318.7,1385.2 1316.6,1385.7 1314.4,1386.2 1312.2,1386.7 1310.1,1387.3 1307.9,1387.8 1305.7,1388.3 1303.6,1388.9 1301.4,1389.5 1299.3,1390.1 1297.1,1390.7 1294.9,1391.3 1292.8,1392.0 1290.6,1392.6 1288.4,1393.3 1286.3,1394.0 1284.1,1394.7 1281.9,1395.3 1279.8,1396.0 1277.6,1396.7 1275.4,1397.4 1273.3,1398.2 1271.1,1399.0 1269.0,1399.9 1266.8,1400.9 1264.6,1401.9 1262.5,1403.0 1260.3,1404.2 1258.1,1405.4 1256.0,1406.6 1253.8,1407.9 1251.6,1409.2 1249.5,1410.6 1247.4,1411.9 1245.3,1413.3 1243.2,1414.7 1241.0,1416.2 1238.9,1417.7 1236.6,1419.3 1234.3,1421.1 1231.8,1423.1 1229.0,1425.4 1226.0,1427.8 1223.0,1430.3 1220.2,1432.7 1217.6,1434.9 1215.5,1436.7 1213.9,1438.0" fill="#999999" fill-opacity="0.4"/>
<polyline points="1213.9,1380.4 1215.5,1380.5 1217.6,1380.7 1220.2,1380.9 1223.0,1381.0 1226.0,1381.2 1229.0,1381.4 1231.8,1381.5 1234.3,1381.6 1236.6,1381.7 1238.9,1381.7 1241.0,1381.6 1243.2,1381.6 1245.3,1381.5 1247.4,1381.4 1249.5,1381.4 1251.6,1381.3 1253.8,1381.2 1256.0,1381.1 1258.1,1381.0 1260.3,1380.9 1262.5,1380.8 1264.6,1380.7 1266.8,1380.6 1269.0,1380.4 1271.1,1380.3 1273.3,1380.1 1275.4,1379.9 1277.6,1379.7 1279.8,1379.5 1281.9,1379.2 1284.1,1379.0 1286.3,1378.7 1288.4,1378.5 1290.6,1378.2 1292.8,1377.9 1294.9,1377.6 1297.1,1377.3 1299.3,1376.9 1301.4,1376.6 1303.6,1376.2 1305.7,1375.8 1307.9,1375.4 1310.1,1375.0 1312.2,1374.6 1314.4,1374.2 1316.6,1373.7 1318.7,1373.3 1320.9,1372.8 1323.1,1372.3 1325.2,1371.8 1327.4,1371.3 1329.6,1370.7 1331.7,1370.1 1333.9,1369.6 1336.0,1369.1 1338.2,1368.6 1340.4,1368.1 1342.5,1367.7 1344.7,1367.2 1346.9,1366.8 1349.0,1366.4 1351.2,1366.0 1353.4,1365.6 1355.5,1365.2 1357.8,1364.8 1360.1,1364.4 1362.4,1364.1 1364.7,1363.7 1367.0,1363.4 1369.1,1363.1 1371.1,1362.8 1372.8,1362.7 1374.3,1362.5 1375.6,1362.4 1376.7,1362.4 1377.7,1362.4 1378.6,1362.4 1379.5,1362.5 1380.5,1362.6 1381.5,1362.7 1382.6,1362.8 1383.7,1362.9 1384.7,1363.1 1385.8,1363.2 1386.9,1363.4 1388.0,1363.7 1389.1,1364.0 1390.2,1364.3 1391.2,1364.8 1392.3,1365.3 1393.4,1365.9 1394.5,1366.5 1395.6,1367.1 1396.7,1367.7 1397.7,1368.2 1398.8,1368.6 1399.9,1368.9 1401.0,1369.2 1402.1,1369.4 1403.1,1369.5 1404.2,1369.7 1405.3,1369.8 1406.4,1369.8 1407.5,1369.9 1408.6,1370.0 1409.6,1370.1 1410.7,1370.1 1411.8,1370.1 1412.9,1370.1 1414.0,1370.0 1415.1,1370.0 1416.1,1369.9 1417.2,1369.9 1418.3,1369.8 1419.4,1369.6 1420.5,1369.5 1421.5,1369.4 1422.6,1369.2 1423.7,1369.1 1424.8,1368.9 1425.9,1368.8 1426.9,1368.6 1428.0,1368.4 1429.1,1368.2 1430.1,1368.0 1431.2,1367.8 1432.3,1367.6 1433.4,1367.4 1434.7,1367.1 1436.0,1366.8 1437.4,1366.5 1438.8,1366.2 1440.1,1365.9 1441.2,1365.6 1442.2,1365.4 1443.0,1365.2" fill="none" stroke="#2f86c9" stroke-width="1.8" stroke-linecap="round"/>
<polygon points="144.1,299.5 148.5,301.9 154.4,305.3 161.4,309.3 169.1,313.7 177.2,318.2 185.3,322.6 193.1,326.6 200.0,330.0 206.4,332.9 212.6,335.5 218.6,338.0 224.6,340.2 230.4,342.3 236.0,344.2 241.6,345.9 247.0,347.4 252.3,348.7 257.3,349.8 262.2,350.7 267.0,351.5 271.7,352.1 276.4,352.6 281.2,353.0 286.0,353.3 290.9,353.6 295.7,353.7 300.6,353.7 305.4,353.6 310.3,353.4 315.2,353.2 320.1,352.9 325.0,352.7 329.8,352.5 334.3,352.3 338.8,352.0 343.4,351.7 348.1,351.3 353.2,350.9 358.8,350.2 365.0,349.4 372.1,348.3 380.1,347.0 388.7,345.5 397.6,344.0 406.4,342.3 415.0,340.8 422.9,339.3 430.0,338.0 436.1,336.9 441.3,336.0 446.1,335.2 450.5,334.4 454.8,333.6 459.2,332.7 463.8,331.7 469.0,330.5 474.7,329.1 480.7,327.6 487.0,326.1 493.3,324.4 499.7,322.6 506.0,320.8 512.1,318.8 518.0,316.8 523.7,314.7 529.3,312.5 534.9,310.2 540.4,307.8 545.6,305.3 550.7,302.8 555.5,300.3 560.0,297.7 564.2,295.0 568.2,292.2 571.9,289.3 575.3,286.4 578.6,283.5 581.7,280.8 584.6,278.2 587.4,275.8 589.8,273.9 591.9,272.3 593.6,271.1 595.3,269.9 596.9,268.5 598.6,266.9 600.6,264.8 603.0,262.1 605.8,258.5 609.0,254.3 612.4,249.5 615.9,244.5 619.4,239.4 622.9,234.4 626.2,229.7 629.3,225.6 632.2,221.9 635.2,218.2 638.1,214.7 640.9,211.5 643.5,208.5 645.8,205.9 647.7,203.6 649.2,201.9 649.2,295.1 648.0,295.1 646.6,295.0 644.8,294.9 642.8,294.8 640.6,294.7 638.2,294.8 635.7,295.0 633.0,295.4 630.0,296.0 626.7,296.8 623.1,297.7 619.4,298.7 615.7,299.8 612.1,300.9 608.7,302.1 605.6,303.2 602.9,304.3 600.6,305.4 598.5,306.6 596.5,307.8 594.5,309.0 592.4,310.3 590.1,311.6 587.4,313.0 584.5,314.4 581.5,315.7 578.4,317.1 575.2,318.5 571.7,320.0 568.1,321.8 564.2,323.7 560.0,326.0 555.5,328.7 550.7,331.9 545.6,335.3 540.4,338.9 534.9,342.6 529.3,346.0 523.7,349.2 518.0,352.0 512.2,354.3 506.2,356.3 500.1,358.1 493.9,359.7 487.7,361.2 481.4,362.7 475.2,364.3 469.0,366.0 462.9,367.9 456.9,369.9 450.9,371.9 444.9,374.0 438.8,376.0 432.7,377.9 426.4,379.5 420.0,381.0 413.4,382.2 406.8,383.2 400.0,384.1 393.1,384.8 386.2,385.4 379.2,386.0 372.1,386.5 365.0,387.0 357.7,387.5 350.1,387.8 342.3,388.1 334.5,388.4 326.8,388.6 319.4,388.8 312.4,389.1 306.0,389.4 300.3,389.7 295.3,389.9 290.8,390.1 286.5,390.3 282.2,390.5 277.7,391.0 272.7,391.6 267.0,392.4 260.6,393.5 253.8,394.7 246.6,396.2 239.1,397.7 231.4,399.4 223.6,401.2 215.7,403.1 208.0,405.0 199.8,407.2 190.9,409.7 181.6,412.4 172.4,415.1 163.6,417.7 155.7,420.1 149.1,422.1 144.1,423.6" fill="#999999" fill-opacity="0.4"/>
<polyline points="144.1,361.1 148.9,361.5 155.3,362.0 162.8,362.6 171.2,363.2 180.2,363.9 189.5,364.7 198.9,365.4 208.0,366.0 217.3,366.6 227.4,367.3 237.9,368.0 248.6,368.7 259.0,369.4 268.9,370.0 278.0,370.5 286.0,370.9 292.7,371.2 298.5,371.4 303.4,371.5 307.9,371.6 312.0,371.6 316.1,371.6 320.3,371.6 325.0,371.5 329.8,371.5 334.6,371.4 339.3,371.4 344.0,371.3 348.9,371.1 353.9,370.9 359.3,370.5 365.0,369.9 371.2,369.2 377.8,368.3 384.8,367.3 391.9,366.2 399.2,365.0 406.3,363.7 413.3,362.4 420.0,361.0 426.4,359.6 432.7,358.1 438.8,356.5 444.9,354.9 450.9,353.2 456.9,351.5 462.9,349.8 469.0,348.1 475.2,346.5 481.4,344.9 487.7,343.4 493.9,341.8 500.1,340.2 506.2,338.4 512.2,336.5 518.0,334.4 523.7,332.0 529.3,329.3 534.9,326.5 540.4,323.5 545.6,320.5 550.7,317.6 555.5,314.8 560.0,312.3 564.1,310.0 567.9,308.0 571.3,306.1 574.6,304.3 577.8,302.4 580.9,300.5 584.1,298.3 587.4,295.9 590.9,293.1 594.4,290.0 598.0,286.8 601.6,283.4 605.1,280.0 608.5,276.8 611.7,273.8 614.7,271.2 617.4,269.0 620.0,267.0 622.3,265.2 624.5,263.6 626.7,262.1 628.8,260.7 630.9,259.2 633.0,257.6 635.2,255.9 637.6,254.1 639.9,252.2 642.2,250.5 644.4,248.8 646.3,247.2 648.0,246.0 649.2,245.0" fill="none" stroke="#56708f" stroke-width="1.8" stroke-linecap="round"/>
<line x1="627.6" y1="246.4" x2="662.8" y2="242.4" stroke="#1ca34d" stroke-width="0.6" stroke-opacity="0.8"/>
<line x1="277.8" y1="294.2" x2="272.1" y2="290.8" stroke="#d96996" stroke-width="0.6" stroke-opacity="0.8"/>
<line x1="312.8" y1="336.4" x2="301.1" y2="302.5" stroke="#a57bd8" stroke-width="0.6" stroke-opacity="0.8"/>
<line x1="553.3" y1="269.1" x2="533.8" y2="269.1" stroke="#00a3bb" stroke-width="0.6" stroke-opacity="0.8"/>
<line x1="605.7" y1="271.9" x2="615.1" y2="272.3" stroke="#a48e00" stroke-width="0.6" stroke-opacity="0.8"/>
<line x1="532.4" y1="302.1" x2="532.4" y2="286.3" stroke="#00a77e" stroke-width="0.6" stroke-opacity="0.8"/>
<line x1="530.5" y1="300.6" x2="530.5" y2="287.0" stroke="#b873d2" stroke-width="0.6" stroke-opacity="0.8"/>
<line x1="615.9" y1="284.7" x2="641.3" y2="284.7" stroke="#d268b9" stroke-width="0.6" stroke-opacity="0.8"/>
<line x1="451.7" y1="341.6" x2="451.1" y2="296.5" stroke="#d168bb" stroke-width="0.6" stroke-opacity="0.8"/>
<line x1="476.2" y1="333.9" x2="474.9" y2="297.6" stroke="#00a880" stroke-width="0.6" stroke-opacity="0.8"/>
<line x1="548.3" y1="310.3" x2="530.0" y2="299.5" stroke="#d86c83" stroke-width="0.6" stroke-opacity="0.8"/>
<line x1="586.5" y1="294.4" x2="564.6" y2="296.2" stroke="#00a89a" stroke-width="0.6" stroke-opacity="0.8"/>
<line x1="608.4" y1="300.8" x2="635.4" y2="300.8" stroke="#00a775" stroke-width="0.6" stroke-opacity="0.8"/>
<line x1="637.0" y1="294.1" x2="671.0" y2="297.0" stroke="#5790d9" stroke-width="0.6" stroke-opacity="0.8"/>
<line x1="367.5" y1="352.7" x2="367.5" y2="309.5" stroke="#aa8c00" stroke-width="0.6" stroke-opacity="0.8"/>
<line x1="312.2" y1="364.4" x2="312.2" y2="311.7" stroke="#b574d3" stroke-width="0.6" stroke-opacity="0.8"/>
<line x1="458.6" y1="335.8" x2="454.9" y2="308.9" stroke="#b58701" stroke-width="0.6" stroke-opacity="0.8"/>
<line x1="203.7" y1="362.1" x2="203.7" y2="313.7" stroke="#d96b8c" stroke-width="0.6" stroke-opacity="0.8"/>
<line x1="588.5" y1="298.0" x2="605.7" y2="309.2" stroke="#0b97d3" stroke-width="0.6" stroke-opacity="0.8"/>
<line x1="405.5" y1="344.8" x2="405.5" y2="321.2" stroke="#6f9c00" stroke-width="0.6" stroke-opacity="0.8"/>
<line x1="434.7" y1="344.5" x2="431.9" y2="321.2" stroke="#009bce" stroke-width="0.6" stroke-opacity="0.8"/>
<line x1="325.9" y1="340.4" x2="325.9" y2="323.2" stroke="#d47172" stroke-width="0.6" stroke-opacity="0.8"/>
<line x1="313.1" y1="350.9" x2="301.6" y2="323.4" stroke="#cf765d" stroke-width="0.6" stroke-opacity="0.8"/>
<line x1="164.0" y1="355.6" x2="164.0" y2="326.8" stroke="#a18f00" stroke-width="0.6" stroke-opacity="0.8"/>
<line x1="222.5" y1="352.6" x2="222.5" y2="326.4" stroke="#7b9900" stroke-width="0.6" stroke-opacity="0.8"/>
<line x1="268.0" y1="332.7" x2="267.0" y2="326.4" stroke="#30a246" stroke-width="0.6" stroke-opacity="0.8"/>
<line x1="495.3" y1="333.9" x2="495.3" y2="328.3" stroke="#609e21" stroke-width="0.6" stroke-opacity="0.8"/>
<line x1="587.8" y1="324.6" x2="620.5" y2="324.6" stroke="#00a7a1" stroke-width="0.6" stroke-opacity="0.8"/>
<line x1="414.0" y1="353.3" x2="414.0" y2="332.8" stroke="#ae77d6" stroke-width="0.6" stroke-opacity="0.8"/>
<line x1="348.3" y1="349.6" x2="348.3" y2="333.5" stroke="#009fc7" stroke-width="0.6" stroke-opacity="0.8"/>
<line x1="458.6" y1="347.6" x2="446.4" y2="333.5" stroke="#00a4b7" stroke-width="0.6" stroke-opacity="0.8"/>
<line x1="317.1" y1="362.2" x2="317.1" y2="335.5" stroke="#a88c00" stroke-width="0.6" stroke-opacity="0.8"/>
<line x1="222.7" y1="360.9" x2="222.7" y2="338.0" stroke="#00a5b1" stroke-width="0.6" stroke-opacity="0.8"/>
<line x1="207.1" y1="352.7" x2="205.7" y2="342.8" stroke="#009dcb" stroke-width="0.6" stroke-opacity="0.8"/>
<line x1="633.5" y1="341.0" x2="640.1" y2="341.0" stroke="#589f2b" stroke-width="0.6" stroke-opacity="0.8"/>
<line x1="407.3" y1="351.1" x2="406.4" y2="345.8" stroke="#00a79c" stroke-width="0.6" stroke-opacity="0.8"/>
<line x1="248.1" y1="352.2" x2="239.2" y2="350.6" stroke="#5c9f26" stroke-width="0.6" stroke-opacity="0.8"/>
<line x1="495.6" y1="343.5" x2="506.8" y2="346.1" stroke="#27a34a" stroke-width="0.6" stroke-opacity="0.8"/>
<line x1="194.5" y1="349.8" x2="187.0" y2="349.8" stroke="#ac8b00" stroke-width="0.6" stroke-opacity="0.8"/>
<line x1="609.4" y1="348.7" x2="633.5" y2="349.1" stroke="#bb8322" stroke-width="0.6" stroke-opacity="0.8"/>
<line x1="315.3" y1="366.5" x2="315.3" y2="357.4" stroke="#759b00" stroke-width="0.6" stroke-opacity="0.8"/>
<line x1="380.3" y1="374.4" x2="378.0" y2="357.4" stroke="#09a451" stroke-width="0.6" stroke-opacity="0.8"/>
<line x1="507.3" y1="352.5" x2="507.3" y2="358.3" stroke="#c37f39" stroke-width="0.6" stroke-opacity="0.8"/>
<line x1="226.2" y1="373.7" x2="210.9" y2="368.1" stroke="#00a6a8" stroke-width="0.6" stroke-opacity="0.8"/>
<line x1="357.9" y1="355.3" x2="357.9" y2="361.1" stroke="#009ccd" stroke-width="0.6" stroke-opacity="0.8"/>
<line x1="545.9" y1="358.4" x2="577.6" y2="361.6" stroke="#00a55e" stroke-width="0.6" stroke-opacity="0.8"/>
<line x1="584.2" y1="365.1" x2="607.6" y2="365.1" stroke="#009ec8" stroke-width="0.6" stroke-opacity="0.8"/>
<line x1="639.2" y1="360.7" x2="651.0" y2="361.6" stroke="#987fdb" stroke-width="0.6" stroke-opacity="0.8"/>
<line x1="473.1" y1="384.3" x2="473.1" y2="378.1" stroke="#c87c48" stroke-width="0.6" stroke-opacity="0.8"/>
<line x1="214.3" y1="379.9" x2="207.1" y2="379.9" stroke="#00a667" stroke-width="0.6" stroke-opacity="0.8"/>
<line x1="404.1" y1="368.0" x2="404.1" y2="374.0" stroke="#b88515" stroke-width="0.6" stroke-opacity="0.8"/>
<line x1="523.1" y1="387.5" x2="523.1" y2="382.0" stroke="#5191d8" stroke-width="0.6" stroke-opacity="0.8"/>
<line x1="619.4" y1="389.0" x2="658.9" y2="381.8" stroke="#819800" stroke-width="0.6" stroke-opacity="0.8"/>
<line x1="600.8" y1="381.8" x2="622.9" y2="385.1" stroke="#8a9600" stroke-width="0.6" stroke-opacity="0.8"/>
<line x1="647.2" y1="386.8" x2="680.0" y2="386.8" stroke="#c46dca" stroke-width="0.6" stroke-opacity="0.8"/>
<line x1="401.5" y1="390.7" x2="393.3" y2="390.7" stroke="#00a778" stroke-width="0.6" stroke-opacity="0.8"/>
<line x1="503.7" y1="384.7" x2="536.9" y2="386.7" stroke="#9f7dda" stroke-width="0.6" stroke-opacity="0.8"/>
<line x1="282.1" y1="389.7" x2="262.1" y2="389.7" stroke="#d767aa" stroke-width="0.6" stroke-opacity="0.8"/>
<line x1="561.2" y1="382.5" x2="564.7" y2="388.2" stroke="#c66cc9" stroke-width="0.6" stroke-opacity="0.8"/>
<line x1="182.3" y1="394.6" x2="162.8" y2="396.0" stroke="#ad8a00" stroke-width="0.6" stroke-opacity="0.8"/>
<line x1="238.3" y1="391.9" x2="197.0" y2="396.0" stroke="#bd8227" stroke-width="0.6" stroke-opacity="0.8"/>
<line x1="589.0" y1="388.1" x2="632.3" y2="397.6" stroke="#c26ecc" stroke-width="0.6" stroke-opacity="0.8"/>
<line x1="417.7" y1="390.2" x2="417.7" y2="397.9" stroke="#d66f78" stroke-width="0.6" stroke-opacity="0.8"/>
<line x1="479.4" y1="397.3" x2="508.0" y2="399.8" stroke="#698dda" stroke-width="0.6" stroke-opacity="0.8"/>
<line x1="547.6" y1="390.3" x2="575.7" y2="400.7" stroke="#9182db" stroke-width="0.6" stroke-opacity="0.8"/>
<line x1="273.1" y1="397.1" x2="245.5" y2="400.9" stroke="#a68d00" stroke-width="0.6" stroke-opacity="0.8"/>
<line x1="454.9" y1="397.5" x2="457.8" y2="401.7" stroke="#8f9500" stroke-width="0.6" stroke-opacity="0.8"/>
<line x1="504.4" y1="394.7" x2="536.9" y2="402.3" stroke="#919400" stroke-width="0.6" stroke-opacity="0.8"/>
<line x1="306.0" y1="399.9" x2="286.8" y2="402.7" stroke="#8c9500" stroke-width="0.6" stroke-opacity="0.8"/>
<line x1="647.2" y1="388.4" x2="682.0" y2="408.2" stroke="#00a88e" stroke-width="0.6" stroke-opacity="0.8"/>
<line x1="164.2" y1="386.3" x2="126.3" y2="408.7" stroke="#00a4b9" stroke-width="0.6" stroke-opacity="0.8"/>
<line x1="221.6" y1="393.5" x2="184.3" y2="408.7" stroke="#c16fcd" stroke-width="0.6" stroke-opacity="0.8"/>
<line x1="407.1" y1="397.1" x2="407.1" y2="409.0" stroke="#00a0c4" stroke-width="0.6" stroke-opacity="0.8"/>
<line x1="587.1" y1="391.4" x2="599.4" y2="410.1" stroke="#b18800" stroke-width="0.6" stroke-opacity="0.8"/>
<line x1="257.0" y1="398.1" x2="208.6" y2="413.1" stroke="#00a66d" stroke-width="0.6" stroke-opacity="0.8"/>
<line x1="502.7" y1="391.9" x2="515.0" y2="413.2" stroke="#4293d7" stroke-width="0.6" stroke-opacity="0.8"/>
<line x1="515.0" y1="383.8" x2="518.9" y2="414.0" stroke="#a879d8" stroke-width="0.6" stroke-opacity="0.8"/>
<line x1="546.8" y1="386.1" x2="584.6" y2="414.0" stroke="#bc71d0" stroke-width="0.6" stroke-opacity="0.8"/>
<line x1="456.5" y1="394.8" x2="456.5" y2="414.4" stroke="#00a1c2" stroke-width="0.6" stroke-opacity="0.8"/>
<line x1="488.0" y1="400.7" x2="488.0" y2="414.4" stroke="#d27369" stroke-width="0.6" stroke-opacity="0.8"/>
<line x1="265.3" y1="399.1" x2="265.3" y2="414.7" stroke="#c86cc7" stroke-width="0.6" stroke-opacity="0.8"/>
<line x1="359.6" y1="407.7" x2="312.1" y2="415.7" stroke="#d76e7e" stroke-width="0.6" stroke-opacity="0.8"/>
<line x1="355.1" y1="403.9" x2="349.0" y2="417.5" stroke="#00a898" stroke-width="0.6" stroke-opacity="0.8"/>
<line x1="425.4" y1="402.1" x2="425.4" y2="419.4" stroke="#00a77b" stroke-width="0.6" stroke-opacity="0.8"/>
<line x1="376.7" y1="401.0" x2="376.7" y2="420.7" stroke="#00a3bd" stroke-width="0.6" stroke-opacity="0.8"/>
<line x1="597.9" y1="391.1" x2="617.0" y2="421.8" stroke="#a27cd9" stroke-width="0.6" stroke-opacity="0.8"/>
<line x1="502.1" y1="394.5" x2="502.1" y2="426.5" stroke="#d07563" stroke-width="0.6" stroke-opacity="0.8"/>
<line x1="548.4" y1="383.8" x2="569.7" y2="426.5" stroke="#00a772" stroke-width="0.6" stroke-opacity="0.8"/>
<line x1="468.8" y1="401.2" x2="468.8" y2="426.6" stroke="#d867a7" stroke-width="0.6" stroke-opacity="0.8"/>
<line x1="248.0" y1="395.5" x2="234.0" y2="426.9" stroke="#d4716f" stroke-width="0.6" stroke-opacity="0.8"/>
<line x1="315.8" y1="411.7" x2="288.5" y2="428.2" stroke="#00a2be" stroke-width="0.6" stroke-opacity="0.8"/>
<line x1="334.3" y1="403.2" x2="320.5" y2="428.7" stroke="#3994d6" stroke-width="0.6" stroke-opacity="0.8"/>
<line x1="407.5" y1="403.5" x2="407.5" y2="431.6" stroke="#009acf" stroke-width="0.6" stroke-opacity="0.8"/>
<line x1="446.6" y1="392.6" x2="446.6" y2="432.3" stroke="#989200" stroke-width="0.6" stroke-opacity="0.8"/>
<line x1="367.1" y1="404.4" x2="360.4" y2="432.5" stroke="#d96899" stroke-width="0.6" stroke-opacity="0.8"/>
<line x1="629.2" y1="393.3" x2="629.2" y2="438.3" stroke="#d567b3" stroke-width="0.6" stroke-opacity="0.8"/>
<line x1="487.9" y1="405.7" x2="493.1" y2="438.6" stroke="#738adb" stroke-width="0.6" stroke-opacity="0.8"/>
<line x1="501.7" y1="403.3" x2="507.2" y2="438.6" stroke="#ce7759" stroke-width="0.6" stroke-opacity="0.8"/>
<line x1="282.7" y1="405.5" x2="262.8" y2="439.9" stroke="#7789db" stroke-width="0.6" stroke-opacity="0.8"/>
<line x1="327.6" y1="412.5" x2="295.0" y2="440.7" stroke="#ba841c" stroke-width="0.6" stroke-opacity="0.8"/>
<line x1="363.0" y1="414.4" x2="340.4" y2="441.0" stroke="#649d1b" stroke-width="0.6" stroke-opacity="0.8"/>
<line x1="452.5" y1="407.1" x2="473.5" y2="440.9" stroke="#49a138" stroke-width="0.6" stroke-opacity="0.8"/>
<line x1="405.1" y1="408.0" x2="405.1" y2="444.5" stroke="#d66f7b" stroke-width="0.6" stroke-opacity="0.8"/>
<line x1="372.2" y1="405.1" x2="372.2" y2="445.9" stroke="#7e9900" stroke-width="0.6" stroke-opacity="0.8"/>
<line x1="474.1" y1="403.5" x2="492.3" y2="451.5" stroke="#9b9100" stroke-width="0.6" stroke-opacity="0.8"/>
<line x1="543.0" y1="394.9" x2="566.1" y2="450.0" stroke="#8984db" stroke-width="0.6" stroke-opacity="0.8"/>
<line x1="329.9" y1="398.1" x2="314.3" y2="453.0" stroke="#638eda" stroke-width="0.6" stroke-opacity="0.8"/>
<line x1="361.4" y1="401.0" x2="348.5" y2="456.2" stroke="#b076d5" stroke-width="0.6" stroke-opacity="0.8"/>
<line x1="424.7" y1="397.0" x2="424.7" y2="456.0" stroke="#d867a5" stroke-width="0.6" stroke-opacity="0.8"/>
<line x1="460.7" y1="406.6" x2="460.7" y2="456.0" stroke="#8087db" stroke-width="0.6" stroke-opacity="0.8"/>
<circle cx="466.6" cy="61.0" r="1.9" fill="#d967a0"/>
<circle cx="529.8" cy="77.6" r="1.9" fill="#ce69c0"/>
<circle cx="571.5" cy="82.6" r="1.9" fill="#00a457"/>
<circle cx="546.4" cy="84.0" r="1.9" fill="#00a454"/>
<circle cx="597.7" cy="91.8" r="1.9" fill="#d86b89"/>
<circle cx="511.8" cy="120.9" r="1.9" fill="#8d83db"/>
<circle cx="429.0" cy="131.9" r="1.9" fill="#6e8cdb"/>
<circle cx="512.2" cy="153.1" r="1.9" fill="#00a7a3"/>
<circle cx="489.0" cy="173.4" r="1.9" fill="#d9689e"/>
<circle cx="616.4" cy="181.4" r="1.9" fill="#b375d4"/>
<circle cx="606.2" cy="196.2" r="1.9" fill="#00a883"/>
<circle cx="603.0" cy="202.3" r="1.9" fill="#cf7660"/>
<circle cx="631.3" cy="204.6" r="1.9" fill="#00a0c5"/>
<circle cx="423.3" cy="216.2" r="1.9" fill="#d467b5"/>
<circle cx="595.9" cy="214.9" r="1.9" fill="#44a13b"/>
<circle cx="517.9" cy="224.2" r="1.9" fill="#c57d41"/>
<circle cx="559.0" cy="225.1" r="1.9" fill="#00a886"/>
<circle cx="531.6" cy="224.7" r="1.9" fill="#9d9000"/>
<circle cx="580.2" cy="220.1" r="1.9" fill="#3ea13f"/>
<circle cx="616.7" cy="228.1" r="1.9" fill="#0098d2"/>
<circle cx="584.6" cy="233.9" r="1.9" fill="#ca7a4f"/>
<circle cx="595.5" cy="244.1" r="1.9" fill="#d96a8e"/>
<circle cx="627.6" cy="246.4" r="1.9" fill="#1ca34d"/>
<circle cx="498.3" cy="245.6" r="1.9" fill="#00a6aa"/>
<circle cx="214.8" cy="245.7" r="1.9" fill="#d3726c"/>
<circle cx="341.3" cy="251.0" r="1.9" fill="#00a7a6"/>
<circle cx="379.7" cy="224.1" r="1.9" fill="#009dca"/>
<circle cx="364.7" cy="260.6" r="1.9" fill="#d068bd"/>
<circle cx="277.8" cy="294.2" r="1.9" fill="#d96996"/>
<circle cx="297.3" cy="291.6" r="1.9" fill="#d57075"/>
<circle cx="312.8" cy="336.4" r="1.9" fill="#a57bd8"/>
<circle cx="556.8" cy="244.9" r="1.9" fill="#00a888"/>
<circle cx="591.6" cy="258.1" r="1.9" fill="#c08130"/>
<circle cx="638.8" cy="248.5" r="1.9" fill="#789a00"/>
<circle cx="497.2" cy="257.0" r="1.9" fill="#00a890"/>
<circle cx="533.0" cy="263.1" r="1.9" fill="#5d8fd9"/>
<circle cx="578.3" cy="262.1" r="1.9" fill="#849700"/>
<circle cx="613.5" cy="268.8" r="1.9" fill="#00a6af"/>
<circle cx="491.9" cy="273.2" r="1.9" fill="#00a1c0"/>
<circle cx="553.3" cy="269.1" r="1.9" fill="#00a3bb"/>
<circle cx="411.3" cy="275.0" r="1.9" fill="#679d14"/>
<circle cx="450.0" cy="279.6" r="1.9" fill="#d17466"/>
<circle cx="602.3" cy="267.2" r="1.9" fill="#d96a91"/>
<circle cx="605.7" cy="271.9" r="1.9" fill="#a48e00"/>
<circle cx="649.5" cy="269.4" r="1.9" fill="#d367b7"/>
<circle cx="376.4" cy="273.5" r="1.9" fill="#53a02f"/>
<circle cx="532.4" cy="302.1" r="1.9" fill="#00a77e"/>
<circle cx="530.5" cy="300.6" r="1.9" fill="#b873d2"/>
<circle cx="586.5" cy="282.8" r="1.9" fill="#9481db"/>
<circle cx="615.9" cy="284.7" r="1.9" fill="#d268b9"/>
<circle cx="591.6" cy="291.3" r="1.9" fill="#c97b4c"/>
<circle cx="375.1" cy="298.8" r="1.9" fill="#949300"/>
<circle cx="451.7" cy="341.6" r="1.9" fill="#d168bb"/>
<circle cx="476.2" cy="333.9" r="1.9" fill="#00a880"/>
<circle cx="548.3" cy="310.3" r="1.9" fill="#d86c83"/>
<circle cx="586.5" cy="294.4" r="1.9" fill="#00a89a"/>
<circle cx="608.4" cy="300.8" r="1.9" fill="#00a775"/>
<circle cx="637.0" cy="294.1" r="1.9" fill="#5790d9"/>
<circle cx="367.5" cy="352.7" r="1.9" fill="#aa8c00"/>
<circle cx="312.2" cy="364.4" r="1.9" fill="#b574d3"/>
<circle cx="395.7" cy="312.6" r="1.9" fill="#37a243"/>
<circle cx="458.6" cy="335.8" r="1.9" fill="#b58701"/>
<circle cx="493.6" cy="302.6" r="1.9" fill="#cc7856"/>
<circle cx="203.7" cy="362.1" r="1.9" fill="#d96b8c"/>
<circle cx="546.9" cy="318.7" r="1.9" fill="#00a4b5"/>
<circle cx="561.9" cy="304.4" r="1.9" fill="#9b7eda"/>
<circle cx="588.5" cy="298.0" r="1.9" fill="#0b97d3"/>
<circle cx="405.5" cy="344.8" r="1.9" fill="#6f9c00"/>
<circle cx="434.7" cy="344.5" r="1.9" fill="#009bce"/>
<circle cx="452.1" cy="309.4" r="1.9" fill="#00a66a"/>
<circle cx="325.9" cy="340.4" r="1.9" fill="#d47172"/>
<circle cx="313.1" cy="350.9" r="1.9" fill="#cf765d"/>
<circle cx="164.0" cy="355.6" r="1.9" fill="#a18f00"/>
<circle cx="222.5" cy="352.6" r="1.9" fill="#7b9900"/>
<circle cx="268.0" cy="332.7" r="1.9" fill="#30a246"/>
<circle cx="495.3" cy="333.9" r="1.9" fill="#609e21"/>
<circle cx="527.4" cy="329.8" r="1.9" fill="#00a88b"/>
<circle cx="560.0" cy="317.8" r="1.9" fill="#be70cf"/>
<circle cx="585.6" cy="326.2" r="1.9" fill="#c18035"/>
<circle cx="587.8" cy="324.6" r="1.9" fill="#00a7a1"/>
<circle cx="414.0" cy="353.3" r="1.9" fill="#ae77d6"/>
<circle cx="348.3" cy="349.6" r="1.9" fill="#009fc7"/>
<circle cx="458.6" cy="347.6" r="1.9" fill="#00a4b7"/>
<circle cx="317.1" cy="362.2" r="1.9" fill="#a88c00"/>
<circle cx="222.7" cy="360.9" r="1.9" fill="#00a5b1"/>
<circle cx="464.4" cy="344.8" r="1.9" fill="#ab78d7"/>
<circle cx="508.5" cy="328.2" r="1.9" fill="#cf69bf"/>
<circle cx="532.6" cy="343.0" r="1.9" fill="#d867a3"/>
<circle cx="561.7" cy="334.7" r="1.9" fill="#af8900"/>
<circle cx="207.1" cy="352.7" r="1.9" fill="#009dcb"/>
<circle cx="593.7" cy="344.9" r="1.9" fill="#00a6ac"/>
<circle cx="633.5" cy="341.0" r="1.9" fill="#589f2b"/>
<circle cx="357.7" cy="342.2" r="1.9" fill="#00a561"/>
<circle cx="407.3" cy="351.1" r="1.9" fill="#00a79c"/>
<circle cx="419.3" cy="347.0" r="1.9" fill="#7c88db"/>
<circle cx="248.1" cy="352.2" r="1.9" fill="#5c9f26"/>
<circle cx="547.0" cy="341.2" r="1.9" fill="#d96994"/>
<circle cx="437.7" cy="347.0" r="1.9" fill="#6b9c0b"/>
<circle cx="486.2" cy="340.7" r="1.9" fill="#cb7953"/>
<circle cx="495.6" cy="343.5" r="1.9" fill="#27a34a"/>
<circle cx="194.5" cy="349.8" r="1.9" fill="#ac8b00"/>
<circle cx="285.0" cy="356.6" r="1.9" fill="#0099d1"/>
<circle cx="585.4" cy="351.3" r="1.9" fill="#c77c44"/>
<circle cx="609.4" cy="348.7" r="1.9" fill="#bb8322"/>
<circle cx="315.3" cy="366.5" r="1.9" fill="#759b00"/>
<circle cx="380.3" cy="374.4" r="1.9" fill="#09a451"/>
<circle cx="249.5" cy="363.5" r="1.9" fill="#00a5b3"/>
<circle cx="459.1" cy="367.7" r="1.9" fill="#cb6ac4"/>
<circle cx="507.3" cy="352.5" r="1.9" fill="#c37f39"/>
<circle cx="529.0" cy="364.2" r="1.9" fill="#4a92d7"/>
<circle cx="425.0" cy="369.6" r="1.9" fill="#879700"/>
<circle cx="171.9" cy="368.5" r="1.9" fill="#cc6ac2"/>
<circle cx="226.2" cy="373.7" r="1.9" fill="#00a6a8"/>
<circle cx="263.6" cy="367.6" r="1.9" fill="#d767ac"/>
<circle cx="357.9" cy="355.3" r="1.9" fill="#009ccd"/>
<circle cx="389.1" cy="370.6" r="1.9" fill="#be822c"/>
<circle cx="545.9" cy="358.4" r="1.9" fill="#00a55e"/>
<circle cx="584.2" cy="365.1" r="1.9" fill="#009ec8"/>
<circle cx="639.2" cy="360.7" r="1.9" fill="#987fdb"/>
<circle cx="457.1" cy="366.4" r="1.9" fill="#d667ae"/>
<circle cx="424.9" cy="367.7" r="1.9" fill="#8586db"/>
<circle cx="473.1" cy="384.3" r="1.9" fill="#c87c48"/>
<circle cx="303.7" cy="378.9" r="1.9" fill="#c47e3d"/>
<circle cx="266.8" cy="372.8" r="1.9" fill="#ba72d1"/>
<circle cx="144.5" cy="373.2" r="1.9" fill="#9f9000"/>
<circle cx="501.8" cy="377.6" r="1.9" fill="#729b00"/>
<circle cx="214.3" cy="379.9" r="1.9" fill="#00a667"/>
<circle cx="352.2" cy="383.3" r="1.9" fill="#d567b0"/>
<circle cx="404.1" cy="368.0" r="1.9" fill="#b88515"/>
<circle cx="523.1" cy="387.5" r="1.9" fill="#5191d8"/>
<circle cx="559.7" cy="381.4" r="1.9" fill="#d86c86"/>
<circle cx="619.4" cy="389.0" r="1.9" fill="#819800"/>
<circle cx="279.8" cy="386.6" r="1.9" fill="#969200"/>
<circle cx="441.9" cy="386.2" r="1.9" fill="#d9689b"/>
<circle cx="342.5" cy="393.1" r="1.9" fill="#00a895"/>
<circle cx="176.6" cy="388.2" r="1.9" fill="#00a664"/>
<circle cx="226.6" cy="380.7" r="1.9" fill="#4ea033"/>
<circle cx="600.8" cy="381.8" r="1.9" fill="#8a9600"/>
<circle cx="647.2" cy="386.8" r="1.9" fill="#c46dca"/>
<circle cx="401.5" cy="390.7" r="1.9" fill="#00a778"/>
<circle cx="437.7" cy="394.4" r="1.9" fill="#00a55a"/>
<circle cx="472.8" cy="388.2" r="1.9" fill="#b6860c"/>
<circle cx="482.7" cy="392.9" r="1.9" fill="#00a893"/>
<circle cx="503.7" cy="384.7" r="1.9" fill="#9f7dda"/>
<circle cx="282.1" cy="389.7" r="1.9" fill="#d767aa"/>
<circle cx="561.2" cy="382.5" r="1.9" fill="#c66cc9"/>
<circle cx="305.8" cy="396.9" r="1.9" fill="#00a79f"/>
<circle cx="182.3" cy="394.6" r="1.9" fill="#ad8a00"/>
<circle cx="238.3" cy="391.9" r="1.9" fill="#bd8227"/>
<circle cx="589.0" cy="388.1" r="1.9" fill="#c26ecc"/>
<circle cx="389.9" cy="399.1" r="1.9" fill="#2196d4"/>
<circle cx="417.7" cy="390.2" r="1.9" fill="#d66f78"/>
<circle cx="479.4" cy="397.3" r="1.9" fill="#698dda"/>
<circle cx="434.3" cy="397.7" r="1.9" fill="#b38800"/>
<circle cx="547.6" cy="390.3" r="1.9" fill="#9182db"/>
<circle cx="273.1" cy="397.1" r="1.9" fill="#a68d00"/>
<circle cx="454.9" cy="397.5" r="1.9" fill="#8f9500"/>
<circle cx="351.3" cy="399.5" r="1.9" fill="#00a770"/>
<circle cx="504.4" cy="394.7" r="1.9" fill="#919400"/>
<circle cx="306.0" cy="399.9" r="1.9" fill="#8c9500"/>
<circle cx="647.2" cy="388.4" r="1.9" fill="#00a88e"/>
<circle cx="164.2" cy="386.3" r="1.9" fill="#00a4b9"/>
<circle cx="221.6" cy="393.5" r="1.9" fill="#c16fcd"/>
<circle cx="407.1" cy="397.1" r="1.9" fill="#00a0c4"/>
<circle cx="587.1" cy="391.4" r="1.9" fill="#b18800"/>
<circle cx="257.0" cy="398.1" r="1.9" fill="#00a66d"/>
<circle cx="502.7" cy="391.9" r="1.9" fill="#4293d7"/>
<circle cx="515.0" cy="383.8" r="1.9" fill="#a879d8"/>
<circle cx="546.8" cy="386.1" r="1.9" fill="#bc71d0"/>
<circle cx="456.5" cy="394.8" r="1.9" fill="#00a1c2"/>
<circle cx="488.0" cy="400.7" r="1.9" fill="#d27369"/>
<circle cx="265.3" cy="399.1" r="1.9" fill="#c86cc7"/>
<circle cx="359.6" cy="407.7" r="1.9" fill="#d76e7e"/>
<circle cx="355.1" cy="403.9" r="1.9" fill="#00a898"/>
<circle cx="425.4" cy="402.1" r="1.9" fill="#00a77b"/>
<circle cx="376.7" cy="401.0" r="1.9" fill="#00a3bd"/>
<circle cx="597.9" cy="391.1" r="1.9" fill="#a27cd9"/>
<circle cx="502.1" cy="394.5" r="1.9" fill="#d07563"/>
<circle cx="548.4" cy="383.8" r="1.9" fill="#00a772"/>
<circle cx="468.8" cy="401.2" r="1.9" fill="#d867a7"/>
<circle cx="248.0" cy="395.5" r="1.9" fill="#d4716f"/>
<circle cx="315.8" cy="411.7" r="1.9" fill="#00a2be"/>
<circle cx="334.3" cy="403.2" r="1.9" fill="#3994d6"/>
<circle cx="407.5" cy="403.5" r="1.9" fill="#009acf"/>
<circle cx="446.6" cy="392.6" r="1.9" fill="#989200"/>
<circle cx="367.1" cy="404.4" r="1.9" fill="#d96899"/>
<circle cx="629.2" cy="393.3" r="1.9" fill="#d567b3"/>
<circle cx="487.9" cy="405.7" r="1.9" fill="#738adb"/>
<circle cx="501.7" cy="403.3" r="1.9" fill="#ce7759"/>
<circle cx="282.7" cy="405.5" r="1.9" fill="#7789db"/>
<circle cx="327.6" cy="412.5" r="1.9" fill="#ba841c"/>
<circle cx="363.0" cy="414.4" r="1.9" fill="#649d1b"/>
<circle cx="452.5" cy="407.1" r="1.9" fill="#49a138"/>
<circle cx="405.1" cy="408.0" r="1.9" fill="#d66f7b"/>
<circle cx="372.2" cy="405.1" r="1.9" fill="#7e9900"/>
<circle cx="474.1" cy="403.5" r="1.9" fill="#9b9100"/>
<circle cx="543.0" cy="394.9" r="1.9" fill="#8984db"/>
<circle cx="329.9" cy="398.1" r="1.9" fill="#638eda"/>
<circle cx="361.4" cy="401.0" r="1.9" fill="#b076d5"/>
<circle cx="424.7" cy="397.0" r="1.9" fill="#d867a5"/>
<circle cx="460.7" cy="406.6" r="1.9" fill="#8087db"/>
<text x="441.8" y="70.8" font-size="8.7" fill="#d967a0">Tunisia</text>
<text x="507.6" y="74.2" font-size="8.7" fill="#ce69c0">Spain</text>
<text x="560.0" y="79.2" font-size="8.7" fill="#00a457">Greenland</text>
<text x="520.8" y="94.3" font-size="8.7" fill="#00a454">Greece</text>
<text x="556.5" y="101.8" font-size="8.7" fill="#d86b89">United States of America</text>
<text x="504.4" y="117.5" font-size="8.7" fill="#8d83db">Portugal</text>
<text x="399.8" y="141.9" font-size="8.7" fill="#6e8cdb">Palestine</text>
<text x="483.9" y="163.1" font-size="8.7" fill="#00a7a3">Lebanon</text>
<text x="476.0" y="175.4" font-size="8.7" fill="#d9689e">Türkiye</text>
<text x="603.4" y="178.0" font-size="8.7" fill="#b375d4">San Marino</text>
<text x="600.0" y="192.3" font-size="8.7" fill="#00a883">Ireland</text>
<text x="565.4" y="204.6" font-size="8.7" fill="#cf7660">Andorra</text>
<text x="634.9" y="201.4" font-size="8.7" fill="#00a0c5">Monaco</text>
<text x="389.8" y="212.8" font-size="8.7" fill="#d467b5">Syrian Arab Republic</text>
<text x="600.0" y="216.7" font-size="8.7" fill="#44a13b">Finland</text>
<text x="487.6" y="220.6" font-size="8.7" fill="#c57d41">Bahrain</text>
<text x="537.3" y="221.7" font-size="8.7" fill="#00a886">Israel</text>
<text x="510.8" y="234.5" font-size="8.7" fill="#9d9000">Chile</text>
<text x="584.4" y="228.8" font-size="8.7" fill="#3ea13f">France</text>
<text x="621.0" y="228.8" font-size="8.7" fill="#0098d2">Netherlands</text>
<text x="543.9" y="240.9" font-size="8.7" fill="#ca7a4f">Australia</text>
<text x="589.6" y="240.9" font-size="8.7" fill="#d96a8e">United Kingdom</text>
<text x="662.8" y="240.9" font-size="8.7" fill="#1ca34d">Germany</text>
<text x="476.3" y="239.5" font-size="8.7" fill="#00a6aa">Libya</text>
<text x="199.9" y="241.8" font-size="8.7" fill="#d3726c">Afghanistan</text>
<text x="314.0" y="246.7" font-size="8.7" fill="#00a7a6">Lesotho</text>
<text x="351.1" y="233.7" font-size="8.7" fill="#009dca">Morocco</text>
<text x="356.4" y="269.6" font-size="8.7" fill="#d068bd">Sudan</text>
<text x="240.1" y="289.3" font-size="8.7" fill="#d96996">Uganda</text>
<text x="293.9" y="287.7" font-size="8.7" fill="#d57075">Yemen</text>
<text x="267.7" y="301.0" font-size="8.7" fill="#a57bd8">Rwanda</text>
<text x="535.3" y="254.2" font-size="8.7" fill="#00a888">Italy</text>
<text x="569.0" y="254.2" font-size="8.7" fill="#c08130">Belgium</text>
<text x="636.7" y="252.7" font-size="8.7" fill="#789a00">Denmark</text>
<text x="465.0" y="254.2" font-size="8.7" fill="#00a890">Jordan</text>
<text x="504.9" y="259.7" font-size="8.7" fill="#5d8fd9">Oman</text>
<text x="547.8" y="266.0" font-size="8.7" fill="#849700">Cyprus</text>
<text x="611.2" y="265.2" font-size="8.7" fill="#00a6af">Luxembourg</text>
<text x="459.6" y="268.5" font-size="8.7" fill="#00a1c0">Mauritius</text>
<text x="511.6" y="272.5" font-size="8.7" fill="#00a3bb">Malta</text>
<text x="389.0" y="271.4" font-size="8.7" fill="#679d14">Egypt</text>
<text x="419.5" y="275.0" font-size="8.7" fill="#d17466">Algeria</text>
<text x="539.7" y="278.5" font-size="8.7" fill="#d96a91">United Arab Emirates</text>
<text x="615.1" y="278.8" font-size="8.7" fill="#a48e00">Canada</text>
<text x="653.4" y="278.5" font-size="8.7" fill="#d367b7">Switzerland</text>
<text x="371.1" y="283.5" font-size="8.7" fill="#53a02f">Eswatini</text>
<text x="446.6" y="284.8" font-size="8.7" fill="#00a77e">Iran (Islamic Republic of)</text>
<text x="508.0" y="285.5" font-size="8.7" fill="#b873d2">Saudi Arabia</text>
<text x="565.0" y="291.0" font-size="8.7" fill="#9481db">Qatar</text>
<text x="641.3" y="291.0" font-size="8.7" fill="#d268b9">Sweden</text>
<text x="596.3" y="294.4" font-size="8.7" fill="#c97b4c">Austria</text>
<text x="354.0" y="295.3" font-size="8.7" fill="#949300">Congo</text>
<text x="411.5" y="295.0" font-size="8.7" fill="#d168bb">Suriname</text>
<text x="458.9" y="296.1" font-size="8.7" fill="#00a880">Iraq</text>
<text x="494.7" y="298.0" font-size="8.7" fill="#d86c83">Uruguay</text>
<text x="536.1" y="302.7" font-size="8.7" fill="#00a89a">Kuwait</text>
<text x="635.4" y="303.5" font-size="8.7" fill="#00a775">Iceland</text>
<text x="671.0" y="303.5" font-size="8.7" fill="#5790d9">Norway</text>
<text x="324.9" y="308.0" font-size="8.7" fill="#aa8c00">Cabo Verde</text>
<text x="258.9" y="310.2" font-size="8.7" fill="#b574d3">Sao Tome and Principe</text>
<text x="381.9" y="307.4" font-size="8.7" fill="#37a243">Gabon</text>
<text x="413.8" y="307.4" font-size="8.7" fill="#b58701">Botswana</text>
<text x="458.9" y="309.4" font-size="8.7" fill="#cc7856">Argentina</text>
<text x="158.5" y="312.2" font-size="8.7" fill="#d96b8c">United Republic of Tanzania</text>
<text x="506.1" y="315.7" font-size="8.7" fill="#00a4b5">Malaysia</text>
<text x="541.6" y="315.7" font-size="8.7" fill="#9b7eda">Republic of Moldova</text>
<text x="605.7" y="315.7" font-size="8.7" fill="#0b97d3">New Zealand</text>
<text x="333.8" y="319.7" font-size="8.7" fill="#6f9c00">Dominican Republic</text>
<text x="398.1" y="319.7" font-size="8.7" fill="#009bce">Namibia</text>
<text x="434.7" y="320.0" font-size="8.7" fill="#00a66a">Guyana</text>
<text x="310.2" y="321.7" font-size="8.7" fill="#d47172">Zambia</text>
<text x="272.2" y="321.9" font-size="8.7" fill="#cf765d">Angola</text>
<text x="88.7" y="325.3" font-size="8.7" fill="#a18f00">Central African Republic</text>
<text x="122.3" y="324.9" font-size="8.7" fill="#7b9900">Democratic Republic of the Congo</text>
<text x="235.1" y="324.9" font-size="8.7" fill="#30a246">Gambia</text>
<text x="442.0" y="326.8" font-size="8.7" fill="#609e21">Equatorial Guinea</text>
<text x="500.4" y="326.8" font-size="8.7" fill="#00a88b">Jamaica</text>
<text x="535.3" y="327.7" font-size="8.7" fill="#be70cf">Seychelles</text>
<text x="583.0" y="327.7" font-size="8.7" fill="#c18035">Belarus</text>
<text x="620.5" y="330.8" font-size="8.7" fill="#00a7a1">Latvia</text>
<text x="326.7" y="331.3" font-size="8.7" fill="#ae77d6">Saint Vincent and the Grenadines</text>
<text x="337.9" y="332.0" font-size="8.7" fill="#009fc7">Mongolia</text>
<text x="409.7" y="332.0" font-size="8.7" fill="#00a4b7">Maldives</text>
<text x="283.2" y="334.0" font-size="8.7" fill="#a88c00">Cambodia</text>
<text x="216.6" y="336.5" font-size="8.7" fill="#00a5b1">Madagascar</text>
<text x="440.1" y="339.2" font-size="8.7" fill="#ab78d7">Saint Lucia</text>
<text x="474.8" y="339.2" font-size="8.7" fill="#cf69bf">Sri Lanka</text>
<text x="502.2" y="339.2" font-size="8.7" fill="#d867a3">Trinidad and Tobago</text>
<text x="561.9" y="339.4" font-size="8.7" fill="#af8900">Bulgaria</text>
<text x="153.0" y="341.3" font-size="8.7" fill="#009dcb">Mozambique</text>
<text x="596.3" y="342.9" font-size="8.7" fill="#00a6ac">Lithuania</text>
<text x="640.1" y="343.8" font-size="8.7" fill="#589f2b">Estonia</text>
<text x="310.8" y="344.3" font-size="8.7" fill="#00a561">Guatemala</text>
<text x="359.5" y="344.3" font-size="8.7" fill="#00a79c">Kyrgyzstan</text>
<text x="392.6" y="344.3" font-size="8.7" fill="#7c88db">Paraguay</text>
<text x="211.6" y="349.1" font-size="8.7" fill="#5c9f26">Eritrea</text>
<text x="545.5" y="351.7" font-size="8.7" fill="#d96994">Ukraine</text>
<text x="440.1" y="351.5" font-size="8.7" fill="#6b9c0b">Ecuador</text>
<text x="476.6" y="351.5" font-size="8.7" fill="#cb7953">Armenia</text>
<text x="506.8" y="352.6" font-size="8.7" fill="#27a34a">Georgia</text>
<text x="153.7" y="353.2" font-size="8.7" fill="#ac8b00">Burundi</text>
<text x="262.7" y="352.9" font-size="8.7" fill="#0099d1">Nepal</text>
<text x="589.3" y="354.9" font-size="8.7" fill="#c77c44">Bahamas</text>
<text x="633.5" y="355.6" font-size="8.7" fill="#bb8322">Bermuda</text>
<text x="295.7" y="355.9" font-size="8.7" fill="#759b00">Djibouti</text>
<text x="350.9" y="355.9" font-size="8.7" fill="#09a451">Ghana</text>
<text x="216.6" y="361.4" font-size="8.7" fill="#00a5b3">Malawi</text>
<text x="448.8" y="363.3" font-size="8.7" fill="#cb6ac4">South Africa</text>
<text x="504.7" y="364.8" font-size="8.7" fill="#c37f39">Barbados</text>
<text x="521.3" y="365.8" font-size="8.7" fill="#4a92d7">North Macedonia</text>
<text x="419.0" y="365.7" font-size="8.7" fill="#879700">Cuba</text>
<text x="114.3" y="365.9" font-size="8.7" fill="#cc6ac2">South Sudan</text>
<text x="182.4" y="366.6" font-size="8.7" fill="#00a6a8">Liberia</text>
<text x="251.5" y="365.9" font-size="8.7" fill="#d767ac">Timor-Leste</text>
<text x="327.6" y="367.6" font-size="8.7" fill="#009ccd">Myanmar</text>
<text x="379.6" y="367.6" font-size="8.7" fill="#be822c">Belize</text>
<text x="577.6" y="368.1" font-size="8.7" fill="#00a55e">Guam</text>
<text x="607.6" y="368.1" font-size="8.7" fill="#009ec8">Montenegro</text>
<text x="651.0" y="368.1" font-size="8.7" fill="#987fdb">Republic of Korea</text>
<text x="454.3" y="375.7" font-size="8.7" fill="#d667ae">Thailand</text>
<text x="407.5" y="377.0" font-size="8.7" fill="#8586db">Philippines</text>
<text x="467.5" y="376.6" font-size="8.7" fill="#c87c48">Azerbaijan</text>
<text x="292.1" y="377.1" font-size="8.7" fill="#c47e3d">Bangladesh</text>
<text x="229.0" y="377.8" font-size="8.7" fill="#ba72d1">Senegal</text>
<text x="118.8" y="378.2" font-size="8.7" fill="#9f9000">Chad</text>
<text x="490.3" y="378.4" font-size="8.7" fill="#729b00">Dominica</text>
<text x="146.2" y="379.2" font-size="8.7" fill="#00a667">Guinea-Bissau</text>
<text x="344.7" y="379.9" font-size="8.7" fill="#d567b0">Tajikistan</text>
<text x="337.2" y="380.5" font-size="8.7" fill="#b88515">Bolivia (Plurinational State of)</text>
<text x="495.0" y="380.5" font-size="8.7" fill="#5191d8">Northern Mariana Islands</text>
<text x="538.5" y="380.3" font-size="8.7" fill="#d86c86">United States Virgin Islands</text>
<text x="658.9" y="380.3" font-size="8.7" fill="#819800">Czechia</text>
<text x="267.5" y="383.3" font-size="8.7" fill="#969200">Comoros</text>
<text x="437.5" y="389.5" font-size="8.7" fill="#d9689b">Turkmenistan</text>
<text x="323.5" y="390.8" font-size="8.7" fill="#00a895">Kenya</text>
<text x="143.4" y="391.3" font-size="8.7" fill="#00a664">Guinea</text>
<text x="192.4" y="391.2" font-size="8.7" fill="#4ea033">Ethiopia</text>
<text x="622.9" y="391.6" font-size="8.7" fill="#8a9600">Croatia</text>
<text x="680.0" y="392.4" font-size="8.7" fill="#c46dca">Slovakia</text>
<text x="373.0" y="391.5" font-size="8.7" fill="#00a778">India</text>
<text x="414.6" y="392.5" font-size="8.7" fill="#00a55a">Grenada</text>
<text x="439.2" y="392.2" font-size="8.7" fill="#b6860c">Bosnia and Herzegovina</text>
<text x="484.9" y="392.1" font-size="8.7" fill="#00a893">Kazakhstan</text>
<text x="536.9" y="393.2" font-size="8.7" fill="#9f7dda">Romania</text>
<text x="241.5" y="394.2" font-size="8.7" fill="#d767aa">Togo</text>
<text x="564.7" y="394.7" font-size="8.7" fill="#c66cc9">Slovenia</text>
<text x="222.8" y="397.2" font-size="8.7" fill="#00a79f">Lao People's Democratic Republic</text>
<text x="107.7" y="402.5" font-size="8.7" fill="#ad8a00">Burkina Faso</text>
<text x="172.8" y="402.5" font-size="8.7" fill="#bd8227">Benin</text>
<text x="632.3" y="404.1" font-size="8.7" fill="#c26ecc">Singapore</text>
<text x="343.8" y="404.4" font-size="8.7" fill="#2196d4">Nicaragua</text>
<text x="389.6" y="404.4" font-size="8.7" fill="#d66f78">Viet Nam</text>
<text x="508.0" y="406.3" font-size="8.7" fill="#698dda">Palau</text>
<text x="430.3" y="406.9" font-size="8.7" fill="#b38800">Brazil</text>
<text x="575.7" y="407.2" font-size="8.7" fill="#9182db">Puerto Rico</text>
<text x="202.5" y="407.4" font-size="8.7" fill="#a68d00">Cameroon</text>
<text x="457.8" y="408.2" font-size="8.7" fill="#8f9500">Costa Rica</text>
<text x="309.8" y="408.4" font-size="8.7" fill="#00a770">Honduras</text>
<text x="536.9" y="408.8" font-size="8.7" fill="#919400">Cook Islands</text>
<text x="234.5" y="409.2" font-size="8.7" fill="#8c9500">Côte d'Ivoire</text>
<text x="682.0" y="414.7" font-size="8.7" fill="#00a88e">Japan</text>
<text x="109.4" y="415.2" font-size="8.7" fill="#00a4b9">Mali</text>
<text x="131.6" y="415.2" font-size="8.7" fill="#c16fcd">Sierra Leone</text>
<text x="313.8" y="415.5" font-size="8.7" fill="#00a0c4">Micronesia (Federated States of)</text>
<text x="599.4" y="416.6" font-size="8.7" fill="#b18800">Brunei Darussalam</text>
<text x="189.7" y="419.6" font-size="8.7" fill="#00a66d">Haiti</text>
<text x="515.0" y="419.7" font-size="8.7" fill="#4293d7">Niue</text>
<text x="518.9" y="420.5" font-size="8.7" fill="#a879d8">Saint Kitts and Nevis</text>
<text x="584.6" y="420.5" font-size="8.7" fill="#bc71d0">Serbia</text>
<text x="447.7" y="420.9" font-size="8.7" fill="#00a1c2">Mexico</text>
<text x="482.1" y="420.9" font-size="8.7" fill="#d27369">Albania</text>
<text x="207.2" y="421.2" font-size="8.7" fill="#c86cc7">Solomon Islands</text>
<text x="278.3" y="422.2" font-size="8.7" fill="#d76e7e">Vanuatu</text>
<text x="319.0" y="424.0" font-size="8.7" fill="#00a898">Kiribati</text>
<text x="405.4" y="425.9" font-size="8.7" fill="#00a77b">Indonesia</text>
<text x="330.0" y="427.2" font-size="8.7" fill="#00a3bd">Marshall Islands</text>
<text x="617.0" y="428.3" font-size="8.7" fill="#a27cd9">Russian Federation</text>
<text x="494.7" y="433.0" font-size="8.7" fill="#d07563">American Samoa</text>
<text x="569.7" y="433.0" font-size="8.7" fill="#00a772">Hungary</text>
<text x="464.9" y="433.1" font-size="8.7" fill="#d867a7">Tokelau</text>
<text x="191.5" y="433.4" font-size="8.7" fill="#d4716f">Zimbabwe</text>
<text x="245.0" y="434.7" font-size="8.7" fill="#00a2be">Mauritania</text>
<text x="291.0" y="435.2" font-size="8.7" fill="#3994d6">Nigeria</text>
<text x="396.4" y="438.1" font-size="8.7" fill="#009acf">Nauru</text>
<text x="427.6" y="438.8" font-size="8.7" fill="#989200">Colombia</text>
<text x="333.0" y="439.0" font-size="8.7" fill="#d96899">Tuvalu</text>
<text x="601.0" y="444.8" font-size="8.7" fill="#d567b3">Taiwan (Province of China)</text>
<text x="493.1" y="445.1" font-size="8.7" fill="#738adb">Panama</text>
<text x="507.2" y="445.1" font-size="8.7" fill="#ce7759">Antigua and Barbuda</text>
<text x="184.5" y="446.4" font-size="8.7" fill="#7789db">Papua New Guinea</text>
<text x="265.0" y="447.2" font-size="8.7" fill="#ba841c">Bhutan</text>
<text x="293.0" y="447.5" font-size="8.7" fill="#649d1b">El Salvador</text>
<text x="473.5" y="447.4" font-size="8.7" fill="#49a138">Fiji</text>
<text x="330.9" y="451.0" font-size="8.7" fill="#d66f7b">Venezuela (Bolivarian Republic of)</text>
<text x="289.0" y="452.4" font-size="8.7" fill="#7e9900">Democratic People's Republic of Korea</text>
<text x="492.3" y="458.0" font-size="8.7" fill="#9b9100">China</text>
<text x="566.1" y="456.5" font-size="8.7" fill="#8984db">Poland</text>
<text x="278.5" y="459.5" font-size="8.7" fill="#638eda">Pakistan</text>
<text x="320.0" y="462.7" font-size="8.7" fill="#b076d5">Samoa</text>
<text x="409.7" y="462.5" font-size="8.7" fill="#d867a5">Tonga</text>
<text x="454.9" y="462.5" font-size="8.7" fill="#8087db">Peru</text>
<polygon points="144.7,822.0 149.6,825.3 156.2,829.9 164.1,835.4 172.8,841.4 182.0,847.5 191.2,853.2 200.1,858.2 208.2,862.0 215.8,864.6 223.2,866.6 230.5,867.9 237.8,868.8 245.0,869.4 252.3,869.8 259.5,870.3 266.8,870.9 274.1,871.6 281.4,872.2 288.8,872.6 296.1,873.0 303.4,873.3 310.7,873.6 318.1,873.7 325.4,873.8 332.9,873.8 340.6,873.8 348.4,873.7 356.1,873.6 363.7,873.3 370.9,872.9 377.8,872.4 384.0,871.8 389.6,871.0 394.5,869.9 399.0,868.7 403.2,867.4 407.3,866.0 411.3,864.7 415.5,863.4 420.0,862.2 424.7,861.2 429.6,860.2 434.4,859.2 439.4,858.3 444.3,857.4 449.3,856.4 454.2,855.5 459.1,854.4 464.0,853.3 468.9,852.1 473.8,851.0 478.7,849.7 483.5,848.5 488.4,847.2 493.3,845.9 498.2,844.6 503.1,843.3 508.0,842.1 512.9,840.9 517.8,839.6 522.6,838.2 527.5,836.7 532.4,834.9 537.3,832.9 542.3,830.5 547.5,827.7 552.8,824.7 558.0,821.5 563.1,818.3 567.9,815.1 572.4,812.1 576.3,809.4 579.7,806.9 582.6,804.6 585.1,802.4 587.3,800.3 589.4,798.2 591.5,796.1 593.6,794.1 595.9,791.9 598.3,789.7 600.8,787.6 603.2,785.6 605.6,783.5 608.1,781.3 610.5,779.1 613.0,776.8 615.4,774.3 617.9,771.7 620.4,769.0 623.0,766.2 625.5,763.3 628.1,760.3 630.5,757.2 632.8,754.1 635.0,750.8 637.1,747.2 639.2,743.2 641.3,738.9 643.2,734.7 645.0,730.6 646.6,726.9 648.0,723.8 649.0,721.5 649.0,821.1 648.0,820.2 646.6,818.9 645.0,817.3 643.2,815.7 641.3,814.0 639.2,812.5 637.1,811.3 635.0,810.5 632.8,810.2 630.5,810.1 628.1,810.2 625.5,810.6 623.0,811.1 620.4,811.7 617.9,812.5 615.4,813.3 613.0,814.3 610.5,815.5 608.1,816.9 605.6,818.4 603.2,819.9 600.8,821.4 598.3,822.9 595.9,824.3 593.6,825.5 591.5,826.6 589.4,827.6 587.3,828.6 585.1,829.7 582.6,830.9 579.7,832.4 576.3,834.2 572.4,836.4 567.9,839.0 563.1,841.7 558.0,844.6 552.8,847.6 547.5,850.6 542.3,853.5 537.3,856.2 532.4,858.9 527.5,861.5 522.6,864.1 517.8,866.7 512.9,869.2 508.0,871.6 503.1,873.8 498.2,875.9 493.3,877.7 488.4,879.2 483.5,880.6 478.7,881.9 473.8,883.2 468.9,884.5 464.0,886.0 459.1,887.6 454.2,889.4 449.3,891.5 444.3,893.7 439.4,895.9 434.4,898.1 429.6,900.2 424.7,902.1 420.0,903.7 415.5,905.1 411.3,906.2 407.3,907.2 403.2,908.1 399.0,908.9 394.5,909.6 389.6,910.3 384.0,911.0 377.8,911.7 370.9,912.3 363.7,912.8 356.1,913.3 348.4,913.7 340.6,914.1 332.9,914.5 325.4,914.8 318.1,915.0 310.7,915.2 303.4,915.3 296.1,915.4 288.8,915.5 281.4,915.5 274.1,915.6 266.8,915.7 259.5,915.6 252.3,915.3 245.0,914.9 237.8,914.5 230.5,914.4 223.2,914.6 215.8,915.4 208.2,916.8 200.1,919.2 191.2,922.6 182.0,926.7 172.8,931.1 164.1,935.4 156.2,939.5 149.6,942.8 144.7,945.2" fill="#999999" fill-opacity="0.4"/>
<polyline points="144.7,883.6 149.6,884.1 156.2,884.7 164.1,885.4 172.8,886.3 182.0,887.1 191.2,887.9 200.1,888.7 208.2,889.4 215.8,890.0 223.2,890.6 230.5,891.1 237.8,891.6 245.0,892.1 252.3,892.6 259.5,893.0 266.8,893.3 274.1,893.6 281.4,893.8 288.8,894.1 296.1,894.2 303.4,894.3 310.7,894.4 318.1,894.4 325.4,894.3 332.8,894.2 340.3,894.0 347.9,893.8 355.5,893.6 362.9,893.2 370.2,892.8 377.3,892.2 384.0,891.4 390.6,890.4 397.2,889.1 403.8,887.7 410.1,886.1 416.0,884.6 421.4,883.1 426.1,881.7 430.0,880.6 432.7,879.8 434.2,879.1 434.9,878.6 435.2,878.2 435.4,877.8 435.9,877.3 437.1,876.7 439.5,875.9 443.0,874.9 447.2,873.9 452.0,872.7 457.2,871.4 462.6,870.1 468.1,868.8 473.5,867.5 478.6,866.1 483.5,864.8 488.4,863.5 493.3,862.2 498.2,860.9 503.0,859.4 507.9,857.9 512.8,856.3 517.7,854.4 522.7,852.3 527.7,850.1 532.8,847.6 537.9,845.1 542.9,842.5 547.7,839.9 552.4,837.3 556.8,834.8 560.9,832.4 564.8,830.0 568.5,827.6 572.1,825.2 575.5,822.8 579.0,820.3 582.5,817.8 586.1,815.3 589.7,812.7 593.3,810.1 596.9,807.4 600.5,804.7 604.1,802.0 607.8,799.3 611.5,796.5 615.4,793.8 619.6,790.9 624.3,787.7 629.2,784.4 634.0,781.2 638.7,778.1 642.9,775.4 646.4,773.0 649.0,771.3" fill="none" stroke="#56708f" stroke-width="1.8" stroke-linecap="round"/>
<line x1="595.9" y1="743.3" x2="604.1" y2="743.3" stroke="#44a13b" stroke-width="0.6" stroke-opacity="0.8"/>
<line x1="559.0" y1="753.1" x2="550.4" y2="753.1" stroke="#00a886" stroke-width="0.6" stroke-opacity="0.8"/>
<line x1="616.7" y1="758.3" x2="625.8" y2="758.0" stroke="#0098d2" stroke-width="0.6" stroke-opacity="0.8"/>
<line x1="297.5" y1="815.7" x2="302.9" y2="815.7" stroke="#d57075" stroke-width="0.6" stroke-opacity="0.8"/>
<line x1="276.2" y1="877.0" x2="276.2" y2="826.6" stroke="#cf765d" stroke-width="0.6" stroke-opacity="0.8"/>
<line x1="246.0" y1="867.3" x2="240.0" y2="835.8" stroke="#30a246" stroke-width="0.6" stroke-opacity="0.8"/>
<line x1="284.0" y1="886.4" x2="278.1" y2="838.7" stroke="#a57bd8" stroke-width="0.6" stroke-opacity="0.8"/>
<line x1="375.7" y1="868.8" x2="360.4" y2="835.3" stroke="#aa8c00" stroke-width="0.6" stroke-opacity="0.8"/>
<line x1="146.7" y1="864.6" x2="146.7" y2="847.7" stroke="#009dcb" stroke-width="0.6" stroke-opacity="0.8"/>
<line x1="181.4" y1="869.4" x2="181.4" y2="848.1" stroke="#7b9900" stroke-width="0.6" stroke-opacity="0.8"/>
<line x1="306.9" y1="876.7" x2="301.1" y2="850.4" stroke="#a88c00" stroke-width="0.6" stroke-opacity="0.8"/>
<line x1="343.6" y1="873.0" x2="335.5" y2="847.6" stroke="#d47172" stroke-width="0.6" stroke-opacity="0.8"/>
<line x1="381.7" y1="874.3" x2="381.7" y2="848.1" stroke="#7c88db" stroke-width="0.6" stroke-opacity="0.8"/>
<line x1="258.0" y1="883.4" x2="253.3" y2="857.8" stroke="#0099d1" stroke-width="0.6" stroke-opacity="0.8"/>
<line x1="157.4" y1="876.2" x2="157.4" y2="861.0" stroke="#a18f00" stroke-width="0.6" stroke-opacity="0.8"/>
<line x1="326.7" y1="890.4" x2="326.7" y2="860.3" stroke="#759b00" stroke-width="0.6" stroke-opacity="0.8"/>
<line x1="369.4" y1="879.1" x2="369.4" y2="858.9" stroke="#00a561" stroke-width="0.6" stroke-opacity="0.8"/>
<line x1="429.0" y1="877.7" x2="429.0" y2="861.0" stroke="#ae77d6" stroke-width="0.6" stroke-opacity="0.8"/>
<line x1="411.6" y1="798.4" x2="396.6" y2="794.5" stroke="#679d14" stroke-width="0.6" stroke-opacity="0.8"/>
<line x1="477.8" y1="800.4" x2="477.8" y2="792.7" stroke="#00a77e" stroke-width="0.6" stroke-opacity="0.8"/>
<line x1="506.5" y1="848.7" x2="506.5" y2="805.9" stroke="#d86c83" stroke-width="0.6" stroke-opacity="0.8"/>
<line x1="411.7" y1="865.9" x2="411.7" y2="818.5" stroke="#53a02f" stroke-width="0.6" stroke-opacity="0.8"/>
<line x1="431.2" y1="833.4" x2="431.2" y2="818.5" stroke="#d168bb" stroke-width="0.6" stroke-opacity="0.8"/>
<line x1="501.9" y1="841.4" x2="499.7" y2="819.5" stroke="#00a66a" stroke-width="0.6" stroke-opacity="0.8"/>
<line x1="431.9" y1="846.0" x2="428.3" y2="831.0" stroke="#37a243" stroke-width="0.6" stroke-opacity="0.8"/>
<line x1="533.0" y1="841.0" x2="521.3" y2="835.3" stroke="#cc7856" stroke-width="0.6" stroke-opacity="0.8"/>
<line x1="440.8" y1="856.8" x2="424.9" y2="845.1" stroke="#00a4b7" stroke-width="0.6" stroke-opacity="0.8"/>
<line x1="443.1" y1="867.3" x2="443.1" y2="844.3" stroke="#b58701" stroke-width="0.6" stroke-opacity="0.8"/>
<line x1="495.2" y1="854.1" x2="495.2" y2="848.2" stroke="#cf69bf" stroke-width="0.6" stroke-opacity="0.8"/>
<line x1="433.1" y1="876.4" x2="433.1" y2="856.8" stroke="#6b9c0b" stroke-width="0.6" stroke-opacity="0.8"/>
<line x1="343.9" y1="879.2" x2="343.9" y2="872.6" stroke="#009ccd" stroke-width="0.6" stroke-opacity="0.8"/>
<line x1="364.8" y1="889.1" x2="364.8" y2="874.0" stroke="#09a451" stroke-width="0.6" stroke-opacity="0.8"/>
<line x1="407.3" y1="880.0" x2="407.3" y2="873.3" stroke="#8586db" stroke-width="0.6" stroke-opacity="0.8"/>
<line x1="225.1" y1="873.5" x2="223.0" y2="864.6" stroke="#00a5b3" stroke-width="0.6" stroke-opacity="0.8"/>
<line x1="194.5" y1="870.3" x2="181.9" y2="870.3" stroke="#ac8b00" stroke-width="0.6" stroke-opacity="0.8"/>
<line x1="271.3" y1="879.0" x2="271.3" y2="869.1" stroke="#00a5b1" stroke-width="0.6" stroke-opacity="0.8"/>
<line x1="276.4" y1="890.2" x2="276.4" y2="873.0" stroke="#d96b8c" stroke-width="0.6" stroke-opacity="0.8"/>
<line x1="251.7" y1="886.8" x2="235.7" y2="877.6" stroke="#00a6a8" stroke-width="0.6" stroke-opacity="0.8"/>
<line x1="317.2" y1="892.8" x2="317.2" y2="884.5" stroke="#969200" stroke-width="0.6" stroke-opacity="0.8"/>
<line x1="424.2" y1="873.2" x2="424.2" y2="878.3" stroke="#879700" stroke-width="0.6" stroke-opacity="0.8"/>
<line x1="165.5" y1="889.5" x2="153.3" y2="889.0" stroke="#cc6ac2" stroke-width="0.6" stroke-opacity="0.8"/>
<line x1="201.9" y1="876.3" x2="201.9" y2="881.7" stroke="#00a667" stroke-width="0.6" stroke-opacity="0.8"/>
<line x1="256.5" y1="876.3" x2="256.5" y2="881.4" stroke="#d767ac" stroke-width="0.6" stroke-opacity="0.8"/>
<line x1="214.3" y1="902.2" x2="191.4" y2="902.2" stroke="#00a664" stroke-width="0.6" stroke-opacity="0.8"/>
<line x1="176.7" y1="911.2" x2="143.8" y2="911.2" stroke="#ad8a00" stroke-width="0.6" stroke-opacity="0.8"/>
<line x1="316.8" y1="920.6" x2="300.0" y2="920.5" stroke="#a68d00" stroke-width="0.6" stroke-opacity="0.8"/>
<line x1="230.3" y1="916.0" x2="192.5" y2="917.0" stroke="#c16fcd" stroke-width="0.6" stroke-opacity="0.8"/>
<line x1="248.6" y1="920.0" x2="219.5" y2="922.1" stroke="#d767aa" stroke-width="0.6" stroke-opacity="0.8"/>
<line x1="335.3" y1="926.2" x2="318.6" y2="926.2" stroke="#d4716f" stroke-width="0.6" stroke-opacity="0.8"/>
<line x1="212.4" y1="918.7" x2="191.8" y2="935.7" stroke="#00a66d" stroke-width="0.6" stroke-opacity="0.8"/>
<line x1="270.1" y1="920.1" x2="249.8" y2="936.4" stroke="#8c9500" stroke-width="0.6" stroke-opacity="0.8"/>
<line x1="304.0" y1="922.7" x2="298.4" y2="935.7" stroke="#00a2be" stroke-width="0.6" stroke-opacity="0.8"/>
<line x1="272.8" y1="919.6" x2="247.5" y2="948.7" stroke="#c86cc7" stroke-width="0.6" stroke-opacity="0.8"/>
<line x1="291.0" y1="932.9" x2="275.8" y2="948.5" stroke="#d76e7e" stroke-width="0.6" stroke-opacity="0.8"/>
<line x1="254.2" y1="934.2" x2="254.2" y2="961.1" stroke="#7789db" stroke-width="0.6" stroke-opacity="0.8"/>
<line x1="315.9" y1="930.2" x2="301.7" y2="960.4" stroke="#00a770" stroke-width="0.6" stroke-opacity="0.8"/>
<line x1="344.6" y1="942.3" x2="313.9" y2="972.7" stroke="#3994d6" stroke-width="0.6" stroke-opacity="0.8"/>
<line x1="353.4" y1="923.6" x2="321.6" y2="935.3" stroke="#ba841c" stroke-width="0.6" stroke-opacity="0.8"/>
<line x1="397.5" y1="927.2" x2="397.5" y2="934.6" stroke="#00a0c4" stroke-width="0.6" stroke-opacity="0.8"/>
<line x1="378.7" y1="927.4" x2="377.3" y2="934.0" stroke="#649d1b" stroke-width="0.6" stroke-opacity="0.8"/>
<line x1="446.1" y1="923.1" x2="446.1" y2="934.6" stroke="#b38800" stroke-width="0.6" stroke-opacity="0.8"/>
<line x1="452.3" y1="925.2" x2="465.4" y2="934.0" stroke="#d867a7" stroke-width="0.6" stroke-opacity="0.8"/>
<line x1="363.5" y1="926.8" x2="340.4" y2="947.6" stroke="#638eda" stroke-width="0.6" stroke-opacity="0.8"/>
<line x1="380.6" y1="923.6" x2="372.8" y2="946.3" stroke="#d96899" stroke-width="0.6" stroke-opacity="0.8"/>
<line x1="424.1" y1="912.4" x2="423.8" y2="946.7" stroke="#009acf" stroke-width="0.6" stroke-opacity="0.8"/>
<line x1="453.9" y1="924.5" x2="453.9" y2="946.3" stroke="#d76d81" stroke-width="0.6" stroke-opacity="0.8"/>
<line x1="356.7" y1="923.3" x2="355.8" y2="959.9" stroke="#00a898" stroke-width="0.6" stroke-opacity="0.8"/>
<line x1="397.4" y1="933.8" x2="397.4" y2="958.6" stroke="#b076d5" stroke-width="0.6" stroke-opacity="0.8"/>
<line x1="446.4" y1="925.5" x2="446.4" y2="957.9" stroke="#d66f78" stroke-width="0.6" stroke-opacity="0.8"/>
<line x1="468.9" y1="913.7" x2="476.3" y2="958.2" stroke="#49a138" stroke-width="0.6" stroke-opacity="0.8"/>
<line x1="392.1" y1="928.4" x2="392.1" y2="970.9" stroke="#7e9900" stroke-width="0.6" stroke-opacity="0.8"/>
<line x1="421.0" y1="929.8" x2="421.0" y2="968.2" stroke="#d867a5" stroke-width="0.6" stroke-opacity="0.8"/>
<line x1="440.7" y1="930.7" x2="453.5" y2="970.2" stroke="#8087db" stroke-width="0.6" stroke-opacity="0.8"/>
<line x1="470.9" y1="926.8" x2="470.9" y2="970.2" stroke="#8f9500" stroke-width="0.6" stroke-opacity="0.8"/>
<line x1="361.8" y1="937.1" x2="361.8" y2="980.5" stroke="#00a3bd" stroke-width="0.6" stroke-opacity="0.8"/>
<line x1="401.1" y1="923.7" x2="401.1" y2="980.5" stroke="#d66f7b" stroke-width="0.6" stroke-opacity="0.8"/>
<line x1="447.6" y1="922.6" x2="447.6" y2="980.5" stroke="#989200" stroke-width="0.6" stroke-opacity="0.8"/>
<line x1="533.0" y1="786.0" x2="533.0" y2="778.7" stroke="#5d8fd9" stroke-width="0.6" stroke-opacity="0.8"/>
<line x1="591.6" y1="786.0" x2="591.6" y2="778.7" stroke="#c08130" stroke-width="0.6" stroke-opacity="0.8"/>
<line x1="627.5" y1="774.8" x2="673.5" y2="774.8" stroke="#1ca34d" stroke-width="0.6" stroke-opacity="0.8"/>
<line x1="632.9" y1="784.2" x2="644.7" y2="784.4" stroke="#789a00" stroke-width="0.6" stroke-opacity="0.8"/>
<line x1="553.5" y1="797.7" x2="529.2" y2="794.3" stroke="#00a3bb" stroke-width="0.6" stroke-opacity="0.8"/>
<line x1="586.4" y1="795.0" x2="609.6" y2="796.5" stroke="#00a6af" stroke-width="0.6" stroke-opacity="0.8"/>
<line x1="649.6" y1="796.7" x2="668.6" y2="796.7" stroke="#d367b7" stroke-width="0.6" stroke-opacity="0.8"/>
<line x1="576.1" y1="819.4" x2="574.5" y2="810.9" stroke="#b873d2" stroke-width="0.6" stroke-opacity="0.8"/>
<line x1="615.4" y1="807.1" x2="640.8" y2="807.8" stroke="#d268b9" stroke-width="0.6" stroke-opacity="0.8"/>
<line x1="586.1" y1="806.5" x2="575.6" y2="814.7" stroke="#9481db" stroke-width="0.6" stroke-opacity="0.8"/>
<line x1="636.9" y1="816.7" x2="648.6" y2="820.1" stroke="#5790d9" stroke-width="0.6" stroke-opacity="0.8"/>
<line x1="591.6" y1="820.2" x2="612.5" y2="820.5" stroke="#c97b4c" stroke-width="0.6" stroke-opacity="0.8"/>
<line x1="552.8" y1="830.8" x2="546.2" y2="823.6" stroke="#00a4b5" stroke-width="0.6" stroke-opacity="0.8"/>
<line x1="608.0" y1="829.4" x2="643.4" y2="832.6" stroke="#00a775" stroke-width="0.6" stroke-opacity="0.8"/>
<line x1="568.8" y1="844.8" x2="578.7" y2="839.9" stroke="#00a89a" stroke-width="0.6" stroke-opacity="0.8"/>
<line x1="587.9" y1="856.6" x2="612.5" y2="852.4" stroke="#00a7a1" stroke-width="0.6" stroke-opacity="0.8"/>
<line x1="509.5" y1="845.8" x2="509.5" y2="851.8" stroke="#d867a3" stroke-width="0.6" stroke-opacity="0.8"/>
<line x1="580.4" y1="868.6" x2="588.1" y2="864.7" stroke="#00a6ac" stroke-width="0.6" stroke-opacity="0.8"/>
<line x1="540.7" y1="869.4" x2="554.8" y2="869.4" stroke="#af8900" stroke-width="0.6" stroke-opacity="0.8"/>
<line x1="583.6" y1="878.4" x2="595.0" y2="878.3" stroke="#589f2b" stroke-width="0.6" stroke-opacity="0.8"/>
<line x1="468.4" y1="874.3" x2="471.7" y2="880.4" stroke="#c87c48" stroke-width="0.6" stroke-opacity="0.8"/>
<line x1="529.5" y1="895.7" x2="529.5" y2="890.1" stroke="#4a92d7" stroke-width="0.6" stroke-opacity="0.8"/>
<line x1="581.6" y1="876.6" x2="612.3" y2="882.1" stroke="#00a55e" stroke-width="0.6" stroke-opacity="0.8"/>
<line x1="552.5" y1="895.1" x2="569.9" y2="895.1" stroke="#009ec8" stroke-width="0.6" stroke-opacity="0.8"/>
<line x1="612.1" y1="902.0" x2="623.8" y2="902.0" stroke="#987fdb" stroke-width="0.6" stroke-opacity="0.8"/>
<line x1="536.8" y1="904.7" x2="548.8" y2="906.2" stroke="#9f7dda" stroke-width="0.6" stroke-opacity="0.8"/>
<line x1="620.2" y1="906.2" x2="667.3" y2="906.7" stroke="#c66cc9" stroke-width="0.6" stroke-opacity="0.8"/>
<line x1="494.4" y1="913.5" x2="519.1" y2="921.1" stroke="#698dda" stroke-width="0.6" stroke-opacity="0.8"/>
<line x1="556.8" y1="915.1" x2="572.5" y2="920.2" stroke="#8a9600" stroke-width="0.6" stroke-opacity="0.8"/>
<line x1="581.4" y1="915.2" x2="608.5" y2="919.7" stroke="#c26ecc" stroke-width="0.6" stroke-opacity="0.8"/>
<line x1="493.4" y1="909.7" x2="502.5" y2="933.8" stroke="#4293d7" stroke-width="0.6" stroke-opacity="0.8"/>
<line x1="530.4" y1="908.6" x2="555.5" y2="933.3" stroke="#bc71d0" stroke-width="0.6" stroke-opacity="0.8"/>
<line x1="570.1" y1="908.7" x2="589.9" y2="933.3" stroke="#b18800" stroke-width="0.6" stroke-opacity="0.8"/>
<line x1="640.9" y1="912.3" x2="664.4" y2="931.3" stroke="#00a88e" stroke-width="0.6" stroke-opacity="0.8"/>
<line x1="505.7" y1="909.6" x2="505.7" y2="945.6" stroke="#b6860c" stroke-width="0.6" stroke-opacity="0.8"/>
<line x1="484.0" y1="921.0" x2="484.0" y2="945.6" stroke="#738adb" stroke-width="0.6" stroke-opacity="0.8"/>
<line x1="569.9" y1="918.7" x2="569.9" y2="945.6" stroke="#a27cd9" stroke-width="0.6" stroke-opacity="0.8"/>
<line x1="618.3" y1="912.5" x2="643.6" y2="945.6" stroke="#9182db" stroke-width="0.6" stroke-opacity="0.8"/>
<line x1="493.8" y1="913.5" x2="495.4" y2="958.0" stroke="#d27369" stroke-width="0.6" stroke-opacity="0.8"/>
<line x1="518.6" y1="917.1" x2="546.2" y2="957.5" stroke="#919400" stroke-width="0.6" stroke-opacity="0.8"/>
<line x1="584.2" y1="927.6" x2="594.5" y2="961.7" stroke="#00a772" stroke-width="0.6" stroke-opacity="0.8"/>
<line x1="489.1" y1="919.1" x2="515.7" y2="969.4" stroke="#d07563" stroke-width="0.6" stroke-opacity="0.8"/>
<line x1="619.5" y1="929.3" x2="619.5" y2="973.3" stroke="#d567b3" stroke-width="0.6" stroke-opacity="0.8"/>
<line x1="512.2" y1="939.3" x2="512.2" y2="980.4" stroke="#9b9100" stroke-width="0.6" stroke-opacity="0.8"/>
<line x1="540.2" y1="923.8" x2="574.7" y2="978.7" stroke="#8984db" stroke-width="0.6" stroke-opacity="0.8"/>
<line x1="507.1" y1="911.4" x2="520.0" y2="945.6" stroke="#ce7759" stroke-width="0.6" stroke-opacity="0.8"/>
<line x1="498.6" y1="868.4" x2="498.6" y2="874.0" stroke="#cb7953" stroke-width="0.6" stroke-opacity="0.8"/>
<circle cx="571.5" cy="585.3" r="1.9" fill="#00a457"/>
<circle cx="466.6" cy="593.3" r="1.9" fill="#d967a0"/>
<circle cx="597.7" cy="592.6" r="1.9" fill="#d86b89"/>
<circle cx="546.4" cy="616.1" r="1.9" fill="#00a454"/>
<circle cx="529.8" cy="623.1" r="1.9" fill="#ce69c0"/>
<circle cx="511.8" cy="652.5" r="1.9" fill="#8d83db"/>
<circle cx="429.0" cy="654.4" r="1.9" fill="#6e8cdb"/>
<circle cx="512.2" cy="676.2" r="1.9" fill="#00a7a3"/>
<circle cx="488.8" cy="703.4" r="1.9" fill="#d9689e"/>
<circle cx="616.4" cy="710.9" r="1.9" fill="#b375d4"/>
<circle cx="606.2" cy="724.6" r="1.9" fill="#00a883"/>
<circle cx="603.0" cy="732.6" r="1.9" fill="#cf7660"/>
<circle cx="631.3" cy="732.3" r="1.9" fill="#00a0c5"/>
<circle cx="423.3" cy="742.1" r="1.9" fill="#d467b5"/>
<circle cx="531.6" cy="741.0" r="1.9" fill="#9d9000"/>
<circle cx="580.2" cy="750.1" r="1.9" fill="#3ea13f"/>
<circle cx="595.9" cy="743.3" r="1.9" fill="#44a13b"/>
<circle cx="517.9" cy="747.4" r="1.9" fill="#c57d41"/>
<circle cx="559.0" cy="753.1" r="1.9" fill="#00a886"/>
<circle cx="584.5" cy="756.5" r="1.9" fill="#ca7a4f"/>
<circle cx="616.7" cy="758.3" r="1.9" fill="#0098d2"/>
<circle cx="490.9" cy="770.0" r="1.9" fill="#00a6aa"/>
<circle cx="506.6" cy="756.1" r="1.9" fill="#00a890"/>
<circle cx="550.6" cy="754.3" r="1.9" fill="#00a888"/>
<circle cx="595.5" cy="766.5" r="1.9" fill="#d96a8e"/>
<circle cx="215.0" cy="768.8" r="1.9" fill="#d3726c"/>
<circle cx="379.1" cy="747.3" r="1.9" fill="#009dca"/>
<circle cx="341.0" cy="769.8" r="1.9" fill="#00a7a6"/>
<circle cx="364.1" cy="784.6" r="1.9" fill="#d068bd"/>
<circle cx="277.5" cy="814.3" r="1.9" fill="#d96996"/>
<circle cx="297.5" cy="815.7" r="1.9" fill="#d57075"/>
<circle cx="276.2" cy="877.0" r="1.9" fill="#cf765d"/>
<circle cx="370.0" cy="808.5" r="1.9" fill="#949300"/>
<circle cx="246.0" cy="867.3" r="1.9" fill="#30a246"/>
<circle cx="284.0" cy="886.4" r="1.9" fill="#a57bd8"/>
<circle cx="375.7" cy="868.8" r="1.9" fill="#aa8c00"/>
<circle cx="396.1" cy="833.4" r="1.9" fill="#009bce"/>
<circle cx="146.7" cy="864.6" r="1.9" fill="#009dcb"/>
<circle cx="181.4" cy="869.4" r="1.9" fill="#7b9900"/>
<circle cx="306.9" cy="876.7" r="1.9" fill="#a88c00"/>
<circle cx="343.6" cy="873.0" r="1.9" fill="#d47172"/>
<circle cx="381.7" cy="874.3" r="1.9" fill="#7c88db"/>
<circle cx="258.0" cy="883.4" r="1.9" fill="#0099d1"/>
<circle cx="157.4" cy="876.2" r="1.9" fill="#a18f00"/>
<circle cx="326.7" cy="890.4" r="1.9" fill="#759b00"/>
<circle cx="369.4" cy="879.1" r="1.9" fill="#00a561"/>
<circle cx="429.0" cy="877.7" r="1.9" fill="#ae77d6"/>
<circle cx="485.5" cy="769.3" r="1.9" fill="#00a1c0"/>
<circle cx="411.6" cy="798.4" r="1.9" fill="#679d14"/>
<circle cx="477.8" cy="800.4" r="1.9" fill="#00a77e"/>
<circle cx="449.8" cy="804.1" r="1.9" fill="#d17466"/>
<circle cx="506.5" cy="848.7" r="1.9" fill="#d86c83"/>
<circle cx="411.7" cy="865.9" r="1.9" fill="#53a02f"/>
<circle cx="431.2" cy="833.4" r="1.9" fill="#d168bb"/>
<circle cx="501.9" cy="841.4" r="1.9" fill="#00a66a"/>
<circle cx="431.9" cy="846.0" r="1.9" fill="#37a243"/>
<circle cx="452.0" cy="833.8" r="1.9" fill="#00a880"/>
<circle cx="533.0" cy="841.0" r="1.9" fill="#cc7856"/>
<circle cx="440.8" cy="856.8" r="1.9" fill="#00a4b7"/>
<circle cx="443.1" cy="867.3" r="1.9" fill="#b58701"/>
<circle cx="495.2" cy="854.1" r="1.9" fill="#cf69bf"/>
<circle cx="433.1" cy="876.4" r="1.9" fill="#6b9c0b"/>
<circle cx="453.9" cy="861.8" r="1.9" fill="#609e21"/>
<circle cx="343.9" cy="879.2" r="1.9" fill="#009ccd"/>
<circle cx="364.8" cy="889.1" r="1.9" fill="#09a451"/>
<circle cx="407.3" cy="880.0" r="1.9" fill="#8586db"/>
<circle cx="452.7" cy="872.5" r="1.9" fill="#00a88b"/>
<circle cx="472.9" cy="874.4" r="1.9" fill="#cb6ac4"/>
<circle cx="225.1" cy="873.5" r="1.9" fill="#00a5b3"/>
<circle cx="194.5" cy="870.3" r="1.9" fill="#ac8b00"/>
<circle cx="271.3" cy="879.0" r="1.9" fill="#00a5b1"/>
<circle cx="276.4" cy="890.2" r="1.9" fill="#d96b8c"/>
<circle cx="251.7" cy="886.8" r="1.9" fill="#00a6a8"/>
<circle cx="317.2" cy="892.8" r="1.9" fill="#969200"/>
<circle cx="343.7" cy="889.2" r="1.9" fill="#d567b0"/>
<circle cx="370.7" cy="875.5" r="1.9" fill="#6f9c00"/>
<circle cx="424.2" cy="873.2" r="1.9" fill="#879700"/>
<circle cx="445.1" cy="890.3" r="1.9" fill="#ab78d7"/>
<circle cx="165.5" cy="889.5" r="1.9" fill="#cc6ac2"/>
<circle cx="201.9" cy="876.3" r="1.9" fill="#00a667"/>
<circle cx="222.5" cy="876.8" r="1.9" fill="#5c9f26"/>
<circle cx="256.5" cy="876.3" r="1.9" fill="#d767ac"/>
<circle cx="246.8" cy="902.9" r="1.9" fill="#ba72d1"/>
<circle cx="214.3" cy="902.2" r="1.9" fill="#00a664"/>
<circle cx="144.1" cy="895.7" r="1.9" fill="#9f9000"/>
<circle cx="281.0" cy="908.5" r="1.9" fill="#c47e3d"/>
<circle cx="226.2" cy="903.3" r="1.9" fill="#4ea033"/>
<circle cx="176.7" cy="911.2" r="1.9" fill="#ad8a00"/>
<circle cx="241.3" cy="907.1" r="1.9" fill="#bd8227"/>
<circle cx="311.3" cy="905.8" r="1.9" fill="#b574d3"/>
<circle cx="316.8" cy="920.6" r="1.9" fill="#a68d00"/>
<circle cx="230.3" cy="916.0" r="1.9" fill="#c16fcd"/>
<circle cx="248.6" cy="920.0" r="1.9" fill="#d767aa"/>
<circle cx="294.8" cy="921.4" r="1.9" fill="#00a79f"/>
<circle cx="335.3" cy="926.2" r="1.9" fill="#d4716f"/>
<circle cx="165.1" cy="927.6" r="1.9" fill="#00a4b9"/>
<circle cx="212.4" cy="918.7" r="1.9" fill="#00a66d"/>
<circle cx="270.1" cy="920.1" r="1.9" fill="#8c9500"/>
<circle cx="304.0" cy="922.7" r="1.9" fill="#00a2be"/>
<circle cx="272.8" cy="919.6" r="1.9" fill="#c86cc7"/>
<circle cx="291.0" cy="932.9" r="1.9" fill="#d76e7e"/>
<circle cx="254.2" cy="934.2" r="1.9" fill="#7789db"/>
<circle cx="315.9" cy="930.2" r="1.9" fill="#00a770"/>
<circle cx="344.6" cy="942.3" r="1.9" fill="#3994d6"/>
<circle cx="325.6" cy="903.0" r="1.9" fill="#00a895"/>
<circle cx="367.7" cy="887.2" r="1.9" fill="#be822c"/>
<circle cx="393.9" cy="898.5" r="1.9" fill="#00a79c"/>
<circle cx="452.1" cy="901.0" r="1.9" fill="#d667ae"/>
<circle cx="365.5" cy="910.7" r="1.9" fill="#b88515"/>
<circle cx="444.7" cy="915.5" r="1.9" fill="#00a55a"/>
<circle cx="476.2" cy="908.6" r="1.9" fill="#d9689b"/>
<circle cx="389.5" cy="918.7" r="1.9" fill="#00a778"/>
<circle cx="433.8" cy="917.3" r="1.9" fill="#00a77b"/>
<circle cx="353.0" cy="927.2" r="1.9" fill="#2196d4"/>
<circle cx="415.3" cy="921.9" r="1.9" fill="#009fc7"/>
<circle cx="448.6" cy="917.3" r="1.9" fill="#00a1c2"/>
<circle cx="353.4" cy="923.6" r="1.9" fill="#ba841c"/>
<circle cx="397.5" cy="927.2" r="1.9" fill="#00a0c4"/>
<circle cx="378.7" cy="927.4" r="1.9" fill="#649d1b"/>
<circle cx="446.1" cy="923.1" r="1.9" fill="#b38800"/>
<circle cx="452.3" cy="925.2" r="1.9" fill="#d867a7"/>
<circle cx="363.5" cy="926.8" r="1.9" fill="#638eda"/>
<circle cx="380.6" cy="923.6" r="1.9" fill="#d96899"/>
<circle cx="424.1" cy="912.4" r="1.9" fill="#009acf"/>
<circle cx="453.9" cy="924.5" r="1.9" fill="#d76d81"/>
<circle cx="356.7" cy="923.3" r="1.9" fill="#00a898"/>
<circle cx="397.4" cy="933.8" r="1.9" fill="#b076d5"/>
<circle cx="446.4" cy="925.5" r="1.9" fill="#d66f78"/>
<circle cx="468.9" cy="913.7" r="1.9" fill="#49a138"/>
<circle cx="392.1" cy="928.4" r="1.9" fill="#7e9900"/>
<circle cx="421.0" cy="929.8" r="1.9" fill="#d867a5"/>
<circle cx="440.7" cy="930.7" r="1.9" fill="#8087db"/>
<circle cx="470.9" cy="926.8" r="1.9" fill="#8f9500"/>
<circle cx="361.8" cy="937.1" r="1.9" fill="#00a3bd"/>
<circle cx="401.1" cy="923.7" r="1.9" fill="#d66f7b"/>
<circle cx="447.6" cy="922.6" r="1.9" fill="#989200"/>
<circle cx="533.0" cy="786.0" r="1.9" fill="#5d8fd9"/>
<circle cx="591.6" cy="786.0" r="1.9" fill="#c08130"/>
<circle cx="627.5" cy="774.8" r="1.9" fill="#1ca34d"/>
<circle cx="605.7" cy="788.3" r="1.9" fill="#a48e00"/>
<circle cx="578.3" cy="790.3" r="1.9" fill="#849700"/>
<circle cx="632.9" cy="784.2" r="1.9" fill="#789a00"/>
<circle cx="553.5" cy="797.7" r="1.9" fill="#00a3bb"/>
<circle cx="631.1" cy="791.5" r="1.9" fill="#d96a91"/>
<circle cx="586.4" cy="795.0" r="1.9" fill="#00a6af"/>
<circle cx="649.6" cy="796.7" r="1.9" fill="#d367b7"/>
<circle cx="576.1" cy="819.4" r="1.9" fill="#b873d2"/>
<circle cx="615.4" cy="807.1" r="1.9" fill="#d268b9"/>
<circle cx="619.7" cy="804.7" r="1.9" fill="#0b97d3"/>
<circle cx="586.1" cy="806.5" r="1.9" fill="#9481db"/>
<circle cx="636.9" cy="816.7" r="1.9" fill="#5790d9"/>
<circle cx="591.6" cy="820.2" r="1.9" fill="#c97b4c"/>
<circle cx="552.8" cy="830.8" r="1.9" fill="#00a4b5"/>
<circle cx="608.0" cy="829.4" r="1.9" fill="#00a775"/>
<circle cx="568.8" cy="844.8" r="1.9" fill="#00a89a"/>
<circle cx="561.6" cy="839.8" r="1.9" fill="#c18035"/>
<circle cx="526.0" cy="850.7" r="1.9" fill="#27a34a"/>
<circle cx="566.1" cy="854.1" r="1.9" fill="#d96994"/>
<circle cx="587.9" cy="856.6" r="1.9" fill="#00a7a1"/>
<circle cx="509.5" cy="845.8" r="1.9" fill="#d867a3"/>
<circle cx="580.4" cy="868.6" r="1.9" fill="#00a6ac"/>
<circle cx="611.4" cy="855.4" r="1.9" fill="#a879d8"/>
<circle cx="540.7" cy="869.4" r="1.9" fill="#af8900"/>
<circle cx="501.0" cy="873.8" r="1.9" fill="#be70cf"/>
<circle cx="505.0" cy="865.9" r="1.9" fill="#9b7eda"/>
<circle cx="583.6" cy="878.4" r="1.9" fill="#589f2b"/>
<circle cx="633.5" cy="877.1" r="1.9" fill="#bb8322"/>
<circle cx="468.4" cy="874.3" r="1.9" fill="#c87c48"/>
<circle cx="503.9" cy="887.3" r="1.9" fill="#c37f39"/>
<circle cx="529.5" cy="895.7" r="1.9" fill="#4a92d7"/>
<circle cx="576.9" cy="885.4" r="1.9" fill="#c77c44"/>
<circle cx="581.6" cy="876.6" r="1.9" fill="#00a55e"/>
<circle cx="623.0" cy="883.8" r="1.9" fill="#d86c86"/>
<circle cx="480.0" cy="896.5" r="1.9" fill="#729b00"/>
<circle cx="520.0" cy="889.1" r="1.9" fill="#5191d8"/>
<circle cx="552.5" cy="895.1" r="1.9" fill="#009ec8"/>
<circle cx="612.1" cy="902.0" r="1.9" fill="#987fdb"/>
<circle cx="495.6" cy="910.4" r="1.9" fill="#00a893"/>
<circle cx="536.8" cy="904.7" r="1.9" fill="#9f7dda"/>
<circle cx="587.3" cy="903.8" r="1.9" fill="#819800"/>
<circle cx="624.5" cy="909.5" r="1.9" fill="#c46dca"/>
<circle cx="620.2" cy="906.2" r="1.9" fill="#c66cc9"/>
<circle cx="494.4" cy="913.5" r="1.9" fill="#698dda"/>
<circle cx="556.8" cy="915.1" r="1.9" fill="#8a9600"/>
<circle cx="581.4" cy="915.2" r="1.9" fill="#c26ecc"/>
<circle cx="493.4" cy="909.7" r="1.9" fill="#4293d7"/>
<circle cx="530.4" cy="908.6" r="1.9" fill="#bc71d0"/>
<circle cx="570.1" cy="908.7" r="1.9" fill="#b18800"/>
<circle cx="640.9" cy="912.3" r="1.9" fill="#00a88e"/>
<circle cx="505.7" cy="909.6" r="1.9" fill="#b6860c"/>
<circle cx="484.0" cy="921.0" r="1.9" fill="#738adb"/>
<circle cx="569.9" cy="918.7" r="1.9" fill="#a27cd9"/>
<circle cx="618.3" cy="912.5" r="1.9" fill="#9182db"/>
<circle cx="493.8" cy="913.5" r="1.9" fill="#d27369"/>
<circle cx="518.6" cy="917.1" r="1.9" fill="#919400"/>
<circle cx="584.2" cy="927.6" r="1.9" fill="#00a772"/>
<circle cx="489.1" cy="919.1" r="1.9" fill="#d07563"/>
<circle cx="619.5" cy="929.3" r="1.9" fill="#d567b3"/>
<circle cx="512.2" cy="939.3" r="1.9" fill="#9b9100"/>
<circle cx="540.2" cy="923.8" r="1.9" fill="#8984db"/>
<circle cx="507.1" cy="911.4" r="1.9" fill="#ce7759"/>
<circle cx="498.6" cy="868.4" r="1.9" fill="#cb7953"/>
<text x="539.6" y="581.4" font-size="8.7" fill="#00a457">Greenland</text>
<text x="462.5" y="589.4" font-size="8.7" fill="#d967a0">Tunisia</text>
<text x="577.9" y="602.6" font-size="8.7" fill="#d86b89">United States of America</text>
<text x="541.9" y="612.2" font-size="8.7" fill="#00a454">Greece</text>
<text x="508.1" y="633.2" font-size="8.7" fill="#ce69c0">Spain</text>
<text x="504.5" y="648.7" font-size="8.7" fill="#8d83db">Portugal</text>
<text x="400.1" y="664.2" font-size="8.7" fill="#6e8cdb">Palestine</text>
<text x="484.0" y="686.3" font-size="8.7" fill="#00a7a3">Lebanon</text>
<text x="484.4" y="699.5" font-size="8.7" fill="#d9689e">Türkiye</text>
<text x="603.4" y="706.8" font-size="8.7" fill="#b375d4">San Marino</text>
<text x="586.8" y="720.5" font-size="8.7" fill="#00a883">Ireland</text>
<text x="565.4" y="732.3" font-size="8.7" fill="#cf7660">Andorra</text>
<text x="635.8" y="732.3" font-size="8.7" fill="#00a0c5">Monaco</text>
<text x="389.1" y="738.7" font-size="8.7" fill="#d467b5">Syrian Arab Republic</text>
<text x="529.3" y="736.9" font-size="8.7" fill="#9d9000">Chile</text>
<text x="556.7" y="744.4" font-size="8.7" fill="#3ea13f">France</text>
<text x="604.1" y="744.4" font-size="8.7" fill="#44a13b">Finland</text>
<text x="482.1" y="753.5" font-size="8.7" fill="#c57d41">Bahrain</text>
<text x="527.7" y="751.9" font-size="8.7" fill="#00a886">Israel</text>
<text x="583.6" y="756.5" font-size="8.7" fill="#ca7a4f">Australia</text>
<text x="625.8" y="756.5" font-size="8.7" fill="#0098d2">Netherlands</text>
<text x="472.3" y="766.5" font-size="8.7" fill="#00a6aa">Libya</text>
<text x="500.4" y="766.1" font-size="8.7" fill="#00a890">Jordan</text>
<text x="537.8" y="764.3" font-size="8.7" fill="#00a888">Italy</text>
<text x="600.0" y="768.4" font-size="8.7" fill="#d96a8e">United Kingdom</text>
<text x="199.9" y="765.1" font-size="8.7" fill="#d3726c">Afghanistan</text>
<text x="351.4" y="756.7" font-size="8.7" fill="#009dca">Morocco</text>
<text x="311.1" y="765.9" font-size="8.7" fill="#00a7a6">Lesotho</text>
<text x="340.4" y="780.5" font-size="8.7" fill="#d068bd">Sudan</text>
<text x="251.7" y="810.4" font-size="8.7" fill="#d96996">Uganda</text>
<text x="302.9" y="821.6" font-size="8.7" fill="#d57075">Yemen</text>
<text x="267.4" y="825.1" font-size="8.7" fill="#cf765d">Angola</text>
<text x="346.6" y="818.5" font-size="8.7" fill="#949300">Congo</text>
<text x="208.1" y="834.3" font-size="8.7" fill="#30a246">Gambia</text>
<text x="244.7" y="837.2" font-size="8.7" fill="#a57bd8">Rwanda</text>
<text x="312.5" y="833.8" font-size="8.7" fill="#aa8c00">Cabo Verde</text>
<text x="362.0" y="830.2" font-size="8.7" fill="#009bce">Namibia</text>
<text x="107.9" y="846.2" font-size="8.7" fill="#009dcb">Mozambique</text>
<text x="118.2" y="846.6" font-size="8.7" fill="#7b9900">Democratic Republic of the Congo</text>
<text x="259.0" y="848.9" font-size="8.7" fill="#a88c00">Cambodia</text>
<text x="305.0" y="846.1" font-size="8.7" fill="#d47172">Zambia</text>
<text x="345.0" y="846.6" font-size="8.7" fill="#7c88db">Paraguay</text>
<text x="229.6" y="856.3" font-size="8.7" fill="#0099d1">Nepal</text>
<text x="108.5" y="859.5" font-size="8.7" fill="#a18f00">Central African Republic</text>
<text x="295.0" y="858.8" font-size="8.7" fill="#759b00">Djibouti</text>
<text x="325.2" y="857.4" font-size="8.7" fill="#00a561">Guatemala</text>
<text x="311.1" y="859.5" font-size="8.7" fill="#ae77d6">Saint Vincent and the Grenadines</text>
<text x="456.0" y="779.3" font-size="8.7" fill="#00a1c0">Mauritius</text>
<text x="372.4" y="793.0" font-size="8.7" fill="#679d14">Egypt</text>
<text x="396.4" y="791.2" font-size="8.7" fill="#00a77e">Iran (Islamic Republic of)</text>
<text x="415.9" y="803.3" font-size="8.7" fill="#d17466">Algeria</text>
<text x="481.8" y="804.4" font-size="8.7" fill="#d86c83">Uruguay</text>
<text x="379.6" y="817.0" font-size="8.7" fill="#53a02f">Eswatini</text>
<text x="421.6" y="817.0" font-size="8.7" fill="#d168bb">Suriname</text>
<text x="467.8" y="818.0" font-size="8.7" fill="#00a66a">Guyana</text>
<text x="400.8" y="829.5" font-size="8.7" fill="#37a243">Gabon</text>
<text x="454.1" y="830.9" font-size="8.7" fill="#00a880">Iraq</text>
<text x="480.7" y="833.8" font-size="8.7" fill="#cc7856">Argentina</text>
<text x="388.2" y="843.6" font-size="8.7" fill="#00a4b7">Maldives</text>
<text x="422.6" y="842.8" font-size="8.7" fill="#b58701">Botswana</text>
<text x="464.2" y="846.7" font-size="8.7" fill="#cf69bf">Sri Lanka</text>
<text x="401.8" y="855.3" font-size="8.7" fill="#6b9c0b">Ecuador</text>
<text x="436.2" y="858.9" font-size="8.7" fill="#609e21">Equatorial Guinea</text>
<text x="313.7" y="871.1" font-size="8.7" fill="#009ccd">Myanmar</text>
<text x="355.2" y="872.5" font-size="8.7" fill="#09a451">Ghana</text>
<text x="378.6" y="871.8" font-size="8.7" fill="#8586db">Philippines</text>
<text x="418.3" y="872.5" font-size="8.7" fill="#00a88b">Jamaica</text>
<text x="447.7" y="871.8" font-size="8.7" fill="#cb6ac4">South Africa</text>
<text x="194.5" y="863.1" font-size="8.7" fill="#00a5b3">Malawi</text>
<text x="148.6" y="874.8" font-size="8.7" fill="#ac8b00">Burundi</text>
<text x="234.6" y="867.6" font-size="8.7" fill="#00a5b1">Madagascar</text>
<text x="227.3" y="871.5" font-size="8.7" fill="#d96b8c">United Republic of Tanzania</text>
<text x="207.2" y="876.1" font-size="8.7" fill="#00a6a8">Liberia</text>
<text x="290.3" y="883.0" font-size="8.7" fill="#969200">Comoros</text>
<text x="326.5" y="884.8" font-size="8.7" fill="#d567b0">Tajikistan</text>
<text x="345.4" y="884.8" font-size="8.7" fill="#6f9c00">Dominican Republic</text>
<text x="411.0" y="884.8" font-size="8.7" fill="#879700">Cuba</text>
<text x="431.8" y="884.8" font-size="8.7" fill="#ab78d7">Saint Lucia</text>
<text x="99.7" y="887.5" font-size="8.7" fill="#cc6ac2">South Sudan</text>
<text x="159.2" y="888.2" font-size="8.7" fill="#00a667">Guinea-Bissau</text>
<text x="217.3" y="888.2" font-size="8.7" fill="#5c9f26">Eritrea</text>
<text x="250.8" y="887.9" font-size="8.7" fill="#d767ac">Timor-Leste</text>
<text x="229.6" y="900.5" font-size="8.7" fill="#ba72d1">Senegal</text>
<text x="161.9" y="900.8" font-size="8.7" fill="#00a664">Guinea</text>
<text x="123.2" y="905.3" font-size="8.7" fill="#9f9000">Chad</text>
<text x="261.1" y="904.4" font-size="8.7" fill="#c47e3d">Bangladesh</text>
<text x="193.4" y="912.8" font-size="8.7" fill="#4ea033">Ethiopia</text>
<text x="88.7" y="917.6" font-size="8.7" fill="#ad8a00">Burkina Faso</text>
<text x="234.4" y="916.3" font-size="8.7" fill="#bd8227">Benin</text>
<text x="268.6" y="914.9" font-size="8.7" fill="#b574d3">Sao Tome and Principe</text>
<text x="257.0" y="919.0" font-size="8.7" fill="#a68d00">Cameroon</text>
<text x="139.8" y="923.5" font-size="8.7" fill="#c16fcd">Sierra Leone</text>
<text x="198.9" y="928.6" font-size="8.7" fill="#d767aa">Togo</text>
<text x="172.9" y="930.9" font-size="8.7" fill="#00a79f">Lao People's Democratic Republic</text>
<text x="276.1" y="929.9" font-size="8.7" fill="#d4716f">Zimbabwe</text>
<text x="146.2" y="936.8" font-size="8.7" fill="#00a4b9">Mali</text>
<text x="172.9" y="942.2" font-size="8.7" fill="#00a66d">Haiti</text>
<text x="197.5" y="942.9" font-size="8.7" fill="#8c9500">Côte d'Ivoire</text>
<text x="254.9" y="942.2" font-size="8.7" fill="#00a2be">Mauritania</text>
<text x="177.9" y="955.2" font-size="8.7" fill="#c86cc7">Solomon Islands</text>
<text x="242.0" y="955.0" font-size="8.7" fill="#d76e7e">Vanuatu</text>
<text x="185.6" y="967.6" font-size="8.7" fill="#7789db">Papua New Guinea</text>
<text x="261.1" y="966.9" font-size="8.7" fill="#00a770">Honduras</text>
<text x="284.4" y="979.2" font-size="8.7" fill="#3994d6">Nigeria</text>
<text x="319.7" y="899.4" font-size="8.7" fill="#00a895">Kenya</text>
<text x="351.1" y="897.4" font-size="8.7" fill="#be822c">Belize</text>
<text x="382.6" y="896.7" font-size="8.7" fill="#00a79c">Kyrgyzstan</text>
<text x="434.6" y="897.4" font-size="8.7" fill="#d667ae">Thailand</text>
<text x="323.8" y="908.7" font-size="8.7" fill="#b88515">Bolivia (Plurinational State of)</text>
<text x="429.1" y="912.4" font-size="8.7" fill="#00a55a">Grenada</text>
<text x="454.8" y="914.5" font-size="8.7" fill="#d9689b">Turkmenistan</text>
<text x="364.5" y="921.3" font-size="8.7" fill="#00a778">India</text>
<text x="401.5" y="917.9" font-size="8.7" fill="#00a77b">Indonesia</text>
<text x="316.9" y="928.5" font-size="8.7" fill="#2196d4">Nicaragua</text>
<text x="390.8" y="930.2" font-size="8.7" fill="#009fc7">Mongolia</text>
<text x="444.8" y="928.8" font-size="8.7" fill="#00a1c2">Mexico</text>
<text x="291.6" y="941.8" font-size="8.7" fill="#ba841c">Bhutan</text>
<text x="314.9" y="941.1" font-size="8.7" fill="#00a0c4">Micronesia (Federated States of)</text>
<text x="329.9" y="940.5" font-size="8.7" fill="#649d1b">El Salvador</text>
<text x="426.4" y="941.1" font-size="8.7" fill="#b38800">Brazil</text>
<text x="465.4" y="940.5" font-size="8.7" fill="#d867a7">Tokelau</text>
<text x="304.6" y="954.1" font-size="8.7" fill="#638eda">Pakistan</text>
<text x="345.4" y="952.8" font-size="8.7" fill="#d96899">Tuvalu</text>
<text x="398.7" y="953.2" font-size="8.7" fill="#009acf">Nauru</text>
<text x="441.4" y="952.8" font-size="8.7" fill="#d76d81">Uzbekistan</text>
<text x="325.8" y="966.4" font-size="8.7" fill="#00a898">Kiribati</text>
<text x="374.4" y="965.1" font-size="8.7" fill="#b076d5">Samoa</text>
<text x="427.7" y="964.4" font-size="8.7" fill="#d66f78">Viet Nam</text>
<text x="476.3" y="964.7" font-size="8.7" fill="#49a138">Fiji</text>
<text x="286.2" y="977.4" font-size="8.7" fill="#7e9900">Democratic People's Republic of Korea</text>
<text x="408.6" y="974.7" font-size="8.7" fill="#d867a5">Tonga</text>
<text x="453.5" y="976.7" font-size="8.7" fill="#8087db">Peru</text>
<text x="468.8" y="976.7" font-size="8.7" fill="#8f9500">Costa Rica</text>
<text x="297.8" y="987.0" font-size="8.7" fill="#00a3bd">Marshall Islands</text>
<text x="321.7" y="987.0" font-size="8.7" fill="#d66f7b">Venezuela (Bolivarian Republic of)</text>
<text x="420.9" y="987.0" font-size="8.7" fill="#989200">Colombia</text>
<text x="514.8" y="777.2" font-size="8.7" fill="#5d8fd9">Oman</text>
<text x="560.3" y="777.2" font-size="8.7" fill="#c08130">Belgium</text>
<text x="673.5" y="778.8" font-size="8.7" fill="#1ca34d">Germany</text>
<text x="601.4" y="784.4" font-size="8.7" fill="#a48e00">Canada</text>
<text x="544.1" y="789.9" font-size="8.7" fill="#849700">Cyprus</text>
<text x="644.7" y="790.9" font-size="8.7" fill="#789a00">Denmark</text>
<text x="507.0" y="792.8" font-size="8.7" fill="#00a3bb">Malta</text>
<text x="551.9" y="797.7" font-size="8.7" fill="#d96a91">United Arab Emirates</text>
<text x="609.6" y="803.0" font-size="8.7" fill="#00a6af">Luxembourg</text>
<text x="668.6" y="802.6" font-size="8.7" fill="#d367b7">Switzerland</text>
<text x="521.6" y="809.4" font-size="8.7" fill="#b873d2">Saudi Arabia</text>
<text x="640.8" y="814.3" font-size="8.7" fill="#d268b9">Sweden</text>
<text x="580.6" y="815.3" font-size="8.7" fill="#0b97d3">New Zealand</text>
<text x="552.9" y="821.2" font-size="8.7" fill="#9481db">Qatar</text>
<text x="648.6" y="826.6" font-size="8.7" fill="#5790d9">Norway</text>
<text x="612.5" y="827.0" font-size="8.7" fill="#c97b4c">Austria</text>
<text x="509.9" y="822.1" font-size="8.7" fill="#00a4b5">Malaysia</text>
<text x="643.4" y="839.1" font-size="8.7" fill="#00a775">Iceland</text>
<text x="578.7" y="838.4" font-size="8.7" fill="#00a89a">Kuwait</text>
<text x="539.2" y="834.8" font-size="8.7" fill="#c18035">Belarus</text>
<text x="506.0" y="846.6" font-size="8.7" fill="#27a34a">Georgia</text>
<text x="558.4" y="850.5" font-size="8.7" fill="#d96994">Ukraine</text>
<text x="612.5" y="850.9" font-size="8.7" fill="#00a7a1">Latvia</text>
<text x="499.1" y="858.3" font-size="8.7" fill="#d867a3">Trinidad and Tobago</text>
<text x="588.1" y="863.2" font-size="8.7" fill="#00a6ac">Lithuania</text>
<text x="612.5" y="864.2" font-size="8.7" fill="#a879d8">Saint Kitts and Nevis</text>
<text x="554.8" y="869.4" font-size="8.7" fill="#af8900">Bulgaria</text>
<text x="478.6" y="871.0" font-size="8.7" fill="#be70cf">Seychelles</text>
<text x="497.9" y="876.8" font-size="8.7" fill="#9b7eda">Republic of Moldova</text>
<text x="595.0" y="876.8" font-size="8.7" fill="#589f2b">Estonia</text>
<text x="632.3" y="876.8" font-size="8.7" fill="#bb8322">Bermuda</text>
<text x="471.7" y="886.9" font-size="8.7" fill="#c87c48">Azerbaijan</text>
<text x="502.2" y="888.6" font-size="8.7" fill="#c37f39">Barbados</text>
<text x="525.0" y="888.6" font-size="8.7" fill="#4a92d7">North Macedonia</text>
<text x="571.6" y="888.6" font-size="8.7" fill="#c77c44">Bahamas</text>
<text x="612.3" y="888.6" font-size="8.7" fill="#00a55e">Guam</text>
<text x="610.6" y="889.0" font-size="8.7" fill="#d86c86">United States Virgin Islands</text>
<text x="470.8" y="900.5" font-size="8.7" fill="#729b00">Dominica</text>
<text x="490.3" y="900.5" font-size="8.7" fill="#5191d8">Northern Mariana Islands</text>
<text x="569.9" y="900.5" font-size="8.7" fill="#009ec8">Montenegro</text>
<text x="623.8" y="901.3" font-size="8.7" fill="#987fdb">Republic of Korea</text>
<text x="482.7" y="914.4" font-size="8.7" fill="#00a893">Kazakhstan</text>
<text x="548.8" y="912.7" font-size="8.7" fill="#9f7dda">Romania</text>
<text x="589.9" y="913.2" font-size="8.7" fill="#819800">Czechia</text>
<text x="626.7" y="913.2" font-size="8.7" fill="#c46dca">Slovakia</text>
<text x="667.3" y="913.2" font-size="8.7" fill="#c66cc9">Slovenia</text>
<text x="519.1" y="927.6" font-size="8.7" fill="#698dda">Palau</text>
<text x="572.5" y="926.7" font-size="8.7" fill="#8a9600">Croatia</text>
<text x="608.5" y="926.2" font-size="8.7" fill="#c26ecc">Singapore</text>
<text x="502.5" y="940.3" font-size="8.7" fill="#4293d7">Niue</text>
<text x="555.5" y="939.8" font-size="8.7" fill="#bc71d0">Serbia</text>
<text x="589.9" y="939.8" font-size="8.7" fill="#b18800">Brunei Darussalam</text>
<text x="664.4" y="937.8" font-size="8.7" fill="#00a88e">Japan</text>
<text x="475.1" y="952.1" font-size="8.7" fill="#b6860c">Bosnia and Herzegovina</text>
<text x="483.5" y="952.1" font-size="8.7" fill="#738adb">Panama</text>
<text x="564.9" y="952.1" font-size="8.7" fill="#a27cd9">Russian Federation</text>
<text x="643.6" y="952.1" font-size="8.7" fill="#9182db">Puerto Rico</text>
<text x="495.4" y="964.5" font-size="8.7" fill="#d27369">Albania</text>
<text x="546.2" y="964.0" font-size="8.7" fill="#919400">Cook Islands</text>
<text x="594.5" y="968.2" font-size="8.7" fill="#00a772">Hungary</text>
<text x="515.7" y="975.9" font-size="8.7" fill="#d07563">American Samoa</text>
<text x="614.0" y="979.8" font-size="8.7" fill="#d567b3">Taiwan (Province of China)</text>
<text x="508.6" y="986.9" font-size="8.7" fill="#9b9100">China</text>
<text x="574.7" y="985.2" font-size="8.7" fill="#8984db">Poland</text>
<text x="520.0" y="952.1" font-size="8.7" fill="#ce7759">Antigua and Barbuda</text>
<text x="478.0" y="880.5" font-size="8.7" fill="#cb7953">Armenia</text>
<polygon points="139.5,1354.7 144.0,1357.4 150.1,1361.1 157.2,1365.6 165.2,1370.5 173.6,1375.5 182.2,1380.3 190.5,1384.5 198.2,1387.9 205.5,1390.5 212.9,1392.7 220.2,1394.6 227.5,1396.1 234.8,1397.4 242.2,1398.6 249.5,1399.6 256.8,1400.6 264.1,1401.5 271.4,1402.1 278.8,1402.7 286.1,1403.0 293.4,1403.3 300.7,1403.4 308.1,1403.5 315.4,1403.6 322.8,1403.6 330.3,1403.7 337.9,1403.6 345.5,1403.4 352.9,1403.2 360.2,1402.8 367.3,1402.3 374.0,1401.6 380.5,1400.7 387.0,1399.6 393.3,1398.3 399.4,1397.0 405.2,1395.5 410.7,1394.0 415.6,1392.5 420.0,1391.0 423.6,1389.5 426.3,1387.9 428.4,1386.3 430.2,1384.7 431.9,1383.1 433.9,1381.5 436.3,1379.9 439.5,1378.5 443.4,1377.2 447.9,1375.9 452.7,1374.7 457.8,1373.5 463.1,1372.3 468.4,1371.2 473.6,1370.0 478.6,1368.8 483.5,1367.6 488.4,1366.5 493.3,1365.4 498.2,1364.3 503.0,1363.1 507.9,1361.9 512.8,1360.5 517.7,1359.0 522.7,1357.3 527.7,1355.6 532.8,1353.7 537.9,1351.8 542.9,1349.7 547.7,1347.6 552.4,1345.5 556.8,1343.3 561.0,1341.0 565.0,1338.6 568.9,1336.2 572.7,1333.7 576.3,1331.1 579.7,1328.6 583.0,1326.2 586.1,1323.8 589.0,1321.5 591.7,1319.4 594.2,1317.3 596.5,1315.2 598.8,1313.1 601.0,1311.0 603.3,1308.7 605.7,1306.2 608.1,1303.7 610.5,1301.1 612.8,1298.5 615.2,1295.8 617.6,1293.0 620.1,1289.9 622.6,1286.5 625.2,1282.8 628.1,1278.4 631.3,1273.2 634.7,1267.6 638.1,1261.8 641.4,1256.2 644.3,1251.1 646.8,1246.8 648.6,1243.7 648.6,1342.1 646.8,1342.4 644.3,1342.8 641.4,1343.2 638.1,1343.7 634.7,1344.3 631.3,1344.9 628.1,1345.7 625.2,1346.6 622.6,1347.6 620.1,1348.7 617.6,1349.9 615.2,1351.2 612.8,1352.5 610.5,1354.0 608.1,1355.5 605.7,1357.0 603.3,1358.5 601.0,1360.0 598.8,1361.6 596.5,1363.3 594.2,1365.0 591.7,1366.9 589.0,1368.8 586.1,1370.8 583.0,1373.0 579.7,1375.3 576.3,1377.7 572.7,1380.2 568.9,1382.7 565.0,1385.3 561.0,1387.8 556.8,1390.3 552.4,1392.8 547.7,1395.3 542.9,1397.9 537.9,1400.4 532.8,1402.9 527.7,1405.3 522.7,1407.6 517.7,1409.8 512.8,1411.8 507.9,1413.7 503.0,1415.5 498.2,1417.2 493.3,1418.8 488.4,1420.4 483.5,1421.9 478.6,1423.4 473.6,1424.9 468.4,1426.4 463.1,1428.0 457.8,1429.4 452.7,1430.7 447.9,1431.8 443.4,1432.7 439.5,1433.3 436.3,1433.5 433.9,1433.2 431.9,1432.7 430.2,1432.0 428.4,1431.2 426.3,1430.6 423.6,1430.1 420.0,1430.0 415.6,1430.2 410.7,1430.7 405.2,1431.3 399.4,1432.0 393.3,1432.8 387.0,1433.5 380.5,1434.2 374.0,1434.8 367.3,1435.3 360.2,1435.8 352.9,1436.3 345.5,1436.7 337.9,1437.1 330.3,1437.5 322.8,1437.8 315.4,1438.0 308.1,1438.1 300.7,1438.0 293.4,1437.9 286.1,1437.7 278.8,1437.5 271.4,1437.4 264.1,1437.5 256.8,1437.8 249.5,1438.2 242.2,1438.6 234.8,1439.1 227.5,1439.8 220.2,1440.6 212.9,1441.6 205.5,1443.0 198.2,1444.7 190.5,1447.0 182.2,1449.9 173.6,1453.3 165.2,1456.8 157.2,1460.3 150.1,1463.5 144.0,1466.2 139.5,1468.1" fill="#999999" fill-opacity="0.4"/>
<polyline points="139.5,1411.4 144.0,1411.8 150.1,1412.3 157.2,1413.0 165.2,1413.7 173.6,1414.4 182.2,1415.1 190.5,1415.7 198.2,1416.3 205.5,1416.8 212.9,1417.2 220.2,1417.6 227.5,1418.0 234.8,1418.3 242.2,1418.6 249.5,1418.9 256.8,1419.2 264.1,1419.5 271.4,1419.8 278.8,1420.1 286.1,1420.3 293.4,1420.6 300.7,1420.7 308.1,1420.8 315.4,1420.8 322.8,1420.7 330.3,1420.6 337.9,1420.4 345.5,1420.1 352.9,1419.7 360.2,1419.3 367.3,1418.8 374.0,1418.2 380.5,1417.5 387.0,1416.6 393.3,1415.5 399.4,1414.5 405.2,1413.4 410.7,1412.3 415.6,1411.3 420.0,1410.5 423.6,1409.8 426.3,1409.3 428.4,1408.8 430.2,1408.3 431.9,1407.9 433.9,1407.3 436.3,1406.7 439.5,1405.9 443.4,1404.9 447.9,1403.9 452.7,1402.7 457.8,1401.4 463.1,1400.1 468.4,1398.8 473.6,1397.5 478.6,1396.1 483.5,1394.8 488.4,1393.4 493.3,1392.1 498.2,1390.7 503.0,1389.3 507.9,1387.8 512.8,1386.2 517.7,1384.4 522.7,1382.5 527.7,1380.5 532.8,1378.3 537.9,1376.1 542.9,1373.8 547.7,1371.5 552.4,1369.1 556.8,1366.8 560.9,1364.5 564.8,1362.2 568.5,1359.8 572.1,1357.4 575.5,1355.0 579.0,1352.5 582.5,1349.9 586.1,1347.3 589.7,1344.6 593.3,1341.9 596.9,1339.1 600.5,1336.3 604.1,1333.3 607.8,1330.3 611.6,1327.1 615.4,1323.8 619.6,1320.1 624.2,1315.9 629.0,1311.4 633.8,1306.9 638.4,1302.5 642.5,1298.6 646.0,1295.3 648.6,1292.9" fill="none" stroke="#56708f" stroke-width="1.8" stroke-linecap="round"/>
<line x1="579.0" y1="1269.0" x2="579.0" y2="1275.5" stroke="#3ea13f" stroke-width="0.6" stroke-opacity="0.8"/>
<line x1="616.0" y1="1275.8" x2="621.7" y2="1275.8" stroke="#0098d2" stroke-width="0.6" stroke-opacity="0.8"/>
<line x1="372.3" y1="1399.0" x2="372.3" y2="1352.7" stroke="#53a02f" stroke-width="0.6" stroke-opacity="0.8"/>
<line x1="143.7" y1="1403.3" x2="143.7" y2="1356.0" stroke="#00a5b1" stroke-width="0.6" stroke-opacity="0.8"/>
<line x1="249.5" y1="1394.7" x2="247.3" y2="1354.6" stroke="#30a246" stroke-width="0.6" stroke-opacity="0.8"/>
<line x1="347.3" y1="1387.8" x2="347.3" y2="1364.4" stroke="#aa8c00" stroke-width="0.6" stroke-opacity="0.8"/>
<line x1="399.8" y1="1403.4" x2="394.2" y2="1364.4" stroke="#00a4b7" stroke-width="0.6" stroke-opacity="0.8"/>
<line x1="141.5" y1="1398.3" x2="141.5" y2="1368.3" stroke="#a18f00" stroke-width="0.6" stroke-opacity="0.8"/>
<line x1="197.5" y1="1397.9" x2="197.5" y2="1367.7" stroke="#d96b8c" stroke-width="0.6" stroke-opacity="0.8"/>
<line x1="295.0" y1="1414.8" x2="283.8" y2="1366.3" stroke="#a57bd8" stroke-width="0.6" stroke-opacity="0.8"/>
<line x1="357.1" y1="1415.1" x2="357.1" y2="1377.1" stroke="#b574d3" stroke-width="0.6" stroke-opacity="0.8"/>
<line x1="279.1" y1="1397.6" x2="279.1" y2="1378.5" stroke="#cf765d" stroke-width="0.6" stroke-opacity="0.8"/>
<line x1="258.4" y1="1400.1" x2="258.4" y2="1380.0" stroke="#969200" stroke-width="0.6" stroke-opacity="0.8"/>
<line x1="385.7" y1="1404.1" x2="385.7" y2="1377.1" stroke="#949300" stroke-width="0.6" stroke-opacity="0.8"/>
<line x1="197.5" y1="1412.8" x2="189.8" y2="1381.0" stroke="#009dcb" stroke-width="0.6" stroke-opacity="0.8"/>
<line x1="346.1" y1="1402.2" x2="332.8" y2="1389.8" stroke="#759b00" stroke-width="0.6" stroke-opacity="0.8"/>
<line x1="402.1" y1="1405.4" x2="385.4" y2="1388.8" stroke="#8586db" stroke-width="0.6" stroke-opacity="0.8"/>
<line x1="193.7" y1="1408.1" x2="193.7" y2="1391.8" stroke="#7b9900" stroke-width="0.6" stroke-opacity="0.8"/>
<line x1="273.0" y1="1418.0" x2="271.8" y2="1391.8" stroke="#0099d1" stroke-width="0.6" stroke-opacity="0.8"/>
<line x1="401.1" y1="1400.5" x2="401.1" y2="1345.3" stroke="#d168bb" stroke-width="0.6" stroke-opacity="0.8"/>
<line x1="417.7" y1="1377.6" x2="417.7" y2="1358.9" stroke="#37a243" stroke-width="0.6" stroke-opacity="0.8"/>
<line x1="426.3" y1="1406.8" x2="426.3" y2="1375.4" stroke="#b58701" stroke-width="0.6" stroke-opacity="0.8"/>
<line x1="427.1" y1="1395.5" x2="422.7" y2="1388.3" stroke="#009bce" stroke-width="0.6" stroke-opacity="0.8"/>
<line x1="353.4" y1="1411.2" x2="353.4" y2="1401.2" stroke="#ae77d6" stroke-width="0.6" stroke-opacity="0.8"/>
<line x1="327.2" y1="1417.7" x2="327.2" y2="1402.1" stroke="#d47172" stroke-width="0.6" stroke-opacity="0.8"/>
<line x1="259.9" y1="1412.4" x2="241.3" y2="1404.5" stroke="#00a5b3" stroke-width="0.6" stroke-opacity="0.8"/>
<line x1="315.1" y1="1415.3" x2="315.1" y2="1403.5" stroke="#a88c00" stroke-width="0.6" stroke-opacity="0.8"/>
<line x1="214.0" y1="1402.4" x2="214.0" y2="1408.8" stroke="#5c9f26" stroke-width="0.6" stroke-opacity="0.8"/>
<line x1="186.3" y1="1440.4" x2="138.6" y2="1434.3" stroke="#9f9000" stroke-width="0.6" stroke-opacity="0.8"/>
<line x1="382.6" y1="1423.9" x2="382.6" y2="1429.3" stroke="#be822c" stroke-width="0.6" stroke-opacity="0.8"/>
<line x1="259.9" y1="1442.3" x2="223.4" y2="1441.2" stroke="#00a664" stroke-width="0.6" stroke-opacity="0.8"/>
<line x1="301.9" y1="1441.3" x2="257.9" y2="1441.3" stroke="#d767aa" stroke-width="0.6" stroke-opacity="0.8"/>
<line x1="159.5" y1="1435.1" x2="148.0" y2="1438.6" stroke="#ad8a00" stroke-width="0.6" stroke-opacity="0.8"/>
<line x1="225.6" y1="1447.9" x2="187.5" y2="1447.9" stroke="#4ea033" stroke-width="0.6" stroke-opacity="0.8"/>
<line x1="337.7" y1="1450.8" x2="308.3" y2="1450.8" stroke="#d4716f" stroke-width="0.6" stroke-opacity="0.8"/>
<line x1="196.1" y1="1434.2" x2="160.0" y2="1456.9" stroke="#00a4b9" stroke-width="0.6" stroke-opacity="0.8"/>
<line x1="238.6" y1="1438.2" x2="210.6" y2="1457.3" stroke="#bd8227" stroke-width="0.6" stroke-opacity="0.8"/>
<line x1="311.5" y1="1441.8" x2="261.6" y2="1457.3" stroke="#00a66d" stroke-width="0.6" stroke-opacity="0.8"/>
<line x1="345.2" y1="1444.4" x2="320.2" y2="1457.3" stroke="#00a2be" stroke-width="0.6" stroke-opacity="0.8"/>
<line x1="396.5" y1="1447.1" x2="393.7" y2="1457.3" stroke="#d96899" stroke-width="0.6" stroke-opacity="0.8"/>
<line x1="272.3" y1="1450.1" x2="248.5" y2="1469.0" stroke="#8c9500" stroke-width="0.6" stroke-opacity="0.8"/>
<line x1="320.8" y1="1456.6" x2="295.6" y2="1469.0" stroke="#ba841c" stroke-width="0.6" stroke-opacity="0.8"/>
<line x1="352.4" y1="1448.7" x2="352.4" y2="1468.6" stroke="#00a898" stroke-width="0.6" stroke-opacity="0.8"/>
<line x1="401.0" y1="1442.3" x2="401.0" y2="1468.6" stroke="#b076d5" stroke-width="0.6" stroke-opacity="0.8"/>
<line x1="240.1" y1="1456.4" x2="227.3" y2="1482.3" stroke="#c86cc7" stroke-width="0.6" stroke-opacity="0.8"/>
<line x1="224.4" y1="1459.7" x2="224.4" y2="1502.5" stroke="#7789db" stroke-width="0.6" stroke-opacity="0.8"/>
<line x1="295.0" y1="1455.9" x2="260.7" y2="1493.1" stroke="#00a770" stroke-width="0.6" stroke-opacity="0.8"/>
<line x1="304.9" y1="1456.6" x2="275.7" y2="1481.2" stroke="#d76e7e" stroke-width="0.6" stroke-opacity="0.8"/>
<line x1="365.9" y1="1441.9" x2="337.6" y2="1480.2" stroke="#638eda" stroke-width="0.6" stroke-opacity="0.8"/>
<line x1="411.4" y1="1441.2" x2="411.4" y2="1480.9" stroke="#00a0c4" stroke-width="0.6" stroke-opacity="0.8"/>
<line x1="382.5" y1="1456.3" x2="366.5" y2="1480.2" stroke="#00a778" stroke-width="0.6" stroke-opacity="0.8"/>
<line x1="344.6" y1="1463.0" x2="300.4" y2="1493.1" stroke="#3994d6" stroke-width="0.6" stroke-opacity="0.8"/>
<line x1="376.8" y1="1450.6" x2="376.8" y2="1493.1" stroke="#7e9900" stroke-width="0.6" stroke-opacity="0.8"/>
<line x1="365.0" y1="1448.0" x2="353.5" y2="1492.4" stroke="#649d1b" stroke-width="0.6" stroke-opacity="0.8"/>
<line x1="316.0" y1="1457.2" x2="282.2" y2="1505.0" stroke="#2196d4" stroke-width="0.6" stroke-opacity="0.8"/>
<line x1="345.7" y1="1448.2" x2="324.2" y2="1505.0" stroke="#009ccd" stroke-width="0.6" stroke-opacity="0.8"/>
<line x1="364.2" y1="1453.1" x2="364.2" y2="1505.0" stroke="#00a3bd" stroke-width="0.6" stroke-opacity="0.8"/>
<line x1="403.6" y1="1450.7" x2="403.6" y2="1505.0" stroke="#d66f7b" stroke-width="0.6" stroke-opacity="0.8"/>
<line x1="429.2" y1="1437.2" x2="429.2" y2="1453.4" stroke="#009fc7" stroke-width="0.6" stroke-opacity="0.8"/>
<line x1="601.8" y1="1314.2" x2="590.9" y2="1295.1" stroke="#ca7a4f" stroke-width="0.6" stroke-opacity="0.8"/>
<line x1="541.8" y1="1369.8" x2="531.2" y2="1322.3" stroke="#00a3bb" stroke-width="0.6" stroke-opacity="0.8"/>
<line x1="587.3" y1="1342.4" x2="587.3" y2="1320.5" stroke="#d96a91" stroke-width="0.6" stroke-opacity="0.8"/>
<line x1="544.4" y1="1360.4" x2="544.4" y2="1334.2" stroke="#b873d2" stroke-width="0.6" stroke-opacity="0.8"/>
<line x1="585.6" y1="1341.5" x2="585.6" y2="1334.2" stroke="#9481db" stroke-width="0.6" stroke-opacity="0.8"/>
<line x1="531.3" y1="1366.4" x2="531.3" y2="1346.7" stroke="#d86c83" stroke-width="0.6" stroke-opacity="0.8"/>
<line x1="591.9" y1="1343.0" x2="581.2" y2="1343.0" stroke="#00a89a" stroke-width="0.6" stroke-opacity="0.8"/>
<line x1="446.8" y1="1385.5" x2="446.8" y2="1351.0" stroke="#00a880" stroke-width="0.6" stroke-opacity="0.8"/>
<line x1="494.4" y1="1361.7" x2="494.4" y2="1351.0" stroke="#cc7856" stroke-width="0.6" stroke-opacity="0.8"/>
<line x1="537.2" y1="1372.3" x2="531.7" y2="1358.9" stroke="#00a4b5" stroke-width="0.6" stroke-opacity="0.8"/>
<line x1="466.3" y1="1380.9" x2="464.6" y2="1363.2" stroke="#00a66a" stroke-width="0.6" stroke-opacity="0.8"/>
<line x1="499.0" y1="1379.7" x2="499.0" y2="1371.1" stroke="#cf69bf" stroke-width="0.6" stroke-opacity="0.8"/>
<line x1="476.4" y1="1391.7" x2="476.4" y2="1375.4" stroke="#609e21" stroke-width="0.6" stroke-opacity="0.8"/>
<line x1="475.1" y1="1394.1" x2="460.8" y2="1387.6" stroke="#ab78d7" stroke-width="0.6" stroke-opacity="0.8"/>
<line x1="525.0" y1="1401.2" x2="552.7" y2="1396.2" stroke="#af8900" stroke-width="0.6" stroke-opacity="0.8"/>
<line x1="626.8" y1="1296.4" x2="666.2" y2="1291.1" stroke="#1ca34d" stroke-width="0.6" stroke-opacity="0.8"/>
<line x1="625.7" y1="1292.1" x2="637.9" y2="1295.4" stroke="#789a00" stroke-width="0.6" stroke-opacity="0.8"/>
<line x1="604.7" y1="1320.3" x2="612.5" y2="1320.8" stroke="#a48e00" stroke-width="0.6" stroke-opacity="0.8"/>
<line x1="614.4" y1="1333.6" x2="640.8" y2="1333.6" stroke="#d268b9" stroke-width="0.6" stroke-opacity="0.8"/>
<line x1="636.0" y1="1343.0" x2="676.4" y2="1345.6" stroke="#5790d9" stroke-width="0.6" stroke-opacity="0.8"/>
<line x1="607.2" y1="1349.2" x2="640.8" y2="1349.2" stroke="#00a775" stroke-width="0.6" stroke-opacity="0.8"/>
<line x1="569.3" y1="1356.6" x2="590.0" y2="1356.6" stroke="#0b97d3" stroke-width="0.6" stroke-opacity="0.8"/>
<line x1="587.6" y1="1367.0" x2="615.4" y2="1367.0" stroke="#00a6ac" stroke-width="0.6" stroke-opacity="0.8"/>
<line x1="559.5" y1="1386.4" x2="584.5" y2="1383.9" stroke="#00a7a1" stroke-width="0.6" stroke-opacity="0.8"/>
<line x1="583.5" y1="1390.3" x2="615.4" y2="1390.3" stroke="#589f2b" stroke-width="0.6" stroke-opacity="0.8"/>
<line x1="568.0" y1="1390.9" x2="593.5" y2="1397.1" stroke="#c77c44" stroke-width="0.6" stroke-opacity="0.8"/>
<line x1="599.1" y1="1415.7" x2="621.4" y2="1415.7" stroke="#bb8322" stroke-width="0.6" stroke-opacity="0.8"/>
<line x1="571.0" y1="1421.6" x2="583.5" y2="1416.9" stroke="#00a55e" stroke-width="0.6" stroke-opacity="0.8"/>
<line x1="468.4" y1="1431.9" x2="468.4" y2="1426.6" stroke="#00a88b" stroke-width="0.6" stroke-opacity="0.8"/>
<line x1="501.3" y1="1428.6" x2="520.4" y2="1428.6" stroke="#009ec8" stroke-width="0.6" stroke-opacity="0.8"/>
<line x1="546.1" y1="1438.5" x2="562.3" y2="1438.5" stroke="#8a9600" stroke-width="0.6" stroke-opacity="0.8"/>
<line x1="562.4" y1="1438.8" x2="597.8" y2="1438.8" stroke="#819800" stroke-width="0.6" stroke-opacity="0.8"/>
<line x1="619.0" y1="1429.2" x2="636.5" y2="1433.6" stroke="#c66cc9" stroke-width="0.6" stroke-opacity="0.8"/>
<line x1="508.2" y1="1433.3" x2="517.2" y2="1436.9" stroke="#9f7dda" stroke-width="0.6" stroke-opacity="0.8"/>
<line x1="602.5" y1="1443.7" x2="613.9" y2="1446.1" stroke="#c26ecc" stroke-width="0.6" stroke-opacity="0.8"/>
<line x1="560.1" y1="1433.7" x2="573.7" y2="1449.1" stroke="#c46dca" stroke-width="0.6" stroke-opacity="0.8"/>
<line x1="431.6" y1="1443.8" x2="431.6" y2="1449.8" stroke="#00a77b" stroke-width="0.6" stroke-opacity="0.8"/>
<line x1="469.1" y1="1438.6" x2="469.1" y2="1450.8" stroke="#d867a7" stroke-width="0.6" stroke-opacity="0.8"/>
<line x1="511.9" y1="1435.1" x2="511.9" y2="1450.8" stroke="#00a893" stroke-width="0.6" stroke-opacity="0.8"/>
<line x1="508.8" y1="1432.0" x2="526.8" y2="1450.8" stroke="#919400" stroke-width="0.6" stroke-opacity="0.8"/>
<line x1="614.7" y1="1439.3" x2="662.7" y2="1455.8" stroke="#00a88e" stroke-width="0.6" stroke-opacity="0.8"/>
<line x1="433.4" y1="1444.3" x2="433.4" y2="1464.2" stroke="#d867a5" stroke-width="0.6" stroke-opacity="0.8"/>
<line x1="443.8" y1="1439.1" x2="443.8" y2="1462.7" stroke="#d76d81" stroke-width="0.6" stroke-opacity="0.8"/>
<line x1="476.1" y1="1437.1" x2="486.0" y2="1462.7" stroke="#738adb" stroke-width="0.6" stroke-opacity="0.8"/>
<line x1="492.7" y1="1439.5" x2="524.7" y2="1462.7" stroke="#698dda" stroke-width="0.6" stroke-opacity="0.8"/>
<line x1="512.4" y1="1444.0" x2="554.3" y2="1463.7" stroke="#00a772" stroke-width="0.6" stroke-opacity="0.8"/>
<line x1="575.1" y1="1439.6" x2="577.3" y2="1461.6" stroke="#b18800" stroke-width="0.6" stroke-opacity="0.8"/>
<line x1="465.7" y1="1441.2" x2="465.7" y2="1474.5" stroke="#00a1c2" stroke-width="0.6" stroke-opacity="0.8"/>
<line x1="487.2" y1="1440.4" x2="495.7" y2="1474.5" stroke="#d27369" stroke-width="0.6" stroke-opacity="0.8"/>
<line x1="531.1" y1="1453.2" x2="531.1" y2="1475.6" stroke="#ce7759" stroke-width="0.6" stroke-opacity="0.8"/>
<line x1="545.3" y1="1433.8" x2="578.4" y2="1473.4" stroke="#bc71d0" stroke-width="0.6" stroke-opacity="0.8"/>
<line x1="586.3" y1="1443.2" x2="610.7" y2="1473.4" stroke="#9182db" stroke-width="0.6" stroke-opacity="0.8"/>
<line x1="458.8" y1="1447.6" x2="458.8" y2="1479.9" stroke="#d66f78" stroke-width="0.6" stroke-opacity="0.8"/>
<line x1="482.7" y1="1438.2" x2="482.7" y2="1487.0" stroke="#49a138" stroke-width="0.6" stroke-opacity="0.8"/>
<line x1="515.9" y1="1439.6" x2="515.9" y2="1487.4" stroke="#d07563" stroke-width="0.6" stroke-opacity="0.8"/>
<line x1="539.8" y1="1437.6" x2="569.8" y2="1487.4" stroke="#8984db" stroke-width="0.6" stroke-opacity="0.8"/>
<line x1="597.0" y1="1439.7" x2="597.0" y2="1487.8" stroke="#d567b3" stroke-width="0.6" stroke-opacity="0.8"/>
<line x1="420.3" y1="1457.4" x2="420.3" y2="1491.7" stroke="#009acf" stroke-width="0.6" stroke-opacity="0.8"/>
<line x1="439.9" y1="1448.6" x2="439.9" y2="1492.1" stroke="#989200" stroke-width="0.6" stroke-opacity="0.8"/>
<line x1="480.4" y1="1451.1" x2="481.7" y2="1499.2" stroke="#9b9100" stroke-width="0.6" stroke-opacity="0.8"/>
<line x1="539.8" y1="1438.7" x2="554.8" y2="1499.9" stroke="#4293d7" stroke-width="0.6" stroke-opacity="0.8"/>
<line x1="557.5" y1="1448.6" x2="561.7" y2="1500.3" stroke="#a879d8" stroke-width="0.6" stroke-opacity="0.8"/>
<line x1="633.3" y1="1457.7" x2="642.9" y2="1499.2" stroke="#a27cd9" stroke-width="0.6" stroke-opacity="0.8"/>
<line x1="510.0" y1="1458.7" x2="510.0" y2="1504.6" stroke="#8f9500" stroke-width="0.6" stroke-opacity="0.8"/>
<line x1="441.0" y1="1449.3" x2="441.0" y2="1504.6" stroke="#b38800" stroke-width="0.6" stroke-opacity="0.8"/>
<line x1="464.7" y1="1439.7" x2="464.7" y2="1504.6" stroke="#8087db" stroke-width="0.6" stroke-opacity="0.8"/>
<line x1="425.9" y1="1437.8" x2="419.7" y2="1441.0" stroke="#879700" stroke-width="0.6" stroke-opacity="0.8"/>
<circle cx="464.4" cy="1109.4" r="1.9" fill="#d967a0"/>
<circle cx="528.2" cy="1123.7" r="1.9" fill="#ce69c0"/>
<circle cx="569.9" cy="1129.4" r="1.9" fill="#00a457"/>
<circle cx="544.8" cy="1132.2" r="1.9" fill="#00a454"/>
<circle cx="596.6" cy="1140.2" r="1.9" fill="#d86b89"/>
<circle cx="510.0" cy="1169.3" r="1.9" fill="#8d83db"/>
<circle cx="426.7" cy="1178.9" r="1.9" fill="#6e8cdb"/>
<circle cx="510.4" cy="1203.3" r="1.9" fill="#00a7a3"/>
<circle cx="486.7" cy="1221.8" r="1.9" fill="#d9689e"/>
<circle cx="615.5" cy="1229.8" r="1.9" fill="#b375d4"/>
<circle cx="605.0" cy="1244.6" r="1.9" fill="#00a883"/>
<circle cx="601.8" cy="1250.3" r="1.9" fill="#cf7660"/>
<circle cx="630.3" cy="1253.5" r="1.9" fill="#00a0c5"/>
<circle cx="420.6" cy="1266.2" r="1.9" fill="#d467b5"/>
<circle cx="594.8" cy="1261.7" r="1.9" fill="#44a13b"/>
<circle cx="516.3" cy="1272.4" r="1.9" fill="#c57d41"/>
<circle cx="557.8" cy="1272.4" r="1.9" fill="#00a886"/>
<circle cx="530.0" cy="1273.5" r="1.9" fill="#9d9000"/>
<circle cx="579.0" cy="1269.0" r="1.9" fill="#3ea13f"/>
<circle cx="616.0" cy="1275.8" r="1.9" fill="#0098d2"/>
<circle cx="210.5" cy="1295.1" r="1.9" fill="#d3726c"/>
<circle cx="376.7" cy="1272.6" r="1.9" fill="#009dca"/>
<circle cx="338.0" cy="1300.4" r="1.9" fill="#00a7a6"/>
<circle cx="361.4" cy="1309.7" r="1.9" fill="#d068bd"/>
<circle cx="273.9" cy="1343.3" r="1.9" fill="#d96996"/>
<circle cx="294.0" cy="1342.4" r="1.9" fill="#d57075"/>
<circle cx="372.3" cy="1399.0" r="1.9" fill="#53a02f"/>
<circle cx="143.7" cy="1403.3" r="1.9" fill="#00a5b1"/>
<circle cx="249.5" cy="1394.7" r="1.9" fill="#30a246"/>
<circle cx="347.3" cy="1387.8" r="1.9" fill="#aa8c00"/>
<circle cx="399.8" cy="1403.4" r="1.9" fill="#00a4b7"/>
<circle cx="141.5" cy="1398.3" r="1.9" fill="#a18f00"/>
<circle cx="197.5" cy="1397.9" r="1.9" fill="#d96b8c"/>
<circle cx="295.0" cy="1414.8" r="1.9" fill="#a57bd8"/>
<circle cx="357.1" cy="1415.1" r="1.9" fill="#b574d3"/>
<circle cx="279.1" cy="1397.6" r="1.9" fill="#cf765d"/>
<circle cx="258.4" cy="1400.1" r="1.9" fill="#969200"/>
<circle cx="385.7" cy="1404.1" r="1.9" fill="#949300"/>
<circle cx="197.5" cy="1412.8" r="1.9" fill="#009dcb"/>
<circle cx="346.1" cy="1402.2" r="1.9" fill="#759b00"/>
<circle cx="402.1" cy="1405.4" r="1.9" fill="#8586db"/>
<circle cx="193.7" cy="1408.1" r="1.9" fill="#7b9900"/>
<circle cx="273.0" cy="1418.0" r="1.9" fill="#0099d1"/>
<circle cx="382.7" cy="1335.7" r="1.9" fill="#679d14"/>
<circle cx="401.1" cy="1400.5" r="1.9" fill="#d168bb"/>
<circle cx="417.7" cy="1377.6" r="1.9" fill="#37a243"/>
<circle cx="426.3" cy="1406.8" r="1.9" fill="#b58701"/>
<circle cx="427.1" cy="1395.5" r="1.9" fill="#009bce"/>
<circle cx="353.4" cy="1411.2" r="1.9" fill="#ae77d6"/>
<circle cx="327.2" cy="1417.7" r="1.9" fill="#d47172"/>
<circle cx="175.7" cy="1405.5" r="1.9" fill="#ac8b00"/>
<circle cx="259.9" cy="1412.4" r="1.9" fill="#00a5b3"/>
<circle cx="315.1" cy="1415.3" r="1.9" fill="#a88c00"/>
<circle cx="350.9" cy="1416.1" r="1.9" fill="#d567b0"/>
<circle cx="369.1" cy="1416.1" r="1.9" fill="#09a451"/>
<circle cx="402.7" cy="1414.4" r="1.9" fill="#7c88db"/>
<circle cx="143.8" cy="1417.9" r="1.9" fill="#cc6ac2"/>
<circle cx="187.2" cy="1420.4" r="1.9" fill="#00a6a8"/>
<circle cx="214.0" cy="1402.4" r="1.9" fill="#5c9f26"/>
<circle cx="268.2" cy="1417.9" r="1.9" fill="#d767ac"/>
<circle cx="160.5" cy="1430.7" r="1.9" fill="#00a667"/>
<circle cx="238.5" cy="1430.2" r="1.9" fill="#ba72d1"/>
<circle cx="317.6" cy="1430.9" r="1.9" fill="#c47e3d"/>
<circle cx="346.0" cy="1415.3" r="1.9" fill="#00a561"/>
<circle cx="390.2" cy="1414.3" r="1.9" fill="#00a79c"/>
<circle cx="186.3" cy="1440.4" r="1.9" fill="#9f9000"/>
<circle cx="280.6" cy="1434.7" r="1.9" fill="#a68d00"/>
<circle cx="382.6" cy="1423.9" r="1.9" fill="#be822c"/>
<circle cx="259.9" cy="1442.3" r="1.9" fill="#00a664"/>
<circle cx="322.3" cy="1444.6" r="1.9" fill="#00a79f"/>
<circle cx="333.4" cy="1443.9" r="1.9" fill="#00a895"/>
<circle cx="301.9" cy="1441.3" r="1.9" fill="#d767aa"/>
<circle cx="159.5" cy="1435.1" r="1.9" fill="#ad8a00"/>
<circle cx="225.6" cy="1447.9" r="1.9" fill="#4ea033"/>
<circle cx="244.0" cy="1447.2" r="1.9" fill="#c16fcd"/>
<circle cx="337.7" cy="1450.8" r="1.9" fill="#d4716f"/>
<circle cx="366.7" cy="1448.7" r="1.9" fill="#b88515"/>
<circle cx="413.1" cy="1437.1" r="1.9" fill="#6f9c00"/>
<circle cx="196.1" cy="1434.2" r="1.9" fill="#00a4b9"/>
<circle cx="238.6" cy="1438.2" r="1.9" fill="#bd8227"/>
<circle cx="311.5" cy="1441.8" r="1.9" fill="#00a66d"/>
<circle cx="345.2" cy="1444.4" r="1.9" fill="#00a2be"/>
<circle cx="396.5" cy="1447.1" r="1.9" fill="#d96899"/>
<circle cx="272.3" cy="1450.1" r="1.9" fill="#8c9500"/>
<circle cx="320.8" cy="1456.6" r="1.9" fill="#ba841c"/>
<circle cx="352.4" cy="1448.7" r="1.9" fill="#00a898"/>
<circle cx="401.0" cy="1442.3" r="1.9" fill="#b076d5"/>
<circle cx="240.1" cy="1456.4" r="1.9" fill="#c86cc7"/>
<circle cx="224.4" cy="1459.7" r="1.9" fill="#7789db"/>
<circle cx="295.0" cy="1455.9" r="1.9" fill="#00a770"/>
<circle cx="304.9" cy="1456.6" r="1.9" fill="#d76e7e"/>
<circle cx="365.9" cy="1441.9" r="1.9" fill="#638eda"/>
<circle cx="411.4" cy="1441.2" r="1.9" fill="#00a0c4"/>
<circle cx="382.5" cy="1456.3" r="1.9" fill="#00a778"/>
<circle cx="344.6" cy="1463.0" r="1.9" fill="#3994d6"/>
<circle cx="376.8" cy="1450.6" r="1.9" fill="#7e9900"/>
<circle cx="365.0" cy="1448.0" r="1.9" fill="#649d1b"/>
<circle cx="316.0" cy="1457.2" r="1.9" fill="#2196d4"/>
<circle cx="345.7" cy="1448.2" r="1.9" fill="#009ccd"/>
<circle cx="364.2" cy="1453.1" r="1.9" fill="#00a3bd"/>
<circle cx="403.6" cy="1450.7" r="1.9" fill="#d66f7b"/>
<circle cx="429.2" cy="1437.2" r="1.9" fill="#009fc7"/>
<circle cx="496.4" cy="1294.3" r="1.9" fill="#00a6aa"/>
<circle cx="545.0" cy="1298.5" r="1.9" fill="#00a888"/>
<circle cx="601.8" cy="1314.2" r="1.9" fill="#ca7a4f"/>
<circle cx="496.1" cy="1306.2" r="1.9" fill="#00a890"/>
<circle cx="531.2" cy="1310.8" r="1.9" fill="#5d8fd9"/>
<circle cx="577.1" cy="1309.8" r="1.9" fill="#849700"/>
<circle cx="490.6" cy="1322.0" r="1.9" fill="#00a1c0"/>
<circle cx="541.8" cy="1369.8" r="1.9" fill="#00a3bb"/>
<circle cx="587.3" cy="1342.4" r="1.9" fill="#d96a91"/>
<circle cx="447.7" cy="1328.0" r="1.9" fill="#d17466"/>
<circle cx="544.4" cy="1360.4" r="1.9" fill="#b873d2"/>
<circle cx="585.6" cy="1341.5" r="1.9" fill="#9481db"/>
<circle cx="475.3" cy="1330.5" r="1.9" fill="#00a77e"/>
<circle cx="531.3" cy="1366.4" r="1.9" fill="#d86c83"/>
<circle cx="591.9" cy="1343.0" r="1.9" fill="#00a89a"/>
<circle cx="446.8" cy="1385.5" r="1.9" fill="#00a880"/>
<circle cx="494.4" cy="1361.7" r="1.9" fill="#cc7856"/>
<circle cx="537.2" cy="1372.3" r="1.9" fill="#00a4b5"/>
<circle cx="586.2" cy="1350.3" r="1.9" fill="#d867a3"/>
<circle cx="466.3" cy="1380.9" r="1.9" fill="#00a66a"/>
<circle cx="499.0" cy="1379.7" r="1.9" fill="#cf69bf"/>
<circle cx="544.9" cy="1359.3" r="1.9" fill="#9b7eda"/>
<circle cx="586.5" cy="1359.5" r="1.9" fill="#d96994"/>
<circle cx="476.4" cy="1391.7" r="1.9" fill="#609e21"/>
<circle cx="561.2" cy="1371.9" r="1.9" fill="#c18035"/>
<circle cx="475.1" cy="1394.1" r="1.9" fill="#ab78d7"/>
<circle cx="494.0" cy="1392.8" r="1.9" fill="#d667ae"/>
<circle cx="510.4" cy="1376.4" r="1.9" fill="#27a34a"/>
<circle cx="525.0" cy="1401.2" r="1.9" fill="#af8900"/>
<circle cx="462.7" cy="1401.8" r="1.9" fill="#cb6ac4"/>
<circle cx="494.3" cy="1401.0" r="1.9" fill="#be70cf"/>
<circle cx="531.3" cy="1403.7" r="1.9" fill="#729b00"/>
<circle cx="626.8" cy="1296.4" r="1.9" fill="#1ca34d"/>
<circle cx="594.5" cy="1292.5" r="1.9" fill="#d96a8e"/>
<circle cx="590.4" cy="1306.2" r="1.9" fill="#c08130"/>
<circle cx="625.7" cy="1292.1" r="1.9" fill="#789a00"/>
<circle cx="641.3" cy="1302.6" r="1.9" fill="#00a6af"/>
<circle cx="604.7" cy="1320.3" r="1.9" fill="#a48e00"/>
<circle cx="648.6" cy="1317.6" r="1.9" fill="#d367b7"/>
<circle cx="614.4" cy="1333.6" r="1.9" fill="#d268b9"/>
<circle cx="609.3" cy="1347.6" r="1.9" fill="#c97b4c"/>
<circle cx="636.0" cy="1343.0" r="1.9" fill="#5790d9"/>
<circle cx="607.2" cy="1349.2" r="1.9" fill="#00a775"/>
<circle cx="569.3" cy="1356.6" r="1.9" fill="#0b97d3"/>
<circle cx="587.6" cy="1367.0" r="1.9" fill="#00a6ac"/>
<circle cx="559.5" cy="1386.4" r="1.9" fill="#00a7a1"/>
<circle cx="583.5" cy="1390.3" r="1.9" fill="#589f2b"/>
<circle cx="568.0" cy="1390.9" r="1.9" fill="#c77c44"/>
<circle cx="599.1" cy="1415.7" r="1.9" fill="#bb8322"/>
<circle cx="571.0" cy="1421.6" r="1.9" fill="#00a55e"/>
<circle cx="546.2" cy="1421.7" r="1.9" fill="#5191d8"/>
<circle cx="620.8" cy="1419.9" r="1.9" fill="#d86c86"/>
<circle cx="580.6" cy="1428.8" r="1.9" fill="#987fdb"/>
<circle cx="448.3" cy="1403.2" r="1.9" fill="#6b9c0b"/>
<circle cx="480.9" cy="1415.7" r="1.9" fill="#cb7953"/>
<circle cx="506.3" cy="1405.3" r="1.9" fill="#c37f39"/>
<circle cx="468.4" cy="1431.9" r="1.9" fill="#00a88b"/>
<circle cx="465.5" cy="1425.3" r="1.9" fill="#c87c48"/>
<circle cx="510.1" cy="1428.2" r="1.9" fill="#4a92d7"/>
<circle cx="501.3" cy="1428.6" r="1.9" fill="#009ec8"/>
<circle cx="432.7" cy="1435.2" r="1.9" fill="#00a55a"/>
<circle cx="464.1" cy="1434.5" r="1.9" fill="#d9689b"/>
<circle cx="470.8" cy="1442.7" r="1.9" fill="#b6860c"/>
<circle cx="546.1" cy="1438.5" r="1.9" fill="#8a9600"/>
<circle cx="562.4" cy="1438.8" r="1.9" fill="#819800"/>
<circle cx="619.0" cy="1429.2" r="1.9" fill="#c66cc9"/>
<circle cx="508.2" cy="1433.3" r="1.9" fill="#9f7dda"/>
<circle cx="602.5" cy="1443.7" r="1.9" fill="#c26ecc"/>
<circle cx="560.1" cy="1433.7" r="1.9" fill="#c46dca"/>
<circle cx="431.6" cy="1443.8" r="1.9" fill="#00a77b"/>
<circle cx="469.1" cy="1438.6" r="1.9" fill="#d867a7"/>
<circle cx="511.9" cy="1435.1" r="1.9" fill="#00a893"/>
<circle cx="508.8" cy="1432.0" r="1.9" fill="#919400"/>
<circle cx="614.7" cy="1439.3" r="1.9" fill="#00a88e"/>
<circle cx="433.4" cy="1444.3" r="1.9" fill="#d867a5"/>
<circle cx="443.8" cy="1439.1" r="1.9" fill="#d76d81"/>
<circle cx="476.1" cy="1437.1" r="1.9" fill="#738adb"/>
<circle cx="492.7" cy="1439.5" r="1.9" fill="#698dda"/>
<circle cx="512.4" cy="1444.0" r="1.9" fill="#00a772"/>
<circle cx="575.1" cy="1439.6" r="1.9" fill="#b18800"/>
<circle cx="465.7" cy="1441.2" r="1.9" fill="#00a1c2"/>
<circle cx="487.2" cy="1440.4" r="1.9" fill="#d27369"/>
<circle cx="531.1" cy="1453.2" r="1.9" fill="#ce7759"/>
<circle cx="545.3" cy="1433.8" r="1.9" fill="#bc71d0"/>
<circle cx="586.3" cy="1443.2" r="1.9" fill="#9182db"/>
<circle cx="458.8" cy="1447.6" r="1.9" fill="#d66f78"/>
<circle cx="482.7" cy="1438.2" r="1.9" fill="#49a138"/>
<circle cx="515.9" cy="1439.6" r="1.9" fill="#d07563"/>
<circle cx="539.8" cy="1437.6" r="1.9" fill="#8984db"/>
<circle cx="597.0" cy="1439.7" r="1.9" fill="#d567b3"/>
<circle cx="420.3" cy="1457.4" r="1.9" fill="#009acf"/>
<circle cx="439.9" cy="1448.6" r="1.9" fill="#989200"/>
<circle cx="480.4" cy="1451.1" r="1.9" fill="#9b9100"/>
<circle cx="539.8" cy="1438.7" r="1.9" fill="#4293d7"/>
<circle cx="557.5" cy="1448.6" r="1.9" fill="#a879d8"/>
<circle cx="633.3" cy="1457.7" r="1.9" fill="#a27cd9"/>
<circle cx="510.0" cy="1458.7" r="1.9" fill="#8f9500"/>
<circle cx="441.0" cy="1449.3" r="1.9" fill="#b38800"/>
<circle cx="464.7" cy="1439.7" r="1.9" fill="#8087db"/>
<circle cx="425.9" cy="1437.8" r="1.9" fill="#879700"/>
<text x="460.3" y="1106.0" font-size="8.7" fill="#d967a0">Tunisia</text>
<text x="506.1" y="1120.1" font-size="8.7" fill="#ce69c0">Spain</text>
<text x="559.0" y="1125.8" font-size="8.7" fill="#00a457">Greenland</text>
<text x="519.5" y="1142.4" font-size="8.7" fill="#00a454">Greece</text>
<text x="555.6" y="1150.4" font-size="8.7" fill="#d86b89">United States of America</text>
<text x="502.7" y="1165.9" font-size="8.7" fill="#8d83db">Portugal</text>
<text x="397.8" y="1189.2" font-size="8.7" fill="#6e8cdb">Palestine</text>
<text x="481.9" y="1213.1" font-size="8.7" fill="#00a7a3">Lebanon</text>
<text x="460.3" y="1231.4" font-size="8.7" fill="#d9689e">Türkiye</text>
<text x="602.3" y="1226.3" font-size="8.7" fill="#b375d4">San Marino</text>
<text x="600.5" y="1240.9" font-size="8.7" fill="#00a883">Ireland</text>
<text x="563.5" y="1253.0" font-size="8.7" fill="#cf7660">Andorra</text>
<text x="634.9" y="1253.0" font-size="8.7" fill="#00a0c5">Monaco</text>
<text x="386.8" y="1262.8" font-size="8.7" fill="#d467b5">Syrian Arab Republic</text>
<text x="599.3" y="1264.9" font-size="8.7" fill="#44a13b">Finland</text>
<text x="490.6" y="1268.5" font-size="8.7" fill="#c57d41">Bahrain</text>
<text x="535.7" y="1269.0" font-size="8.7" fill="#00a886">Israel</text>
<text x="504.9" y="1282.7" font-size="8.7" fill="#9d9000">Chile</text>
<text x="553.3" y="1282.0" font-size="8.7" fill="#3ea13f">France</text>
<text x="621.7" y="1277.0" font-size="8.7" fill="#0098d2">Netherlands</text>
<text x="195.7" y="1291.2" font-size="8.7" fill="#d3726c">Afghanistan</text>
<text x="348.7" y="1282.4" font-size="8.7" fill="#009dca">Morocco</text>
<text x="311.2" y="1296.4" font-size="8.7" fill="#00a7a6">Lesotho</text>
<text x="358.1" y="1319.5" font-size="8.7" fill="#d068bd">Sudan</text>
<text x="238.3" y="1340.0" font-size="8.7" fill="#d96996">Uganda</text>
<text x="290.7" y="1338.5" font-size="8.7" fill="#d57075">Yemen</text>
<text x="344.2" y="1351.2" font-size="8.7" fill="#53a02f">Eswatini</text>
<text x="135.7" y="1354.5" font-size="8.7" fill="#00a5b1">Madagascar</text>
<text x="215.4" y="1353.1" font-size="8.7" fill="#30a246">Gambia</text>
<text x="308.3" y="1362.9" font-size="8.7" fill="#aa8c00">Cabo Verde</text>
<text x="357.5" y="1362.9" font-size="8.7" fill="#00a4b7">Maldives</text>
<text x="83.5" y="1366.8" font-size="8.7" fill="#a18f00">Central African Republic</text>
<text x="148.0" y="1366.2" font-size="8.7" fill="#d96b8c">United Republic of Tanzania</text>
<text x="250.4" y="1364.8" font-size="8.7" fill="#a57bd8">Rwanda</text>
<text x="278.9" y="1375.6" font-size="8.7" fill="#b574d3">Sao Tome and Principe</text>
<text x="270.5" y="1377.0" font-size="8.7" fill="#cf765d">Angola</text>
<text x="225.6" y="1378.5" font-size="8.7" fill="#969200">Comoros</text>
<text x="365.7" y="1375.6" font-size="8.7" fill="#949300">Congo</text>
<text x="137.1" y="1379.5" font-size="8.7" fill="#009dcb">Mozambique</text>
<text x="300.4" y="1388.3" font-size="8.7" fill="#759b00">Djibouti</text>
<text x="339.0" y="1387.3" font-size="8.7" fill="#8586db">Philippines</text>
<text x="120.1" y="1390.3" font-size="8.7" fill="#7b9900">Democratic Republic of the Congo</text>
<text x="248.1" y="1390.3" font-size="8.7" fill="#0099d1">Nepal</text>
<text x="377.6" y="1332.2" font-size="8.7" fill="#679d14">Egypt</text>
<text x="385.0" y="1343.8" font-size="8.7" fill="#d168bb">Suriname</text>
<text x="398.6" y="1357.4" font-size="8.7" fill="#37a243">Gabon</text>
<text x="389.3" y="1373.9" font-size="8.7" fill="#b58701">Botswana</text>
<text x="388.9" y="1386.8" font-size="8.7" fill="#009bce">Namibia</text>
<text x="309.2" y="1399.7" font-size="8.7" fill="#ae77d6">Saint Vincent and the Grenadines</text>
<text x="319.3" y="1400.6" font-size="8.7" fill="#d47172">Zambia</text>
<text x="138.6" y="1403.6" font-size="8.7" fill="#ac8b00">Burundi</text>
<text x="212.8" y="1403.0" font-size="8.7" fill="#00a5b3">Malawi</text>
<text x="277.3" y="1402.0" font-size="8.7" fill="#a88c00">Cambodia</text>
<text x="324.2" y="1412.4" font-size="8.7" fill="#d567b0">Tajikistan</text>
<text x="360.8" y="1412.4" font-size="8.7" fill="#09a451">Ghana</text>
<text x="385.8" y="1412.4" font-size="8.7" fill="#7c88db">Paraguay</text>
<text x="103.6" y="1415.8" font-size="8.7" fill="#cc6ac2">South Sudan</text>
<text x="176.3" y="1415.7" font-size="8.7" fill="#00a6a8">Liberia</text>
<text x="209.9" y="1415.3" font-size="8.7" fill="#5c9f26">Eritrea</text>
<text x="245.1" y="1414.9" font-size="8.7" fill="#d767ac">Timor-Leste</text>
<text x="145.4" y="1428.0" font-size="8.7" fill="#00a667">Guinea-Bissau</text>
<text x="225.1" y="1427.0" font-size="8.7" fill="#ba72d1">Senegal</text>
<text x="285.7" y="1425.5" font-size="8.7" fill="#c47e3d">Bangladesh</text>
<text x="332.0" y="1424.7" font-size="8.7" fill="#00a561">Guatemala</text>
<text x="381.9" y="1424.7" font-size="8.7" fill="#00a79c">Kyrgyzstan</text>
<text x="116.9" y="1432.8" font-size="8.7" fill="#9f9000">Chad</text>
<text x="253.9" y="1431.9" font-size="8.7" fill="#a68d00">Cameroon</text>
<text x="364.3" y="1435.8" font-size="8.7" fill="#be822c">Belize</text>
<text x="193.9" y="1439.7" font-size="8.7" fill="#00a664">Guinea</text>
<text x="235.0" y="1439.4" font-size="8.7" fill="#00a79f">Lao People's Democratic Republic</text>
<text x="322.0" y="1439.5" font-size="8.7" fill="#00a895">Kenya</text>
<text x="237.3" y="1444.2" font-size="8.7" fill="#d767aa">Togo</text>
<text x="92.9" y="1445.1" font-size="8.7" fill="#ad8a00">Burkina Faso</text>
<text x="153.2" y="1450.1" font-size="8.7" fill="#4ea033">Ethiopia</text>
<text x="190.7" y="1452.0" font-size="8.7" fill="#c16fcd">Sierra Leone</text>
<text x="265.8" y="1451.6" font-size="8.7" fill="#d4716f">Zimbabwe</text>
<text x="298.9" y="1452.3" font-size="8.7" fill="#b88515">Bolivia (Plurinational State of)</text>
<text x="358.0" y="1447.2" font-size="8.7" fill="#6f9c00">Dominican Republic</text>
<text x="143.1" y="1463.4" font-size="8.7" fill="#00a4b9">Mali</text>
<text x="186.4" y="1463.8" font-size="8.7" fill="#bd8227">Benin</text>
<text x="242.7" y="1463.8" font-size="8.7" fill="#00a66d">Haiti</text>
<text x="276.7" y="1463.8" font-size="8.7" fill="#00a2be">Mauritania</text>
<text x="366.3" y="1463.8" font-size="8.7" fill="#d96899">Tuvalu</text>
<text x="196.2" y="1475.5" font-size="8.7" fill="#8c9500">Côte d'Ivoire</text>
<text x="265.6" y="1475.5" font-size="8.7" fill="#ba841c">Bhutan</text>
<text x="325.5" y="1475.1" font-size="8.7" fill="#00a898">Kiribati</text>
<text x="384.9" y="1475.1" font-size="8.7" fill="#b076d5">Samoa</text>
<text x="157.7" y="1488.8" font-size="8.7" fill="#c86cc7">Solomon Islands</text>
<text x="151.8" y="1509.0" font-size="8.7" fill="#7789db">Papua New Guinea</text>
<text x="220.1" y="1499.6" font-size="8.7" fill="#00a770">Honduras</text>
<text x="241.9" y="1487.7" font-size="8.7" fill="#d76e7e">Vanuatu</text>
<text x="301.8" y="1486.7" font-size="8.7" fill="#638eda">Pakistan</text>
<text x="326.8" y="1487.4" font-size="8.7" fill="#00a0c4">Micronesia (Federated States of)</text>
<text x="346.2" y="1486.7" font-size="8.7" fill="#00a778">India</text>
<text x="270.9" y="1499.6" font-size="8.7" fill="#3994d6">Nigeria</text>
<text x="288.9" y="1499.6" font-size="8.7" fill="#7e9900">Democratic People's Republic of Korea</text>
<text x="306.1" y="1498.9" font-size="8.7" fill="#649d1b">El Salvador</text>
<text x="240.1" y="1511.5" font-size="8.7" fill="#2196d4">Nicaragua</text>
<text x="286.0" y="1511.5" font-size="8.7" fill="#009ccd">Myanmar</text>
<text x="317.5" y="1511.5" font-size="8.7" fill="#00a3bd">Marshall Islands</text>
<text x="329.0" y="1511.5" font-size="8.7" fill="#d66f7b">Venezuela (Bolivarian Republic of)</text>
<text x="399.2" y="1459.9" font-size="8.7" fill="#009fc7">Mongolia</text>
<text x="474.9" y="1290.7" font-size="8.7" fill="#00a6aa">Libya</text>
<text x="530.2" y="1295.0" font-size="8.7" fill="#00a888">Italy</text>
<text x="553.7" y="1293.6" font-size="8.7" fill="#ca7a4f">Australia</text>
<text x="463.1" y="1303.2" font-size="8.7" fill="#00a890">Jordan</text>
<text x="506.1" y="1307.5" font-size="8.7" fill="#5d8fd9">Oman</text>
<text x="542.7" y="1306.5" font-size="8.7" fill="#849700">Cyprus</text>
<text x="461.0" y="1318.0" font-size="8.7" fill="#00a1c0">Mauritius</text>
<text x="509.0" y="1320.8" font-size="8.7" fill="#00a3bb">Malta</text>
<text x="536.9" y="1319.0" font-size="8.7" fill="#d96a91">United Arab Emirates</text>
<text x="422.7" y="1323.7" font-size="8.7" fill="#d17466">Algeria</text>
<text x="507.3" y="1332.7" font-size="8.7" fill="#b873d2">Saudi Arabia</text>
<text x="567.0" y="1332.7" font-size="8.7" fill="#9481db">Qatar</text>
<text x="405.5" y="1337.3" font-size="8.7" fill="#00a77e">Iran (Islamic Republic of)</text>
<text x="510.7" y="1345.2" font-size="8.7" fill="#d86c83">Uruguay</text>
<text x="552.7" y="1345.2" font-size="8.7" fill="#00a89a">Kuwait</text>
<text x="431.9" y="1349.5" font-size="8.7" fill="#00a880">Iraq</text>
<text x="454.2" y="1349.5" font-size="8.7" fill="#cc7856">Argentina</text>
<text x="495.4" y="1357.4" font-size="8.7" fill="#00a4b5">Malaysia</text>
<text x="506.1" y="1357.4" font-size="8.7" fill="#d867a3">Trinidad and Tobago</text>
<text x="432.7" y="1361.7" font-size="8.7" fill="#00a66a">Guyana</text>
<text x="474.6" y="1369.6" font-size="8.7" fill="#cf69bf">Sri Lanka</text>
<text x="488.9" y="1369.6" font-size="8.7" fill="#9b7eda">Republic of Moldova</text>
<text x="562.0" y="1369.6" font-size="8.7" fill="#d96994">Ukraine</text>
<text x="423.7" y="1373.9" font-size="8.7" fill="#609e21">Equatorial Guinea</text>
<text x="535.5" y="1381.8" font-size="8.7" fill="#c18035">Belarus</text>
<text x="414.4" y="1386.1" font-size="8.7" fill="#ab78d7">Saint Lucia</text>
<text x="466.0" y="1387.5" font-size="8.7" fill="#d667ae">Thailand</text>
<text x="503.5" y="1385.3" font-size="8.7" fill="#27a34a">Georgia</text>
<text x="552.7" y="1394.7" font-size="8.7" fill="#af8900">Bulgaria</text>
<text x="440.2" y="1399.0" font-size="8.7" fill="#cb6ac4">South Africa</text>
<text x="480.3" y="1399.0" font-size="8.7" fill="#be70cf">Seychelles</text>
<text x="525.0" y="1401.5" font-size="8.7" fill="#729b00">Dominica</text>
<text x="666.2" y="1289.6" font-size="8.7" fill="#1ca34d">Germany</text>
<text x="593.5" y="1289.2" font-size="8.7" fill="#d96a8e">United Kingdom</text>
<text x="589.0" y="1302.3" font-size="8.7" fill="#c08130">Belgium</text>
<text x="637.9" y="1301.9" font-size="8.7" fill="#789a00">Denmark</text>
<text x="613.1" y="1314.0" font-size="8.7" fill="#00a6af">Luxembourg</text>
<text x="612.5" y="1327.3" font-size="8.7" fill="#a48e00">Canada</text>
<text x="649.6" y="1327.3" font-size="8.7" fill="#d367b7">Switzerland</text>
<text x="640.8" y="1339.4" font-size="8.7" fill="#d268b9">Sweden</text>
<text x="595.9" y="1345.3" font-size="8.7" fill="#c97b4c">Austria</text>
<text x="676.4" y="1352.1" font-size="8.7" fill="#5790d9">Norway</text>
<text x="640.8" y="1351.6" font-size="8.7" fill="#00a775">Iceland</text>
<text x="590.0" y="1359.0" font-size="8.7" fill="#0b97d3">New Zealand</text>
<text x="615.4" y="1371.1" font-size="8.7" fill="#00a6ac">Lithuania</text>
<text x="584.5" y="1382.4" font-size="8.7" fill="#00a7a1">Latvia</text>
<text x="615.4" y="1391.8" font-size="8.7" fill="#589f2b">Estonia</text>
<text x="593.5" y="1403.6" font-size="8.7" fill="#c77c44">Bahamas</text>
<text x="621.4" y="1415.5" font-size="8.7" fill="#bb8322">Bermuda</text>
<text x="583.5" y="1415.4" font-size="8.7" fill="#00a55e">Guam</text>
<text x="509.8" y="1415.4" font-size="8.7" fill="#5191d8">Northern Mariana Islands</text>
<text x="609.6" y="1427.3" font-size="8.7" fill="#d86c86">United States Virgin Islands</text>
<text x="580.2" y="1427.3" font-size="8.7" fill="#987fdb">Republic of Korea</text>
<text x="429.7" y="1412.2" font-size="8.7" fill="#6b9c0b">Ecuador</text>
<text x="469.9" y="1413.3" font-size="8.7" fill="#cb7953">Armenia</text>
<text x="498.5" y="1413.3" font-size="8.7" fill="#c37f39">Barbados</text>
<text x="454.8" y="1425.1" font-size="8.7" fill="#00a88b">Jamaica</text>
<text x="468.8" y="1428.3" font-size="8.7" fill="#c87c48">Azerbaijan</text>
<text x="486.0" y="1427.2" font-size="8.7" fill="#4a92d7">North Macedonia</text>
<text x="520.4" y="1427.2" font-size="8.7" fill="#009ec8">Montenegro</text>
<text x="419.8" y="1440.1" font-size="8.7" fill="#00a55a">Grenada</text>
<text x="449.0" y="1439.1" font-size="8.7" fill="#d9689b">Turkmenistan</text>
<text x="452.7" y="1442.3" font-size="8.7" fill="#b6860c">Bosnia and Herzegovina</text>
<text x="562.3" y="1439.1" font-size="8.7" fill="#8a9600">Croatia</text>
<text x="597.8" y="1440.1" font-size="8.7" fill="#819800">Czechia</text>
<text x="636.5" y="1440.1" font-size="8.7" fill="#c66cc9">Slovenia</text>
<text x="517.2" y="1443.4" font-size="8.7" fill="#9f7dda">Romania</text>
<text x="613.9" y="1452.6" font-size="8.7" fill="#c26ecc">Singapore</text>
<text x="573.7" y="1455.6" font-size="8.7" fill="#c46dca">Slovakia</text>
<text x="429.0" y="1456.3" font-size="8.7" fill="#00a77b">Indonesia</text>
<text x="462.3" y="1457.3" font-size="8.7" fill="#d867a7">Tokelau</text>
<text x="493.9" y="1457.3" font-size="8.7" fill="#00a893">Kazakhstan</text>
<text x="526.8" y="1457.3" font-size="8.7" fill="#919400">Cook Islands</text>
<text x="662.7" y="1462.3" font-size="8.7" fill="#00a88e">Japan</text>
<text x="416.1" y="1470.7" font-size="8.7" fill="#d867a5">Tonga</text>
<text x="439.8" y="1469.2" font-size="8.7" fill="#d76d81">Uzbekistan</text>
<text x="486.0" y="1469.2" font-size="8.7" fill="#738adb">Panama</text>
<text x="524.7" y="1469.2" font-size="8.7" fill="#698dda">Palau</text>
<text x="554.3" y="1470.2" font-size="8.7" fill="#00a772">Hungary</text>
<text x="577.3" y="1468.1" font-size="8.7" fill="#b18800">Brunei Darussalam</text>
<text x="455.5" y="1481.0" font-size="8.7" fill="#00a1c2">Mexico</text>
<text x="495.7" y="1481.0" font-size="8.7" fill="#d27369">Albania</text>
<text x="502.8" y="1482.1" font-size="8.7" fill="#ce7759">Antigua and Barbuda</text>
<text x="578.4" y="1479.9" font-size="8.7" fill="#bc71d0">Serbia</text>
<text x="610.7" y="1479.9" font-size="8.7" fill="#9182db">Puerto Rico</text>
<text x="443.0" y="1486.4" font-size="8.7" fill="#d66f78">Viet Nam</text>
<text x="479.5" y="1493.5" font-size="8.7" fill="#49a138">Fiji</text>
<text x="492.9" y="1493.9" font-size="8.7" fill="#d07563">American Samoa</text>
<text x="569.8" y="1493.9" font-size="8.7" fill="#8984db">Poland</text>
<text x="591.3" y="1494.3" font-size="8.7" fill="#d567b3">Taiwan (Province of China)</text>
<text x="406.4" y="1498.2" font-size="8.7" fill="#009acf">Nauru</text>
<text x="438.7" y="1498.6" font-size="8.7" fill="#989200">Colombia</text>
<text x="481.7" y="1505.7" font-size="8.7" fill="#9b9100">China</text>
<text x="554.8" y="1506.4" font-size="8.7" fill="#4293d7">Niue</text>
<text x="561.7" y="1506.8" font-size="8.7" fill="#a879d8">Saint Kitts and Nevis</text>
<text x="642.9" y="1505.7" font-size="8.7" fill="#a27cd9">Russian Federation</text>
<text x="507.5" y="1511.1" font-size="8.7" fill="#8f9500">Costa Rica</text>
<text x="430.1" y="1511.1" font-size="8.7" fill="#b38800">Brazil</text>
<text x="458.0" y="1511.1" font-size="8.7" fill="#8087db">Peru</text>
<text x="398.0" y="1447.5" font-size="8.7" fill="#879700">Cuba</text>
<line x1="82.9" y1="382.7" x2="85.9" y2="382.7" stroke="#4d4d4d" stroke-width="1.4"/>
<text font-size="22.8" fill="#4d4d4d" text-anchor="end" transform="translate(80.9 392.4) scale(1.0 1.06)">500</text>
<line x1="82.9" y1="280.2" x2="85.9" y2="280.2" stroke="#4d4d4d" stroke-width="1.4"/>
<text font-size="22.8" fill="#4d4d4d" text-anchor="end" transform="translate(80.9 289.9) scale(1.0 1.06)">1000</text>
<line x1="82.9" y1="177.7" x2="85.9" y2="177.7" stroke="#4d4d4d" stroke-width="1.4"/>
<text font-size="22.8" fill="#4d4d4d" text-anchor="end" transform="translate(80.9 187.4) scale(1.0 1.06)">1500</text>
<line x1="82.9" y1="75.2" x2="85.9" y2="75.2" stroke="#4d4d4d" stroke-width="1.4"/>
<text font-size="22.8" fill="#4d4d4d" text-anchor="end" transform="translate(80.9 84.9) scale(1.0 1.06)">2000</text>
<line x1="114.9" y1="466.2" x2="114.9" y2="469.2" stroke="#4d4d4d" stroke-width="1.4"/>
<text font-size="22.8" fill="#4d4d4d" text-anchor="middle" transform="translate(114.9 489.8) scale(1.0 1.06)">0.2</text>
<line x1="187.9" y1="466.2" x2="187.9" y2="469.2" stroke="#4d4d4d" stroke-width="1.4"/>
<text font-size="22.8" fill="#4d4d4d" text-anchor="middle" transform="translate(187.9 489.8) scale(1.0 1.06)">0.3</text>
<line x1="260.9" y1="466.2" x2="260.9" y2="469.2" stroke="#4d4d4d" stroke-width="1.4"/>
<text font-size="22.8" fill="#4d4d4d" text-anchor="middle" transform="translate(260.9 489.8) scale(1.0 1.06)">0.4</text>
<line x1="333.9" y1="466.2" x2="333.9" y2="469.2" stroke="#4d4d4d" stroke-width="1.4"/>
<text font-size="22.8" fill="#4d4d4d" text-anchor="middle" transform="translate(333.9 489.8) scale(1.0 1.06)">0.5</text>
<line x1="406.9" y1="466.2" x2="406.9" y2="469.2" stroke="#4d4d4d" stroke-width="1.4"/>
<text font-size="22.8" fill="#4d4d4d" text-anchor="middle" transform="translate(406.9 489.8) scale(1.0 1.06)">0.6</text>
<line x1="479.9" y1="466.2" x2="479.9" y2="469.2" stroke="#4d4d4d" stroke-width="1.4"/>
<text font-size="22.8" fill="#4d4d4d" text-anchor="middle" transform="translate(479.9 489.8) scale(1.0 1.06)">0.7</text>
<line x1="552.9" y1="466.2" x2="552.9" y2="469.2" stroke="#4d4d4d" stroke-width="1.4"/>
<text font-size="22.8" fill="#4d4d4d" text-anchor="middle" transform="translate(552.9 489.8) scale(1.0 1.06)">0.8</text>
<line x1="625.9" y1="466.2" x2="625.9" y2="469.2" stroke="#4d4d4d" stroke-width="1.4"/>
<text font-size="22.8" fill="#4d4d4d" text-anchor="middle" transform="translate(625.9 489.8) scale(1.0 1.06)">0.9</text>
<line x1="698.9" y1="466.2" x2="698.9" y2="469.2" stroke="#4d4d4d" stroke-width="1.4"/>
<text font-size="22.8" fill="#4d4d4d" text-anchor="middle" transform="translate(698.9 489.8) scale(1.0 1.06)">1.0</text>
<line x1="85.9" y1="42.0" x2="85.9" y2="467.0" stroke="#4d4d4d" stroke-width="1.6"/>
<line x1="85.1" y1="466.2" x2="727.0" y2="466.2" stroke="#4d4d4d" stroke-width="1.6"/>
<line x1="82.6" y1="895.9" x2="85.6" y2="895.9" stroke="#4d4d4d" stroke-width="1.4"/>
<text font-size="22.8" fill="#4d4d4d" text-anchor="end" transform="translate(80.6 905.6) scale(1.0 1.06)">1000</text>
<line x1="82.6" y1="782.6" x2="85.6" y2="782.6" stroke="#4d4d4d" stroke-width="1.4"/>
<text font-size="22.8" fill="#4d4d4d" text-anchor="end" transform="translate(80.6 792.3) scale(1.0 1.06)">2000</text>
<line x1="82.6" y1="669.4" x2="85.6" y2="669.4" stroke="#4d4d4d" stroke-width="1.4"/>
<text font-size="22.8" fill="#4d4d4d" text-anchor="end" transform="translate(80.6 679.1) scale(1.0 1.06)">3000</text>
<line x1="114.7" y1="990.5" x2="114.7" y2="993.5" stroke="#4d4d4d" stroke-width="1.4"/>
<text font-size="22.8" fill="#4d4d4d" text-anchor="middle" transform="translate(114.7 1014.1) scale(1.0 1.06)">0.2</text>
<line x1="187.7" y1="990.5" x2="187.7" y2="993.5" stroke="#4d4d4d" stroke-width="1.4"/>
<text font-size="22.8" fill="#4d4d4d" text-anchor="middle" transform="translate(187.7 1014.1) scale(1.0 1.06)">0.3</text>
<line x1="260.7" y1="990.5" x2="260.7" y2="993.5" stroke="#4d4d4d" stroke-width="1.4"/>
<text font-size="22.8" fill="#4d4d4d" text-anchor="middle" transform="translate(260.7 1014.1) scale(1.0 1.06)">0.4</text>
<line x1="333.7" y1="990.5" x2="333.7" y2="993.5" stroke="#4d4d4d" stroke-width="1.4"/>
<text font-size="22.8" fill="#4d4d4d" text-anchor="middle" transform="translate(333.7 1014.1) scale(1.0 1.06)">0.5</text>
<line x1="406.7" y1="990.5" x2="406.7" y2="993.5" stroke="#4d4d4d" stroke-width="1.4"/>
<text font-size="22.8" fill="#4d4d4d" text-anchor="middle" transform="translate(406.7 1014.1) scale(1.0 1.06)">0.6</text>
<line x1="479.7" y1="990.5" x2="479.7" y2="993.5" stroke="#4d4d4d" stroke-width="1.4"/>
<text font-size="22.8" fill="#4d4d4d" text-anchor="middle" transform="translate(479.7 1014.1) scale(1.0 1.06)">0.7</text>
<line x1="552.7" y1="990.5" x2="552.7" y2="993.5" stroke="#4d4d4d" stroke-width="1.4"/>
<text font-size="22.8" fill="#4d4d4d" text-anchor="middle" transform="translate(552.7 1014.1) scale(1.0 1.06)">0.8</text>
<line x1="625.7" y1="990.5" x2="625.7" y2="993.5" stroke="#4d4d4d" stroke-width="1.4"/>
<text font-size="22.8" fill="#4d4d4d" text-anchor="middle" transform="translate(625.7 1014.1) scale(1.0 1.06)">0.9</text>
<line x1="698.7" y1="990.5" x2="698.7" y2="993.5" stroke="#4d4d4d" stroke-width="1.4"/>
<text font-size="22.8" fill="#4d4d4d" text-anchor="middle" transform="translate(698.7 1014.1) scale(1.0 1.06)">1.0</text>
<line x1="85.6" y1="566.0" x2="85.6" y2="991.3" stroke="#4d4d4d" stroke-width="1.6"/>
<line x1="84.8" y1="990.5" x2="727.0" y2="990.5" stroke="#4d4d4d" stroke-width="1.6"/>
<line x1="77.5" y1="1437.3" x2="80.5" y2="1437.3" stroke="#4d4d4d" stroke-width="1.4"/>
<text font-size="22.8" fill="#4d4d4d" text-anchor="end" transform="translate(75.5 1447.0) scale(1.0 1.06)">100</text>
<line x1="77.5" y1="1341.0" x2="80.5" y2="1341.0" stroke="#4d4d4d" stroke-width="1.4"/>
<text font-size="22.8" fill="#4d4d4d" text-anchor="end" transform="translate(75.5 1350.6) scale(1.0 1.06)">200</text>
<line x1="77.5" y1="1244.6" x2="80.5" y2="1244.6" stroke="#4d4d4d" stroke-width="1.4"/>
<text font-size="22.8" fill="#4d4d4d" text-anchor="end" transform="translate(75.5 1254.3) scale(1.0 1.06)">300</text>
<line x1="77.5" y1="1148.3" x2="80.5" y2="1148.3" stroke="#4d4d4d" stroke-width="1.4"/>
<text font-size="22.8" fill="#4d4d4d" text-anchor="end" transform="translate(75.5 1158.0) scale(1.0 1.06)">400</text>
<line x1="110.1" y1="1514.9" x2="110.1" y2="1517.9" stroke="#4d4d4d" stroke-width="1.4"/>
<text font-size="22.8" fill="#4d4d4d" text-anchor="middle" transform="translate(110.1 1538.5) scale(1.0 1.06)">0.2</text>
<line x1="183.6" y1="1514.9" x2="183.6" y2="1517.9" stroke="#4d4d4d" stroke-width="1.4"/>
<text font-size="22.8" fill="#4d4d4d" text-anchor="middle" transform="translate(183.6 1538.5) scale(1.0 1.06)">0.3</text>
<line x1="257.1" y1="1514.9" x2="257.1" y2="1517.9" stroke="#4d4d4d" stroke-width="1.4"/>
<text font-size="22.8" fill="#4d4d4d" text-anchor="middle" transform="translate(257.1 1538.5) scale(1.0 1.06)">0.4</text>
<line x1="330.6" y1="1514.9" x2="330.6" y2="1517.9" stroke="#4d4d4d" stroke-width="1.4"/>
<text font-size="22.8" fill="#4d4d4d" text-anchor="middle" transform="translate(330.6 1538.5) scale(1.0 1.06)">0.5</text>
<line x1="404.1" y1="1514.9" x2="404.1" y2="1517.9" stroke="#4d4d4d" stroke-width="1.4"/>
<text font-size="22.8" fill="#4d4d4d" text-anchor="middle" transform="translate(404.1 1538.5) scale(1.0 1.06)">0.6</text>
<line x1="477.6" y1="1514.9" x2="477.6" y2="1517.9" stroke="#4d4d4d" stroke-width="1.4"/>
<text font-size="22.8" fill="#4d4d4d" text-anchor="middle" transform="translate(477.6 1538.5) scale(1.0 1.06)">0.7</text>
<line x1="551.1" y1="1514.9" x2="551.1" y2="1517.9" stroke="#4d4d4d" stroke-width="1.4"/>
<text font-size="22.8" fill="#4d4d4d" text-anchor="middle" transform="translate(551.1 1538.5) scale(1.0 1.06)">0.8</text>
<line x1="624.6" y1="1514.9" x2="624.6" y2="1517.9" stroke="#4d4d4d" stroke-width="1.4"/>
<text font-size="22.8" fill="#4d4d4d" text-anchor="middle" transform="translate(624.6 1538.5) scale(1.0 1.06)">0.9</text>
<line x1="698.1" y1="1514.9" x2="698.1" y2="1517.9" stroke="#4d4d4d" stroke-width="1.4"/>
<text font-size="22.8" fill="#4d4d4d" text-anchor="middle" transform="translate(698.1 1538.5) scale(1.0 1.06)">1.0</text>
<line x1="80.5" y1="1090.2" x2="80.5" y2="1515.7" stroke="#4d4d4d" stroke-width="1.6"/>
<line x1="79.7" y1="1514.9" x2="727.0" y2="1514.9" stroke="#4d4d4d" stroke-width="1.6"/>
<line x1="860.5" y1="431.5" x2="863.0" y2="431.5" stroke="#4d4d4d" stroke-width="1.4"/>
<text x="858.0" y="437.5" font-size="16.8" fill="#4d4d4d" text-anchor="end">−1</text>
<line x1="860.5" y1="349.3" x2="863.0" y2="349.3" stroke="#4d4d4d" stroke-width="1.4"/>
<text x="858.0" y="355.3" font-size="16.8" fill="#4d4d4d" text-anchor="end">0</text>
<line x1="860.5" y1="267.1" x2="863.0" y2="267.1" stroke="#4d4d4d" stroke-width="1.4"/>
<text x="858.0" y="273.1" font-size="16.8" fill="#4d4d4d" text-anchor="end">1</text>
<line x1="860.5" y1="184.9" x2="863.0" y2="184.9" stroke="#4d4d4d" stroke-width="1.4"/>
<text x="858.0" y="190.9" font-size="16.8" fill="#4d4d4d" text-anchor="end">2</text>
<line x1="860.5" y1="102.7" x2="863.0" y2="102.7" stroke="#4d4d4d" stroke-width="1.4"/>
<text x="858.0" y="108.7" font-size="16.8" fill="#4d4d4d" text-anchor="end">3</text>
<line x1="911.5" y1="462.1" x2="911.5" y2="464.6" stroke="#4d4d4d" stroke-width="1.4"/>
<text x="910.7" y="478.1" font-size="16.8" fill="#4d4d4d" text-anchor="middle">500</text>
<line x1="971.0" y1="462.1" x2="971.0" y2="464.6" stroke="#4d4d4d" stroke-width="1.4"/>
<text x="970.2" y="478.1" font-size="16.8" fill="#4d4d4d" text-anchor="middle">1000</text>
<line x1="1030.5" y1="462.1" x2="1030.5" y2="464.6" stroke="#4d4d4d" stroke-width="1.4"/>
<text x="1029.7" y="478.1" font-size="16.8" fill="#4d4d4d" text-anchor="middle">1500</text>
<line x1="1090.0" y1="462.1" x2="1090.0" y2="464.6" stroke="#4d4d4d" stroke-width="1.4"/>
<text x="1089.2" y="478.1" font-size="16.8" fill="#4d4d4d" text-anchor="middle">2000</text>
<line x1="863.0" y1="46.3" x2="863.0" y2="462.9" stroke="#4d4d4d" stroke-width="1.6"/>
<line x1="862.2" y1="462.1" x2="1109.2" y2="462.1" stroke="#4d4d4d" stroke-width="1.6"/>
<line x1="860.5" y1="961.6" x2="863.0" y2="961.6" stroke="#4d4d4d" stroke-width="1.4"/>
<text x="858.0" y="967.6" font-size="16.8" fill="#4d4d4d" text-anchor="end">−1</text>
<line x1="860.5" y1="879.4" x2="863.0" y2="879.4" stroke="#4d4d4d" stroke-width="1.4"/>
<text x="858.0" y="885.4" font-size="16.8" fill="#4d4d4d" text-anchor="end">0</text>
<line x1="860.5" y1="797.2" x2="863.0" y2="797.2" stroke="#4d4d4d" stroke-width="1.4"/>
<text x="858.0" y="803.2" font-size="16.8" fill="#4d4d4d" text-anchor="end">1</text>
<line x1="860.5" y1="714.9" x2="863.0" y2="714.9" stroke="#4d4d4d" stroke-width="1.4"/>
<text x="858.0" y="720.9" font-size="16.8" fill="#4d4d4d" text-anchor="end">2</text>
<line x1="860.5" y1="632.7" x2="863.0" y2="632.7" stroke="#4d4d4d" stroke-width="1.4"/>
<text x="858.0" y="638.7" font-size="16.8" fill="#4d4d4d" text-anchor="end">3</text>
<line x1="917.7" y1="986.1" x2="917.7" y2="988.6" stroke="#4d4d4d" stroke-width="1.4"/>
<text x="916.9" y="1002.1" font-size="16.8" fill="#4d4d4d" text-anchor="middle">1000</text>
<line x1="983.5" y1="986.1" x2="983.5" y2="988.6" stroke="#4d4d4d" stroke-width="1.4"/>
<text x="982.7" y="1002.1" font-size="16.8" fill="#4d4d4d" text-anchor="middle">2000</text>
<line x1="1049.2" y1="986.1" x2="1049.2" y2="988.6" stroke="#4d4d4d" stroke-width="1.4"/>
<text x="1048.4" y="1002.1" font-size="16.8" fill="#4d4d4d" text-anchor="middle">3000</text>
<line x1="863.0" y1="570.7" x2="863.0" y2="986.9" stroke="#4d4d4d" stroke-width="1.6"/>
<line x1="862.2" y1="986.1" x2="1109.2" y2="986.1" stroke="#4d4d4d" stroke-width="1.6"/>
<line x1="860.5" y1="1480.6" x2="863.0" y2="1480.6" stroke="#4d4d4d" stroke-width="1.4"/>
<text x="858.0" y="1486.6" font-size="16.8" fill="#4d4d4d" text-anchor="end">−1</text>
<line x1="860.5" y1="1398.5" x2="863.0" y2="1398.5" stroke="#4d4d4d" stroke-width="1.4"/>
<text x="858.0" y="1404.5" font-size="16.8" fill="#4d4d4d" text-anchor="end">0</text>
<line x1="860.5" y1="1316.4" x2="863.0" y2="1316.4" stroke="#4d4d4d" stroke-width="1.4"/>
<text x="858.0" y="1322.5" font-size="16.8" fill="#4d4d4d" text-anchor="end">1</text>
<line x1="860.5" y1="1234.4" x2="863.0" y2="1234.4" stroke="#4d4d4d" stroke-width="1.4"/>
<text x="858.0" y="1240.4" font-size="16.8" fill="#4d4d4d" text-anchor="end">2</text>
<line x1="860.5" y1="1152.3" x2="863.0" y2="1152.3" stroke="#4d4d4d" stroke-width="1.4"/>
<text x="858.0" y="1158.3" font-size="16.8" fill="#4d4d4d" text-anchor="end">3</text>
<line x1="908.9" y1="1510.0" x2="908.9" y2="1512.5" stroke="#4d4d4d" stroke-width="1.4"/>
<text x="908.1" y="1526.0" font-size="16.8" fill="#4d4d4d" text-anchor="middle">100</text>
<line x1="966.1" y1="1510.0" x2="966.1" y2="1512.5" stroke="#4d4d4d" stroke-width="1.4"/>
<text x="965.3" y="1526.0" font-size="16.8" fill="#4d4d4d" text-anchor="middle">200</text>
<line x1="1023.3" y1="1510.0" x2="1023.3" y2="1512.5" stroke="#4d4d4d" stroke-width="1.4"/>
<text x="1022.5" y="1526.0" font-size="16.8" fill="#4d4d4d" text-anchor="middle">300</text>
<line x1="1080.5" y1="1510.0" x2="1080.5" y2="1512.5" stroke="#4d4d4d" stroke-width="1.4"/>
<text x="1079.7" y="1526.0" font-size="16.8" fill="#4d4d4d" text-anchor="middle">400</text>
<line x1="863.0" y1="1094.7" x2="863.0" y2="1510.8" stroke="#4d4d4d" stroke-width="1.6"/>
<line x1="862.2" y1="1510.0" x2="1114.7" y2="1510.0" stroke="#4d4d4d" stroke-width="1.6"/>
<line x1="1200.1" y1="431.5" x2="1202.6" y2="431.5" stroke="#4d4d4d" stroke-width="1.4"/>
<text x="1197.6" y="437.5" font-size="16.8" fill="#4d4d4d" text-anchor="end">−1</text>
<line x1="1200.1" y1="349.3" x2="1202.6" y2="349.3" stroke="#4d4d4d" stroke-width="1.4"/>
<text x="1197.6" y="355.3" font-size="16.8" fill="#4d4d4d" text-anchor="end">0</text>
<line x1="1200.1" y1="267.1" x2="1202.6" y2="267.1" stroke="#4d4d4d" stroke-width="1.4"/>
<text x="1197.6" y="273.1" font-size="16.8" fill="#4d4d4d" text-anchor="end">1</text>
<line x1="1200.1" y1="184.9" x2="1202.6" y2="184.9" stroke="#4d4d4d" stroke-width="1.4"/>
<text x="1197.6" y="190.9" font-size="16.8" fill="#4d4d4d" text-anchor="end">2</text>
<line x1="1200.1" y1="102.7" x2="1202.6" y2="102.7" stroke="#4d4d4d" stroke-width="1.4"/>
<text x="1197.6" y="108.7" font-size="16.8" fill="#4d4d4d" text-anchor="end">3</text>
<line x1="1259.3" y1="462.1" x2="1259.3" y2="464.6" stroke="#4d4d4d" stroke-width="1.4"/>
<text x="1258.5" y="478.1" font-size="16.8" fill="#4d4d4d" text-anchor="middle">0.25</text>
<line x1="1324.8" y1="462.1" x2="1324.8" y2="464.6" stroke="#4d4d4d" stroke-width="1.4"/>
<text x="1324.0" y="478.1" font-size="16.8" fill="#4d4d4d" text-anchor="middle">0.50</text>
<line x1="1390.2" y1="462.1" x2="1390.2" y2="464.6" stroke="#4d4d4d" stroke-width="1.4"/>
<text x="1389.4" y="478.1" font-size="16.8" fill="#4d4d4d" text-anchor="middle">0.75</text>
<line x1="1202.6" y1="46.3" x2="1202.6" y2="462.9" stroke="#4d4d4d" stroke-width="1.6"/>
<line x1="1201.8" y1="462.1" x2="1449.2" y2="462.1" stroke="#4d4d4d" stroke-width="1.6"/>
<line x1="1200.2" y1="961.6" x2="1202.7" y2="961.6" stroke="#4d4d4d" stroke-width="1.4"/>
<text x="1197.7" y="967.6" font-size="16.8" fill="#4d4d4d" text-anchor="end">−1</text>
<line x1="1200.2" y1="879.5" x2="1202.7" y2="879.5" stroke="#4d4d4d" stroke-width="1.4"/>
<text x="1197.7" y="885.5" font-size="16.8" fill="#4d4d4d" text-anchor="end">0</text>
<line x1="1200.2" y1="797.3" x2="1202.7" y2="797.3" stroke="#4d4d4d" stroke-width="1.4"/>
<text x="1197.7" y="803.3" font-size="16.8" fill="#4d4d4d" text-anchor="end">1</text>
<line x1="1200.2" y1="715.1" x2="1202.7" y2="715.1" stroke="#4d4d4d" stroke-width="1.4"/>
<text x="1197.7" y="721.2" font-size="16.8" fill="#4d4d4d" text-anchor="end">2</text>
<line x1="1200.2" y1="633.0" x2="1202.7" y2="633.0" stroke="#4d4d4d" stroke-width="1.4"/>
<text x="1197.7" y="639.0" font-size="16.8" fill="#4d4d4d" text-anchor="end">3</text>
<line x1="1257.7" y1="986.1" x2="1257.7" y2="988.6" stroke="#4d4d4d" stroke-width="1.4"/>
<text x="1256.9" y="1002.1" font-size="16.8" fill="#4d4d4d" text-anchor="middle">0.25</text>
<line x1="1323.5" y1="986.1" x2="1323.5" y2="988.6" stroke="#4d4d4d" stroke-width="1.4"/>
<text x="1322.7" y="1002.1" font-size="16.8" fill="#4d4d4d" text-anchor="middle">0.50</text>
<line x1="1389.2" y1="986.1" x2="1389.2" y2="988.6" stroke="#4d4d4d" stroke-width="1.4"/>
<text x="1388.4" y="1002.1" font-size="16.8" fill="#4d4d4d" text-anchor="middle">0.75</text>
<line x1="1202.7" y1="571.0" x2="1202.7" y2="986.9" stroke="#4d4d4d" stroke-width="1.6"/>
<line x1="1201.9" y1="986.1" x2="1449.2" y2="986.1" stroke="#4d4d4d" stroke-width="1.6"/>
<line x1="1200.2" y1="1480.6" x2="1202.7" y2="1480.6" stroke="#4d4d4d" stroke-width="1.4"/>
<text x="1197.7" y="1486.6" font-size="16.8" fill="#4d4d4d" text-anchor="end">−1</text>
<line x1="1200.2" y1="1398.6" x2="1202.7" y2="1398.6" stroke="#4d4d4d" stroke-width="1.4"/>
<text x="1197.7" y="1404.6" font-size="16.8" fill="#4d4d4d" text-anchor="end">0</text>
<line x1="1200.2" y1="1316.5" x2="1202.7" y2="1316.5" stroke="#4d4d4d" stroke-width="1.4"/>
<text x="1197.7" y="1322.6" font-size="16.8" fill="#4d4d4d" text-anchor="end">1</text>
<line x1="1200.2" y1="1234.5" x2="1202.7" y2="1234.5" stroke="#4d4d4d" stroke-width="1.4"/>
<text x="1197.7" y="1240.5" font-size="16.8" fill="#4d4d4d" text-anchor="end">2</text>
<line x1="1200.2" y1="1152.5" x2="1202.7" y2="1152.5" stroke="#4d4d4d" stroke-width="1.4"/>
<text x="1197.7" y="1158.5" font-size="16.8" fill="#4d4d4d" text-anchor="end">3</text>
<line x1="1260.1" y1="1509.8" x2="1260.1" y2="1512.3" stroke="#4d4d4d" stroke-width="1.4"/>
<text x="1259.3" y="1525.8" font-size="16.8" fill="#4d4d4d" text-anchor="middle">0.25</text>
<line x1="1327.0" y1="1509.8" x2="1327.0" y2="1512.3" stroke="#4d4d4d" stroke-width="1.4"/>
<text x="1326.2" y="1525.8" font-size="16.8" fill="#4d4d4d" text-anchor="middle">0.50</text>
<line x1="1393.9" y1="1509.8" x2="1393.9" y2="1512.3" stroke="#4d4d4d" stroke-width="1.4"/>
<text x="1393.1" y="1525.8" font-size="16.8" fill="#4d4d4d" text-anchor="middle">0.75</text>
<line x1="1202.7" y1="1094.7" x2="1202.7" y2="1510.6" stroke="#4d4d4d" stroke-width="1.6"/>
<line x1="1201.9" y1="1509.8" x2="1454.5" y2="1509.8" stroke="#4d4d4d" stroke-width="1.6"/>
<text font-size="22.8" fill="#000" text-anchor="middle" transform="translate(27.5 243.8) rotate(-90)">Prevalence Rate</text>
<text font-size="22.8" fill="#000" text-anchor="middle" transform="translate(28.0 763.6) rotate(-90)">Incidence Rate</text>
<text font-size="22.8" fill="#000" text-anchor="middle" transform="translate(27.6 1284.8) rotate(-90)">DALY Rate</text>
<text x="416.0" y="512.4" font-size="22.8" fill="#000" text-anchor="middle">SDI</text>
<text x="416.1" y="1033.6" font-size="22.8" fill="#000" text-anchor="middle">SDI</text>
<text x="413.4" y="1560.2" font-size="22.8" fill="#000" text-anchor="middle">SDI</text>
<text x="1001.7" y="514.0" font-size="16.8" fill="#000" text-anchor="middle">Prevalence</text>
<text x="999.8" y="1035.3" font-size="16.8" fill="#000" text-anchor="middle">Incidence</text>
<text x="975.4" y="1558.2" font-size="16.8" fill="#000" text-anchor="middle">DALYs</text>
<text x="1331.0" y="513.3" font-size="16.8" fill="#000" text-anchor="middle">SDI</text>
<text x="1331.0" y="1035.3" font-size="16.8" fill="#000" text-anchor="middle">SDI</text>
<text x="1333.5" y="1558.2" font-size="16.8" fill="#000" text-anchor="middle">SDI</text>
<text font-size="14" fill="#000" text-anchor="middle" transform="translate(844.0 249.5) rotate(-90)">EAPC</text>
<text font-size="16" fill="#000" text-anchor="middle" transform="translate(844.0 770.0) rotate(-90)">EAPC</text>
<text font-size="11" fill="#000" text-anchor="middle" transform="translate(843.8 1302.0) rotate(-90)">EAPC</text>
<text font-size="16" fill="#000" text-anchor="middle" transform="translate(1182.6 245.7) rotate(-90)">EAPC</text>
<text font-size="16" fill="#000" text-anchor="middle" transform="translate(1184.2 769.5) rotate(-90)">EAPC</text>
<text font-size="11" fill="#000" text-anchor="middle" transform="translate(1183.7 1302.0) rotate(-90)">EAPC</text>
<text x="876.3" y="106.6" font-size="17" fill="#000" style="font-weight:normal"><tspan style="font-style:italic">R</tspan> = 0.21, <tspan style="font-style:italic">p</tspan> = 0.002</text>
<text x="880.2" y="636.6" font-size="17" fill="#000" style="font-weight:normal"><tspan style="font-style:italic">R</tspan> = 0.22, <tspan style="font-style:italic">p</tspan> = 0.0017</text>
<text x="882.1" y="1158.6" font-size="17" fill="#000" style="font-weight:normal"><tspan style="font-style:italic">R</tspan> = 0.21, <tspan style="font-style:italic">p</tspan> = 0.0028</text>
<text x="1217.0" y="106.6" font-size="17" fill="#000" style="font-weight:normal"><tspan style="font-style:italic">R</tspan> = 0.078, <tspan style="font-style:italic">p</tspan> = 0.27</text>
<text x="1220.6" y="636.5" font-size="17" fill="#000" style="font-weight:normal"><tspan style="font-style:italic">R</tspan> = 0.079, <tspan style="font-style:italic">p</tspan> = 0.26</text>
<text x="1213.8" y="1158.2" font-size="17" fill="#000" style="font-weight:normal"><tspan style="font-style:italic">R</tspan> = 0.065, <tspan style="font-style:italic">p</tspan> = 0.36</text>
<text x="1464.8" y="234.1" font-size="16.8" fill="#000">Value</text>
<circle cx="1475.3" cy="253.3" r="4.6" fill="#e6797a"/>
<text x="1493.1" y="258.6" font-size="16.8" fill="#000">500</text>
<circle cx="1475.3" cy="274.2" r="6.3" fill="#e6797a"/>
<text x="1493.1" y="279.5" font-size="16.8" fill="#000">1000</text>
<circle cx="1475.3" cy="295.2" r="7.3" fill="#e6797a"/>
<text x="1493.1" y="300.5" font-size="16.8" fill="#000">1500</text>
<circle cx="1475.3" cy="316.4" r="8.4" fill="#e6797a"/>
<text x="1493.1" y="321.5" font-size="16.8" fill="#000">2000</text>
<text x="1464.2" y="764.0" font-size="16.8" fill="#000">Value</text>
<circle cx="1474.7" cy="784.0" r="4.9" fill="#e6797a"/>
<text x="1492.8" y="789.7" font-size="16.8" fill="#000">1000</text>
<circle cx="1474.7" cy="806.0" r="6.4" fill="#e6797a"/>
<text x="1492.8" y="811.7" font-size="16.8" fill="#000">2000</text>
<circle cx="1474.7" cy="828.0" r="7.6" fill="#e6797a"/>
<text x="1492.8" y="833.7" font-size="16.8" fill="#000">3000</text>
<text x="1468.3" y="1281.6" font-size="16.8" fill="#000">Value</text>
<circle cx="1478.8" cy="1303.5" r="5.1" fill="#e6797a"/>
<text x="1499.1" y="1309.2" font-size="16.8" fill="#000">100</text>
<circle cx="1478.8" cy="1327.2" r="7.1" fill="#e6797a"/>
<text x="1499.1" y="1332.9" font-size="16.8" fill="#000">200</text>
<circle cx="1478.8" cy="1350.5" r="8.5" fill="#e6797a"/>
<text x="1499.1" y="1356.2" font-size="16.8" fill="#000">300</text>
<circle cx="1478.8" cy="1374.4" r="9.8" fill="#e6797a"/>
<text x="1499.1" y="1380.1" font-size="16.8" fill="#000">400</text>
</svg></body></html>
